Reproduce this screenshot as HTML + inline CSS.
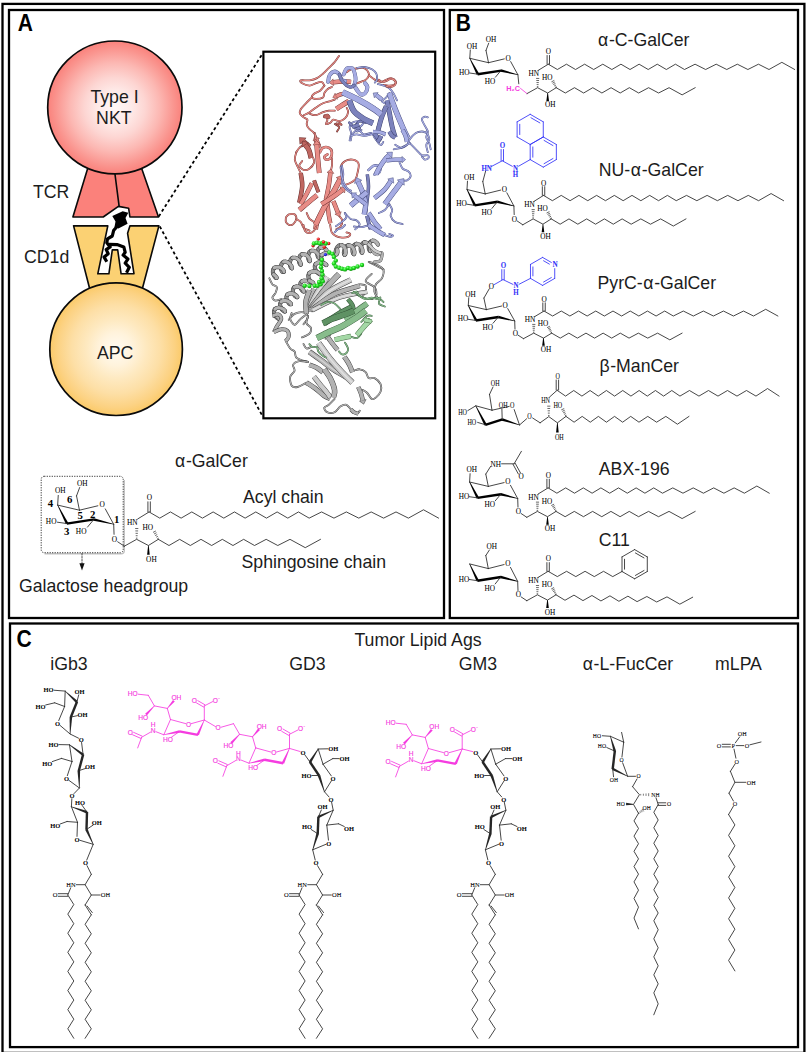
<!DOCTYPE html>
<html lang="en">
<head>
<meta charset="utf-8">
<title>iNKT cell lipid antigens</title>
<style>
html,body{margin:0;padding:0;background:#fff;}
body{width:810px;height:1052px;overflow:hidden;}
svg{display:block;}
.sa{font-family:"Liberation Sans",Arial,Helvetica,sans-serif;}
.se{font-family:"Liberation Serif","Times New Roman",Times,serif;}
</style>
</head>
<body>
<svg width="810" height="1052" viewBox="0 0 810 1052">
<defs>
<radialGradient id="gP" cx="50%" cy="50%" r="50%">
<stop offset="0" stop-color="#fff8f7"/><stop offset="0.25" stop-color="#feeae8"/><stop offset="0.45" stop-color="#fdd6d3"/><stop offset="0.67" stop-color="#fcb8b3"/><stop offset="0.88" stop-color="#fa958f"/><stop offset="1" stop-color="#fa827c"/>
</radialGradient>
<radialGradient id="gO" cx="50%" cy="50%" r="50%">
<stop offset="0" stop-color="#fffbf2"/><stop offset="0.25" stop-color="#fff3dc"/><stop offset="0.45" stop-color="#fee9c0"/><stop offset="0.67" stop-color="#fddfa6"/><stop offset="0.88" stop-color="#fcd283"/><stop offset="1" stop-color="#fbca69"/>
</radialGradient>
</defs>
<rect x="0" y="0" width="810" height="1052" fill="#fff"/>
<rect x="2.5" y="3.9" width="801.9" height="1049.0" fill="none" stroke="#000" stroke-width="2.3"/>
<rect x="9.0" y="10.0" width="435.0" height="608.0" fill="none" stroke="#000" stroke-width="2.3"/>
<rect x="449.8" y="10.0" width="348.2" height="608.0" fill="none" stroke="#000" stroke-width="2.3"/>
<rect x="10.0" y="623.5" width="788.0" height="423.6" fill="none" stroke="#000" stroke-width="2.3"/>
<polygon points="87.80,168.00 141.50,168.00 158.50,217.00 129.90,217.00 128.60,208.20 118.40,206.40 103.20,217.00 72.90,217.00" fill="#fb817b" stroke="#0a0a0a" stroke-width="1.6" stroke-linejoin="round" />
<line x1="114.70" y1="172.00" x2="119.10" y2="206.20" stroke="#0a0a0a" stroke-width="1.6" stroke-linecap="round" />
<polygon points="73.60,225.90 107.80,225.90 97.80,273.80 108.90,273.80 112.30,249.90 117.70,249.90 121.10,273.80 134.00,273.80 127.60,233.30 129.90,225.90 158.90,225.90 142.00,290.00 90.00,290.00" fill="#fbd173" stroke="#0a0a0a" stroke-width="1.6" stroke-linejoin="round" />
<ellipse cx="114.85" cy="107.4" rx="67.15" ry="66.4" fill="url(#gP)" stroke="#0a0a0a" stroke-width="1.7"/>
<circle cx="116.1" cy="349.2" r="66.3" fill="url(#gO)" stroke="#0a0a0a" stroke-width="1.7"/>
<path d="M112.3,216 L122.7,211.3 L128.3,212.7 L125.5,218.1 L127.6,223.8 L118.4,228.6 L114.5,227 L115.5,221.5 Z" fill="#000"/>
<path d="M117,226.5 L113.6,230.6 L112.3,236 L107.5,238.8 L106.8,242.8 L110.2,246.9 L106.2,249.6 L108.2,253.7 L104.1,257.1 L106.8,261.8" fill="none" stroke="#000" stroke-width="3.2" stroke-linejoin="round"/>
<path d="M109,244.3 L117,244.6 L123.8,246.9 L125.2,252.3 L123.1,255.1 L127.9,259.1 L125.2,263.2 L129.3,267.3 L126.5,272.7" fill="none" stroke="#000" stroke-width="3.2" stroke-linejoin="round"/>
<line x1="158.80" y1="216.40" x2="263.00" y2="53.00" stroke="#000" stroke-width="1.8" stroke-dasharray="3 2.7" stroke-linecap="butt"/>
<line x1="159.80" y1="226.50" x2="263.00" y2="417.00" stroke="#000" stroke-width="1.8" stroke-dasharray="3 2.7" stroke-linecap="butt"/>
<text x="114.50" y="102.80" class="sa" font-size="17.7" font-weight="normal" text-anchor="middle" fill="#1c1c1c" >Type I</text>
<text x="113.80" y="124.20" class="sa" font-size="17.7" font-weight="normal" text-anchor="middle" fill="#1c1c1c" >NKT</text>
<text x="33.00" y="198.40" class="sa" font-size="17.7" font-weight="normal" text-anchor="start" fill="#1c1c1c" >TCR</text>
<text x="24.00" y="263.00" class="sa" font-size="17.7" font-weight="normal" text-anchor="start" fill="#1c1c1c" >CD1d</text>
<text x="115.20" y="359.00" class="sa" font-size="17.7" font-weight="normal" text-anchor="middle" fill="#1c1c1c" >APC</text>
<text transform="translate(17.7,31.2) scale(0.89,1)" class="sa" font-size="23.6" font-weight="bold" fill="#000">A</text>
<rect x="263.4" y="51.7" width="171.8" height="366.6" fill="#fff" stroke="#000" stroke-width="2.2"/>
<path d="M44.5,553.7 H121 Q124.3,553.7 124.3,550.4 V480" fill="none" stroke="#9a9a9a" stroke-opacity="0.6" stroke-width="1.4"/>
<rect x="41.2" y="476.3" width="82" height="76.4" rx="3" ry="3" fill="none" stroke="#2a2a2a" stroke-width="0.95" stroke-dasharray="1.2 1.3"/>
<line x1="82.00" y1="553.50" x2="82.00" y2="565.00" stroke="#222" stroke-width="0.8" stroke-linecap="round" stroke-dasharray="1.6 1.4"/>
<polygon points="79.40,563.20 84.60,563.20 82.00,570.60" fill="#111" stroke="none" stroke-width="0" stroke-linejoin="round" />
<text x="19.00" y="591.60" class="sa" font-size="17.7" font-weight="normal" text-anchor="start" fill="#1c1c1c" >Galactose headgroup</text>
<text x="174.50" y="467.40" class="sa" font-size="17.7" font-weight="normal" text-anchor="start" fill="#1c1c1c"  dx="0.6 0.6">α-GalCer</text>
<text x="243.00" y="503.00" class="sa" font-size="17.7" font-weight="normal" text-anchor="start" fill="#1c1c1c" >Acyl chain</text>
<text x="241.50" y="568.10" class="sa" font-size="17.7" font-weight="normal" text-anchor="start" fill="#1c1c1c" >Sphingosine chain</text>
<line x1="57.66" y1="505.08" x2="79.45" y2="510.20" stroke="#262626" stroke-width="0.85" stroke-linecap="round" />
<line x1="79.45" y1="510.20" x2="97.86" y2="505.78" stroke="#262626" stroke-width="0.85" stroke-linecap="round" />
<line x1="105.31" y1="508.92" x2="113.70" y2="524.30" stroke="#262626" stroke-width="0.85" stroke-linecap="round" />
<text transform="translate(102.28,507.44) scale(0.095,0.1)" class="se" font-size="77.7" font-weight="normal" text-anchor="middle" fill="#000" stroke="#000" stroke-width="0.6">O</text>
<polygon points="57.40,505.21 65.94,524.19 68.26,523.01 57.93,504.94" fill="#000" stroke="none" stroke-width="0" stroke-linejoin="round" />
<line x1="66.80" y1="523.60" x2="94.20" y2="519.41" stroke="#000" stroke-width="2.4" stroke-linecap="butt"/>
<polygon points="113.77,524.01 94.21,518.14 93.58,520.67 113.63,524.59" fill="#000" stroke="none" stroke-width="0" stroke-linejoin="round" />
<line x1="67.10" y1="523.60" x2="57.43" y2="522.20" stroke="#262626" stroke-width="0.85" stroke-linecap="round" />
<text transform="translate(51.14,524.22) scale(0.095,0.1)" class="se" font-size="77.7" font-weight="normal" text-anchor="middle" fill="#000" stroke="#000" stroke-width="0.6">HO</text>
<line x1="93.90" y1="519.41" x2="87.49" y2="527.10" stroke="#262626" stroke-width="0.85" stroke-linecap="round" />
<text transform="translate(81.20,534.24) scale(0.095,0.1)" class="se" font-size="77.7" font-weight="normal" text-anchor="middle" fill="#000" stroke="#000" stroke-width="0.6">HO</text>
<line x1="57.66" y1="505.08" x2="58.25" y2="495.41" stroke="#262626" stroke-width="0.85" stroke-linecap="round" />
<text transform="translate(60.23,493.35) scale(0.095,0.1)" class="se" font-size="77.7" font-weight="normal" text-anchor="middle" fill="#000" stroke="#000" stroke-width="0.6">OH</text>
<line x1="79.45" y1="510.20" x2="76.54" y2="495.87" stroke="#262626" stroke-width="0.85" stroke-linecap="round" />
<line x1="76.54" y1="495.87" x2="79.68" y2="487.49" stroke="#262626" stroke-width="0.85" stroke-linecap="round" />
<text transform="translate(82.36,485.54) scale(0.095,0.1)" class="se" font-size="77.7" font-weight="normal" text-anchor="middle" fill="#000" stroke="#000" stroke-width="0.6">OH</text>
<line x1="113.70" y1="524.30" x2="114.05" y2="534.32" stroke="#262626" stroke-width="0.85" stroke-linecap="round" />
<text transform="translate(114.40,542.04) scale(0.095,0.1)" class="se" font-size="77.7" font-weight="normal" text-anchor="middle" fill="#000" stroke="#000" stroke-width="0.6">O</text>
<line x1="117.66" y1="541.77" x2="124.30" y2="546.20" stroke="#262626" stroke-width="0.85" stroke-linecap="round" />
<polyline points="124.30,546.20 136.65,539.33 148.42,545.50 158.32,539.33" fill="none" stroke="#262626" stroke-width="0.85" stroke-linejoin="round" stroke-linecap="round" />
<line x1="137.02" y1="538.13" x2="136.31" y2="538.13" stroke="#000" stroke-width="0.6" stroke-linecap="round" />
<line x1="137.25" y1="535.73" x2="136.12" y2="535.72" stroke="#000" stroke-width="0.6" stroke-linecap="round" />
<line x1="137.48" y1="533.34" x2="135.93" y2="533.32" stroke="#000" stroke-width="0.6" stroke-linecap="round" />
<line x1="137.72" y1="530.94" x2="135.75" y2="530.92" stroke="#000" stroke-width="0.6" stroke-linecap="round" />
<line x1="137.95" y1="528.54" x2="135.56" y2="528.52" stroke="#000" stroke-width="0.6" stroke-linecap="round" />
<text transform="translate(132.22,525.15) scale(0.095,0.1)" class="se" font-size="77.7" font-weight="normal" text-anchor="middle" fill="#000" stroke="#000" stroke-width="0.6">HN</text>
<line x1="137.70" y1="518.94" x2="149.12" y2="511.95" stroke="#262626" stroke-width="0.85" stroke-linecap="round" />
<line x1="150.32" y1="511.95" x2="150.32" y2="501.82" stroke="#262626" stroke-width="0.85" stroke-linecap="round" />
<line x1="147.92" y1="511.95" x2="147.92" y2="501.82" stroke="#262626" stroke-width="0.85" stroke-linecap="round" />
<text transform="translate(149.35,500.10) scale(0.095,0.1)" class="se" font-size="77.7" font-weight="normal" text-anchor="middle" fill="#000" stroke="#000" stroke-width="0.6">O</text>
<polygon points="148.12,545.50 147.12,554.82 149.72,554.82 148.72,545.50" fill="#000" stroke="none" stroke-width="0" stroke-linejoin="round" />
<text transform="translate(151.45,561.96) scale(0.095,0.1)" class="se" font-size="77.7" font-weight="normal" text-anchor="middle" fill="#000" stroke="#000" stroke-width="0.6">OH</text>
<line x1="158.21" y1="538.32" x2="157.57" y2="538.64" stroke="#000" stroke-width="0.6" stroke-linecap="round" />
<line x1="157.53" y1="536.52" x2="156.52" y2="537.03" stroke="#000" stroke-width="0.6" stroke-linecap="round" />
<line x1="156.86" y1="534.73" x2="155.47" y2="535.43" stroke="#000" stroke-width="0.6" stroke-linecap="round" />
<line x1="156.18" y1="532.93" x2="154.42" y2="533.82" stroke="#000" stroke-width="0.6" stroke-linecap="round" />
<line x1="155.51" y1="531.13" x2="153.37" y2="532.21" stroke="#000" stroke-width="0.6" stroke-linecap="round" />
<text transform="translate(147.83,530.28) scale(0.095,0.1)" class="se" font-size="77.7" font-weight="normal" text-anchor="middle" fill="#000" stroke="#000" stroke-width="0.6">HO</text>
<polyline points="158.32,539.33 168.99,545.50 179.65,539.33 190.32,545.50 200.98,539.33 211.65,545.50 222.32,539.33 232.98,545.50 243.65,539.33 254.53,545.50 266.16,539.33 277.78,545.50 289.99,539.33 305.25,547.66 320.50,539.33" fill="none" stroke="#262626" stroke-width="0.85" stroke-linejoin="round" stroke-linecap="round" />
<polyline points="149.12,511.95 159.78,518.13 170.45,511.95 181.12,518.13 191.79,511.95 202.46,518.13 213.13,511.95 223.80,518.13 234.47,511.95 245.13,518.13 255.80,511.95 266.47,518.13 277.14,511.95 287.81,518.13 298.48,511.95 309.15,518.13 321.55,511.95 333.96,518.13 346.37,511.95 358.78,518.13 371.18,511.95 383.59,518.13 396.00,511.95 408.41,518.13 423.50,509.79 438.60,518.13" fill="none" stroke="#262626" stroke-width="0.85" stroke-linejoin="round" stroke-linecap="round" />
<text x="50.4" y="506.9" class="se" font-size="10.8" font-weight="bold" text-anchor="middle" fill="#000">4</text>
<text x="69.7" y="502.8" class="se" font-size="10.8" font-weight="bold" text-anchor="middle" fill="#000">6</text>
<text x="80.3" y="518.6" class="se" font-size="10.8" font-weight="bold" text-anchor="middle" fill="#000">5</text>
<text x="92.8" y="517.8" class="se" font-size="10.8" font-weight="bold" text-anchor="middle" fill="#000">2</text>
<text x="116.6" y="522.7" class="se" font-size="10.8" font-weight="bold" text-anchor="middle" fill="#000">1</text>
<text x="66.7" y="535.4" class="se" font-size="10.8" font-weight="bold" text-anchor="middle" fill="#000">3</text>
<defs>
<radialGradient id="sG" cx="38%" cy="35%" r="70%"><stop offset="0" stop-color="#8dff8d"/><stop offset="0.45" stop-color="#22e022"/><stop offset="1" stop-color="#0a8a0a"/></radialGradient>
<radialGradient id="sR" cx="38%" cy="35%" r="70%"><stop offset="0" stop-color="#ff9a9a"/><stop offset="0.45" stop-color="#ee2222"/><stop offset="1" stop-color="#8a0a0a"/></radialGradient>
<radialGradient id="sB" cx="38%" cy="35%" r="70%"><stop offset="0" stop-color="#8a8aff"/><stop offset="0.45" stop-color="#2222ee"/><stop offset="1" stop-color="#0a0a8a"/></radialGradient>
</defs>
<g id="structure">
<path d="M339.0,55.9 C338.3,56.9 336.5,59.9 334.8,61.9 C333.1,63.8 330.9,65.8 328.9,67.8 C326.9,69.8 324.9,72.0 323.0,73.7 C321.0,75.4 319.3,77.0 317.0,78.1 C314.8,79.3 312.3,80.0 309.6,80.4 C306.9,80.7 302.0,79.9 300.7,80.4 C299.5,80.9 300.7,82.5 302.2,83.3 C303.7,84.2 307.4,85.6 309.6,85.6 C311.9,85.6 313.6,84.0 315.6,83.3 C317.5,82.7 320.0,81.5 321.5,81.9 C323.0,82.2 324.0,84.9 324.4,85.6" fill="none" stroke="#6e3030" stroke-width="1.8" stroke-linecap="round" stroke-linejoin="round"/>
<path d="M339.0,55.9 C338.3,56.9 336.5,59.9 334.8,61.9 C333.1,63.8 330.9,65.8 328.9,67.8 C326.9,69.8 324.9,72.0 323.0,73.7 C321.0,75.4 319.3,77.0 317.0,78.1 C314.8,79.3 312.3,80.0 309.6,80.4 C306.9,80.7 302.0,79.9 300.7,80.4 C299.5,80.9 300.7,82.5 302.2,83.3 C303.7,84.2 307.4,85.6 309.6,85.6 C311.9,85.6 313.6,84.0 315.6,83.3 C317.5,82.7 320.0,81.5 321.5,81.9 C323.0,82.2 324.0,84.9 324.4,85.6" fill="none" stroke="#e88c86" stroke-width="1.1" stroke-linecap="round" stroke-linejoin="round"/>
<path d="M324.4,85.6 C323.7,86.4 321.7,89.4 320.0,90.7 C318.3,92.1 315.4,92.6 314.1,93.7 C312.7,94.8 311.5,96.5 311.9,97.4 C312.2,98.3 314.4,98.9 316.3,98.9 C318.1,98.9 321.6,98.4 323.0,97.4 C324.3,96.4 323.7,94.3 324.4,93.0 C325.2,91.6 326.2,90.2 327.4,89.3 C328.6,88.3 331.1,87.4 331.9,87.0" fill="none" stroke="#6e3030" stroke-width="1.8" stroke-linecap="round" stroke-linejoin="round"/>
<path d="M324.4,85.6 C323.7,86.4 321.7,89.4 320.0,90.7 C318.3,92.1 315.4,92.6 314.1,93.7 C312.7,94.8 311.5,96.5 311.9,97.4 C312.2,98.3 314.4,98.9 316.3,98.9 C318.1,98.9 321.6,98.4 323.0,97.4 C324.3,96.4 323.7,94.3 324.4,93.0 C325.2,91.6 326.2,90.2 327.4,89.3 C328.6,88.3 331.1,87.4 331.9,87.0" fill="none" stroke="#e88c86" stroke-width="1.1" stroke-linecap="round" stroke-linejoin="round"/>
<path d="M311.9,97.4 C310.9,98.4 307.8,101.4 305.9,103.3 C304.1,105.3 301.7,107.5 300.7,109.3 C299.8,111.0 299.5,112.3 300.0,113.7 C300.5,115.1 302.5,116.4 303.7,117.4 C304.9,118.4 306.9,118.5 307.4,119.6 C307.9,120.7 306.4,122.6 306.7,124.1 C306.9,125.6 307.8,127.2 308.9,128.5 C310.0,129.9 312.2,131.0 313.3,132.2 C314.4,133.5 315.3,134.6 315.6,135.9 C315.8,137.3 314.7,138.9 314.8,140.4 C314.9,141.9 316.0,144.1 316.3,144.8" fill="none" stroke="#6e3030" stroke-width="1.8" stroke-linecap="round" stroke-linejoin="round"/>
<path d="M311.9,97.4 C310.9,98.4 307.8,101.4 305.9,103.3 C304.1,105.3 301.7,107.5 300.7,109.3 C299.8,111.0 299.5,112.3 300.0,113.7 C300.5,115.1 302.5,116.4 303.7,117.4 C304.9,118.4 306.9,118.5 307.4,119.6 C307.9,120.7 306.4,122.6 306.7,124.1 C306.9,125.6 307.8,127.2 308.9,128.5 C310.0,129.9 312.2,131.0 313.3,132.2 C314.4,133.5 315.3,134.6 315.6,135.9 C315.8,137.3 314.7,138.9 314.8,140.4 C314.9,141.9 316.0,144.1 316.3,144.8" fill="none" stroke="#e88c86" stroke-width="1.1" stroke-linecap="round" stroke-linejoin="round"/>
<path d="M303.7,115.2 C304.7,114.7 307.7,113.5 309.6,112.2 C311.6,111.0 313.3,109.3 315.6,107.8 C317.8,106.3 320.5,104.4 323.0,103.3 C325.4,102.2 328.4,101.7 330.4,101.1 C332.3,100.5 334.1,99.9 334.8,99.6" fill="none" stroke="#6e3030" stroke-width="1.8" stroke-linecap="round" stroke-linejoin="round"/>
<path d="M303.7,115.2 C304.7,114.7 307.7,113.5 309.6,112.2 C311.6,111.0 313.3,109.3 315.6,107.8 C317.8,106.3 320.5,104.4 323.0,103.3 C325.4,102.2 328.4,101.7 330.4,101.1 C332.3,100.5 334.1,99.9 334.8,99.6" fill="none" stroke="#e88c86" stroke-width="1.1" stroke-linecap="round" stroke-linejoin="round"/>
<path d="M309.6,113.7 C310.6,114.0 313.3,115.4 315.6,115.2 C317.8,114.9 320.7,113.0 323.0,112.2 C325.2,111.5 326.9,111.0 328.9,110.7 C330.9,110.5 333.8,110.7 334.8,110.7" fill="none" stroke="#6e3030" stroke-width="1.8" stroke-linecap="round" stroke-linejoin="round"/>
<path d="M309.6,113.7 C310.6,114.0 313.3,115.4 315.6,115.2 C317.8,114.9 320.7,113.0 323.0,112.2 C325.2,111.5 326.9,111.0 328.9,110.7 C330.9,110.5 333.8,110.7 334.8,110.7" fill="none" stroke="#e88c86" stroke-width="1.1" stroke-linecap="round" stroke-linejoin="round"/>
<path d="M324.4,115.2 C324.9,115.9 327.2,118.1 327.4,119.6 C327.7,121.1 325.4,123.6 325.9,124.1 C326.4,124.6 329.1,123.3 330.4,122.6 C331.6,121.9 331.9,119.9 333.3,119.6 C334.8,119.4 337.3,121.4 339.3,121.1 C341.2,120.9 343.7,119.6 345.2,118.1 C346.7,116.7 347.9,114.0 348.1,112.2 C348.4,110.5 346.9,108.5 346.7,107.8" fill="none" stroke="#6e3030" stroke-width="1.8" stroke-linecap="round" stroke-linejoin="round"/>
<path d="M324.4,115.2 C324.9,115.9 327.2,118.1 327.4,119.6 C327.7,121.1 325.4,123.6 325.9,124.1 C326.4,124.6 329.1,123.3 330.4,122.6 C331.6,121.9 331.9,119.9 333.3,119.6 C334.8,119.4 337.3,121.4 339.3,121.1 C341.2,120.9 343.7,119.6 345.2,118.1 C346.7,116.7 347.9,114.0 348.1,112.2 C348.4,110.5 346.9,108.5 346.7,107.8" fill="none" stroke="#e88c86" stroke-width="1.1" stroke-linecap="round" stroke-linejoin="round"/>
<path d="M334.8,124.1 C335.6,124.6 338.9,125.8 339.3,127.0 C339.6,128.3 337.4,130.7 337.0,131.5" fill="none" stroke="#5a2626" stroke-width="1.8" stroke-linecap="round" stroke-linejoin="round"/>
<path d="M334.8,124.1 C335.6,124.6 338.9,125.8 339.3,127.0 C339.6,128.3 337.4,130.7 337.0,131.5" fill="none" stroke="#bf6660" stroke-width="1.1" stroke-linecap="round" stroke-linejoin="round"/>
<path d="M336.3,123.3 C337.2,123.6 341.0,124.9 341.5,124.8 C342.0,124.7 339.6,123.0 339.3,122.6" fill="none" stroke="#5a2626" stroke-width="1.8" stroke-linecap="round" stroke-linejoin="round"/>
<path d="M336.3,123.3 C337.2,123.6 341.0,124.9 341.5,124.8 C342.0,124.7 339.6,123.0 339.3,122.6" fill="none" stroke="#bf6660" stroke-width="1.1" stroke-linecap="round" stroke-linejoin="round"/>
<path d="M324.4,116.7 C325.2,116.8 328.4,117.7 328.9,117.4 C329.4,117.2 328.1,115.3 327.4,115.2 C326.7,115.1 324.9,116.4 324.4,116.7" fill="none" stroke="#5a2626" stroke-width="2.8" stroke-linecap="round" stroke-linejoin="round"/>
<path d="M324.4,116.7 C325.2,116.8 328.4,117.7 328.9,117.4 C329.4,117.2 328.1,115.3 327.4,115.2 C326.7,115.1 324.9,116.4 324.4,116.7" fill="none" stroke="#bf6660" stroke-width="2.2" stroke-linecap="round" stroke-linejoin="round"/>
<path d="M346.7,72.2 C347.4,71.7 349.4,69.9 351.1,69.3 C352.8,68.6 355.1,68.8 357.0,68.5 C359.0,68.3 361.2,67.4 363.0,67.8 C364.7,68.1 366.4,69.5 367.4,70.7 C368.4,72.0 369.1,73.7 368.9,75.2 C368.6,76.7 367.3,78.5 365.9,79.6 C364.6,80.7 362.2,81.2 360.7,81.9 C359.3,82.5 357.7,83.1 357.0,83.3" fill="none" stroke="#6e3030" stroke-width="1.8" stroke-linecap="round" stroke-linejoin="round"/>
<path d="M346.7,72.2 C347.4,71.7 349.4,69.9 351.1,69.3 C352.8,68.6 355.1,68.8 357.0,68.5 C359.0,68.3 361.2,67.4 363.0,67.8 C364.7,68.1 366.4,69.5 367.4,70.7 C368.4,72.0 369.1,73.7 368.9,75.2 C368.6,76.7 367.3,78.5 365.9,79.6 C364.6,80.7 362.2,81.2 360.7,81.9 C359.3,82.5 357.7,83.1 357.0,83.3" fill="none" stroke="#e88c86" stroke-width="1.1" stroke-linecap="round" stroke-linejoin="round"/>
<path d="M368.9,75.2 C369.9,75.9 372.8,78.5 374.8,79.6 C376.8,80.7 378.8,81.9 380.7,81.9 C382.7,81.9 384.9,80.2 386.7,79.6 C388.4,79.0 389.6,77.9 391.1,78.1 C392.6,78.4 395.1,80.0 395.6,81.1 C396.0,82.2 395.1,84.1 394.1,84.8 C393.1,85.6 391.4,85.6 389.6,85.6 C387.9,85.6 384.7,84.9 383.7,84.8" fill="none" stroke="#6e3030" stroke-width="1.8" stroke-linecap="round" stroke-linejoin="round"/>
<path d="M368.9,75.2 C369.9,75.9 372.8,78.5 374.8,79.6 C376.8,80.7 378.8,81.9 380.7,81.9 C382.7,81.9 384.9,80.2 386.7,79.6 C388.4,79.0 389.6,77.9 391.1,78.1 C392.6,78.4 395.1,80.0 395.6,81.1 C396.0,82.2 395.1,84.1 394.1,84.8 C393.1,85.6 391.4,85.6 389.6,85.6 C387.9,85.6 384.7,84.9 383.7,84.8" fill="none" stroke="#e88c86" stroke-width="1.1" stroke-linecap="round" stroke-linejoin="round"/>
<path d="M351.1,81.9 C349.6,81.8 345.2,81.3 342.2,81.4 C339.3,81.5 334.8,82.1 333.3,82.3" fill="none" stroke="#6e3030" stroke-width="4.5" stroke-linecap="butt" stroke-linejoin="round"/>
<polygon points="333.0,78.9 329.4,82.7 333.7,85.7" fill="#e88c86" stroke="#6e3030" stroke-width="0.5" stroke-linejoin="round"/>
<path d="M351.1,81.9 C349.6,81.8 345.2,81.3 342.2,81.4 C339.3,81.5 334.8,82.1 333.3,82.3" fill="none" stroke="#e88c86" stroke-width="3.6" stroke-linecap="butt" stroke-linejoin="round"/>
<path d="M347.4,93.0 C346.3,93.2 342.6,93.9 340.7,94.4 C338.9,95.0 337.0,95.9 336.3,96.2" fill="none" stroke="#6e3030" stroke-width="4.3" stroke-linecap="butt" stroke-linejoin="round"/>
<polygon points="335.1,93.2 332.8,97.6 337.5,99.2" fill="#e88c86" stroke="#6e3030" stroke-width="0.5" stroke-linejoin="round"/>
<path d="M347.4,93.0 C346.3,93.2 342.6,93.9 340.7,94.4 C338.9,95.0 337.0,95.9 336.3,96.2" fill="none" stroke="#e88c86" stroke-width="3.4" stroke-linecap="butt" stroke-linejoin="round"/>
<path d="M348.9,101.1 C347.8,101.8 344.3,103.8 342.2,105.1 C340.1,106.4 337.3,108.3 336.3,109.0" fill="none" stroke="#6e3030" stroke-width="5.1" stroke-linecap="butt" stroke-linejoin="round"/>
<path d="M348.9,101.1 C347.8,101.8 344.3,103.8 342.2,105.1 C340.1,106.4 337.3,108.3 336.3,109.0" fill="none" stroke="#e88c86" stroke-width="4.2" stroke-linecap="butt" stroke-linejoin="round"/>
<path d="M309.6,147.0 C309.0,146.5 307.0,145.1 305.9,144.1 C304.8,143.1 303.5,141.6 303.0,141.1" fill="none" stroke="#5a2626" stroke-width="5.5" stroke-linecap="butt" stroke-linejoin="round"/>
<polygon points="306.1,138.0 299.4,137.5 299.9,144.2" fill="#bf6660" stroke="#5a2626" stroke-width="0.5" stroke-linejoin="round"/>
<path d="M309.6,147.0 C309.0,146.5 307.0,145.1 305.9,144.1 C304.8,143.1 303.5,141.6 303.0,141.1" fill="none" stroke="#bf6660" stroke-width="4.6" stroke-linecap="butt" stroke-linejoin="round"/>
<path d="M319.3,147.8 C319.0,147.0 318.3,144.7 317.8,143.3 C317.3,142.0 316.5,140.2 316.3,139.6" fill="none" stroke="#6e3030" stroke-width="4.5" stroke-linecap="butt" stroke-linejoin="round"/>
<polygon points="319.5,138.4 314.8,136.0 313.1,140.9" fill="#e88c86" stroke="#6e3030" stroke-width="0.5" stroke-linejoin="round"/>
<path d="M319.3,147.8 C319.0,147.0 318.3,144.7 317.8,143.3 C317.3,142.0 316.5,140.2 316.3,139.6" fill="none" stroke="#e88c86" stroke-width="3.6" stroke-linecap="butt" stroke-linejoin="round"/>
<path d="M357.0,67.8 C358.3,67.7 362.0,66.8 364.4,67.0 C366.9,67.3 369.9,68.1 371.9,69.3 C373.8,70.4 375.4,72.0 376.3,73.7 C377.2,75.4 377.3,78.1 377.0,79.6 C376.8,81.1 375.2,82.1 374.8,82.6" fill="none" stroke="#454a7c" stroke-width="1.8" stroke-linecap="round" stroke-linejoin="round"/>
<path d="M357.0,67.8 C358.3,67.7 362.0,66.8 364.4,67.0 C366.9,67.3 369.9,68.1 371.9,69.3 C373.8,70.4 375.4,72.0 376.3,73.7 C377.2,75.4 377.3,78.1 377.0,79.6 C376.8,81.1 375.2,82.1 374.8,82.6" fill="none" stroke="#a6ace3" stroke-width="1.1" stroke-linecap="round" stroke-linejoin="round"/>
<path d="M377.8,84.1 C378.8,84.3 381.7,84.8 383.7,85.6 C385.7,86.3 387.9,87.0 389.6,88.5 C391.4,90.0 392.8,92.5 394.1,94.4 C395.3,96.4 396.5,99.4 397.0,100.4" fill="none" stroke="#454a7c" stroke-width="1.8" stroke-linecap="round" stroke-linejoin="round"/>
<path d="M377.8,84.1 C378.8,84.3 381.7,84.8 383.7,85.6 C385.7,86.3 387.9,87.0 389.6,88.5 C391.4,90.0 392.8,92.5 394.1,94.4 C395.3,96.4 396.5,99.4 397.0,100.4" fill="none" stroke="#a6ace3" stroke-width="1.1" stroke-linecap="round" stroke-linejoin="round"/>
<path d="M349.6,140.4 C349.9,139.1 351.1,135.2 351.1,133.0 C351.1,130.7 349.4,128.8 349.6,127.0 C349.9,125.3 351.1,123.6 352.6,122.6 C354.1,121.6 356.8,121.1 358.5,121.1 C360.2,121.1 362.7,121.6 363.0,122.6 C363.2,123.6 361.2,126.0 360.0,127.0 C358.8,128.0 356.0,127.8 355.6,128.5 C355.1,129.3 356.0,131.2 357.0,131.5 C358.0,131.7 360.7,130.2 361.5,130.0" fill="none" stroke="#454a7c" stroke-width="1.8" stroke-linecap="round" stroke-linejoin="round"/>
<path d="M349.6,140.4 C349.9,139.1 351.1,135.2 351.1,133.0 C351.1,130.7 349.4,128.8 349.6,127.0 C349.9,125.3 351.1,123.6 352.6,122.6 C354.1,121.6 356.8,121.1 358.5,121.1 C360.2,121.1 362.7,121.6 363.0,122.6 C363.2,123.6 361.2,126.0 360.0,127.0 C358.8,128.0 356.0,127.8 355.6,128.5 C355.1,129.3 356.0,131.2 357.0,131.5 C358.0,131.7 360.7,130.2 361.5,130.0" fill="none" stroke="#a6ace3" stroke-width="1.1" stroke-linecap="round" stroke-linejoin="round"/>
<path d="M349.3,122.6 C350.0,123.3 352.0,126.0 353.7,127.0 C355.4,128.0 359.1,129.0 359.6,128.5 C360.1,128.0 356.4,125.3 356.7,124.1 C356.9,122.8 359.6,121.4 361.1,121.1 C362.6,120.9 364.8,122.3 365.6,122.6" fill="none" stroke="#3a3e68" stroke-width="2.6" stroke-linecap="round" stroke-linejoin="round"/>
<path d="M349.3,122.6 C350.0,123.3 352.0,126.0 353.7,127.0 C355.4,128.0 359.1,129.0 359.6,128.5 C360.1,128.0 356.4,125.3 356.7,124.1 C356.9,122.8 359.6,121.4 361.1,121.1 C362.6,120.9 364.8,122.3 365.6,122.6" fill="none" stroke="#7c82bc" stroke-width="2.0" stroke-linecap="round" stroke-linejoin="round"/>
<path d="M350.7,140.4 C351.0,139.4 351.0,136.2 352.2,134.4 C353.5,132.7 356.2,130.0 358.1,130.0 C360.1,130.0 361.9,134.0 364.1,134.4 C366.3,134.9 369.8,132.5 371.5,133.0 C373.2,133.5 373.0,135.4 374.4,137.4 C375.9,139.4 378.9,144.1 380.4,144.8 C381.9,145.6 382.8,142.3 383.3,141.9" fill="none" stroke="#454a7c" stroke-width="1.8" stroke-linecap="round" stroke-linejoin="round"/>
<path d="M350.7,140.4 C351.0,139.4 351.0,136.2 352.2,134.4 C353.5,132.7 356.2,130.0 358.1,130.0 C360.1,130.0 361.9,134.0 364.1,134.4 C366.3,134.9 369.8,132.5 371.5,133.0 C373.2,133.5 373.0,135.4 374.4,137.4 C375.9,139.4 378.9,144.1 380.4,144.8 C381.9,145.6 382.8,142.3 383.3,141.9" fill="none" stroke="#a6ace3" stroke-width="1.1" stroke-linecap="round" stroke-linejoin="round"/>
<path d="M395.2,144.8 C396.2,145.3 399.1,147.8 401.1,147.8 C403.1,147.8 405.6,146.3 407.0,144.8 C408.5,143.3 408.5,140.9 410.0,138.9 C411.5,136.9 414.0,134.2 415.9,133.0 C417.9,131.7 420.1,131.5 421.9,131.5 C423.6,131.5 425.6,132.7 426.3,133.0" fill="none" stroke="#454a7c" stroke-width="1.8" stroke-linecap="round" stroke-linejoin="round"/>
<path d="M395.2,144.8 C396.2,145.3 399.1,147.8 401.1,147.8 C403.1,147.8 405.6,146.3 407.0,144.8 C408.5,143.3 408.5,140.9 410.0,138.9 C411.5,136.9 414.0,134.2 415.9,133.0 C417.9,131.7 420.1,131.5 421.9,131.5 C423.6,131.5 425.6,132.7 426.3,133.0" fill="none" stroke="#a6ace3" stroke-width="1.1" stroke-linecap="round" stroke-linejoin="round"/>
<path d="M427.8,117.4 C427.3,117.3 425.8,116.3 424.8,116.7 C423.8,117.0 421.9,118.1 421.9,119.6 C421.9,121.1 423.8,123.6 424.8,125.6 C425.8,127.5 427.5,129.5 427.8,131.5 C428.0,133.5 426.0,135.4 426.3,137.4 C426.5,139.4 428.5,141.4 429.3,143.3 C430.0,145.3 430.5,148.3 430.7,149.3" fill="none" stroke="#454a7c" stroke-width="1.8" stroke-linecap="round" stroke-linejoin="round"/>
<path d="M427.8,117.4 C427.3,117.3 425.8,116.3 424.8,116.7 C423.8,117.0 421.9,118.1 421.9,119.6 C421.9,121.1 423.8,123.6 424.8,125.6 C425.8,127.5 427.5,129.5 427.8,131.5 C428.0,133.5 426.0,135.4 426.3,137.4 C426.5,139.4 428.5,141.4 429.3,143.3 C430.0,145.3 430.5,148.3 430.7,149.3" fill="none" stroke="#a6ace3" stroke-width="1.1" stroke-linecap="round" stroke-linejoin="round"/>
<path d="M378.9,79.6 C379.4,80.0 380.6,81.6 381.9,81.9 C383.1,82.1 384.8,81.6 386.3,81.1 C387.8,80.6 389.3,78.9 390.7,78.9 C392.2,78.9 394.4,80.1 395.2,81.1 C395.9,82.1 395.9,83.8 395.2,84.8 C394.4,85.8 392.2,86.8 390.7,87.0 C389.3,87.3 387.0,86.4 386.3,86.3" fill="none" stroke="#6e3030" stroke-width="1.8" stroke-linecap="round" stroke-linejoin="round"/>
<path d="M378.9,79.6 C379.4,80.0 380.6,81.6 381.9,81.9 C383.1,82.1 384.8,81.6 386.3,81.1 C387.8,80.6 389.3,78.9 390.7,78.9 C392.2,78.9 394.4,80.1 395.2,81.1 C395.9,82.1 395.9,83.8 395.2,84.8 C394.4,85.8 392.2,86.8 390.7,87.0 C389.3,87.3 387.0,86.4 386.3,86.3" fill="none" stroke="#e88c86" stroke-width="1.1" stroke-linecap="round" stroke-linejoin="round"/>
<path d="M389.3,93.0 C388.8,93.7 387.5,96.0 386.3,97.4 C385.1,98.8 382.1,100.1 381.9,101.1 C381.6,102.1 384.3,103.0 384.8,103.3" fill="none" stroke="#454a7c" stroke-width="1.8" stroke-linecap="round" stroke-linejoin="round"/>
<path d="M389.3,93.0 C388.8,93.7 387.5,96.0 386.3,97.4 C385.1,98.8 382.1,100.1 381.9,101.1 C381.6,102.1 384.3,103.0 384.8,103.3" fill="none" stroke="#a6ace3" stroke-width="1.1" stroke-linecap="round" stroke-linejoin="round"/>
<path d="M395.2,137.4 C394.7,135.7 393.2,131.2 392.2,127.0 C391.2,122.8 390.1,116.7 389.3,112.2 C388.4,107.8 387.4,102.3 387.0,100.4" fill="none" stroke="#3a3e68" stroke-width="4.9" stroke-linecap="butt" stroke-linejoin="round"/>
<path d="M395.2,137.4 C394.7,135.7 393.2,131.2 392.2,127.0 C391.2,122.8 390.1,116.7 389.3,112.2 C388.4,107.8 387.4,102.3 387.0,100.4" fill="none" stroke="#7c82bc" stroke-width="4.0" stroke-linecap="butt" stroke-linejoin="round"/>
<path d="M377.4,133.0 C377.7,132.0 378.1,129.8 378.9,127.0 C379.6,124.3 380.6,120.1 381.9,116.7 C383.1,113.2 385.6,108.0 386.3,106.3" fill="none" stroke="#3a3e68" stroke-width="4.9" stroke-linecap="butt" stroke-linejoin="round"/>
<path d="M377.4,133.0 C377.7,132.0 378.1,129.8 378.9,127.0 C379.6,124.3 380.6,120.1 381.9,116.7 C383.1,113.2 385.6,108.0 386.3,106.3" fill="none" stroke="#7c82bc" stroke-width="4.0" stroke-linecap="butt" stroke-linejoin="round"/>
<path d="M349.3,100.4 C350.0,102.1 351.5,107.8 353.7,110.7 C355.9,113.7 359.4,116.0 362.6,118.1 C365.8,120.2 371.2,122.5 373.0,123.3" fill="none" stroke="#3a3e68" stroke-width="5.9" stroke-linecap="butt" stroke-linejoin="round"/>
<path d="M349.3,100.4 C350.0,102.1 351.5,107.8 353.7,110.7 C355.9,113.7 359.4,116.0 362.6,118.1 C365.8,120.2 371.2,122.5 373.0,123.3" fill="none" stroke="#7c82bc" stroke-width="5.0" stroke-linecap="butt" stroke-linejoin="round"/>
<path d="M342.6,92.2 C345.4,93.6 354.3,97.5 359.6,100.4 C364.9,103.2 370.9,106.9 374.4,109.3 C378.0,111.6 380.0,113.6 381.1,114.4" fill="none" stroke="#454a7c" stroke-width="6.3" stroke-linecap="butt" stroke-linejoin="round"/>
<path d="M342.6,92.2 C345.4,93.6 354.3,97.5 359.6,100.4 C364.9,103.2 370.9,106.9 374.4,109.3 C378.0,111.6 380.0,113.6 381.1,114.4" fill="none" stroke="#a6ace3" stroke-width="5.4" stroke-linecap="butt" stroke-linejoin="round"/>
<path d="M389.3,93.0 C390.2,95.7 393.0,103.6 395.2,109.3 C397.4,114.9 400.5,122.2 402.6,127.0 C404.7,131.9 406.9,136.3 407.8,138.1" fill="none" stroke="#454a7c" stroke-width="5.5" stroke-linecap="butt" stroke-linejoin="round"/>
<path d="M389.3,93.0 C390.2,95.7 393.0,103.6 395.2,109.3 C397.4,114.9 400.5,122.2 402.6,127.0 C404.7,131.9 406.9,136.3 407.8,138.1" fill="none" stroke="#a6ace3" stroke-width="4.6" stroke-linecap="butt" stroke-linejoin="round"/>
<path d="M381.9,99.6 C381.4,99.2 379.8,97.9 378.9,97.1 C378.0,96.4 376.7,95.5 376.2,95.2" fill="none" stroke="#454a7c" stroke-width="4.3" stroke-linecap="butt" stroke-linejoin="round"/>
<polygon points="378.1,92.6 373.2,93.0 374.3,97.8" fill="#a6ace3" stroke="#454a7c" stroke-width="0.5" stroke-linejoin="round"/>
<path d="M381.9,99.6 C381.4,99.2 379.8,97.9 378.9,97.1 C378.0,96.4 376.7,95.5 376.2,95.2" fill="none" stroke="#a6ace3" stroke-width="3.4" stroke-linecap="butt" stroke-linejoin="round"/>
<path d="M374.4,133.7 C374.9,134.3 376.5,136.2 377.4,137.4 C378.3,138.6 379.6,140.5 380.1,141.1" fill="none" stroke="#3a3e68" stroke-width="4.5" stroke-linecap="butt" stroke-linejoin="round"/>
<path d="M374.4,133.7 C374.9,134.3 376.5,136.2 377.4,137.4 C378.3,138.6 379.6,140.5 380.1,141.1" fill="none" stroke="#7c82bc" stroke-width="3.6" stroke-linecap="butt" stroke-linejoin="round"/>
<path d="M373.0,131.8 C374.2,131.9 378.3,131.9 380.4,132.4 C382.5,132.8 384.7,134.1 385.6,134.4" fill="none" stroke="#454a7c" stroke-width="3.9" stroke-linecap="butt" stroke-linejoin="round"/>
<path d="M373.0,131.8 C374.2,131.9 378.3,131.9 380.4,132.4 C382.5,132.8 384.7,134.1 385.6,134.4" fill="none" stroke="#a6ace3" stroke-width="3.0" stroke-linecap="butt" stroke-linejoin="round"/>
<path d="M352.2,127.0 C352.8,126.8 354.8,126.3 355.9,125.9 C357.0,125.4 358.4,124.4 358.9,124.1" fill="none" stroke="#3a3e68" stroke-width="3.9" stroke-linecap="butt" stroke-linejoin="round"/>
<path d="M352.2,127.0 C352.8,126.8 354.8,126.3 355.9,125.9 C357.0,125.4 358.4,124.4 358.9,124.1" fill="none" stroke="#7c82bc" stroke-width="3.0" stroke-linecap="butt" stroke-linejoin="round"/>
<path d="M328.1,81.9 C328.4,80.7 328.5,76.9 329.6,75.2 C330.7,73.5 333.2,71.6 334.8,71.5 C336.4,71.4 338.1,73.1 339.3,74.4 C340.4,75.8 340.5,78.5 341.5,79.6 C342.5,80.7 344.6,80.9 345.2,81.1" fill="none" stroke="#454a7c" stroke-width="3.8" stroke-linecap="round" stroke-linejoin="round"/>
<path d="M328.1,81.9 C328.4,80.7 328.5,76.9 329.6,75.2 C330.7,73.5 333.2,71.6 334.8,71.5 C336.4,71.4 338.1,73.1 339.3,74.4 C340.4,75.8 340.5,78.5 341.5,79.6 C342.5,80.7 344.6,80.9 345.2,81.1" fill="none" stroke="#a6ace3" stroke-width="3.2" stroke-linecap="round" stroke-linejoin="round"/>
<path d="M343.7,74.4 C344.2,73.5 345.2,69.5 346.7,68.5 C348.1,67.5 351.2,67.7 352.6,68.5 C354.0,69.4 354.3,71.9 354.8,73.7 C355.3,75.6 355.7,77.7 355.6,79.6 C355.4,81.6 354.3,84.6 354.1,85.6" fill="none" stroke="#454a7c" stroke-width="3.8" stroke-linecap="round" stroke-linejoin="round"/>
<path d="M343.7,74.4 C344.2,73.5 345.2,69.5 346.7,68.5 C348.1,67.5 351.2,67.7 352.6,68.5 C354.0,69.4 354.3,71.9 354.8,73.7 C355.3,75.6 355.7,77.7 355.6,79.6 C355.4,81.6 354.3,84.6 354.1,85.6" fill="none" stroke="#a6ace3" stroke-width="3.2" stroke-linecap="round" stroke-linejoin="round"/>
<path d="M354.1,85.6 C354.6,86.3 355.9,88.5 357.0,90.0 C358.1,91.5 359.4,94.0 360.7,94.4 C362.1,94.9 364.1,94.2 365.2,93.0 C366.3,91.7 367.4,88.6 367.4,87.0 C367.4,85.4 365.6,84.0 365.2,83.3" fill="none" stroke="#454a7c" stroke-width="4.0" stroke-linecap="round" stroke-linejoin="round"/>
<path d="M354.1,85.6 C354.6,86.3 355.9,88.5 357.0,90.0 C358.1,91.5 359.4,94.0 360.7,94.4 C362.1,94.9 364.1,94.2 365.2,93.0 C366.3,91.7 367.4,88.6 367.4,87.0 C367.4,85.4 365.6,84.0 365.2,83.3" fill="none" stroke="#a6ace3" stroke-width="3.4" stroke-linecap="round" stroke-linejoin="round"/>
<path d="M339.3,74.4 C339.9,75.7 341.2,79.8 343.0,81.9 C344.7,84.0 347.8,86.4 349.6,87.0 C351.5,87.7 353.3,85.8 354.1,85.6" fill="none" stroke="#3a3e68" stroke-width="3.2" stroke-linecap="round" stroke-linejoin="round"/>
<path d="M339.3,74.4 C339.9,75.7 341.2,79.8 343.0,81.9 C344.7,84.0 347.8,86.4 349.6,87.0 C351.5,87.7 353.3,85.8 354.1,85.6" fill="none" stroke="#7c82bc" stroke-width="2.6" stroke-linecap="round" stroke-linejoin="round"/>
<path d="M296.3,152.2 C296.0,153.5 294.6,157.2 294.8,159.6 C295.1,162.1 296.8,164.8 297.8,167.0 C298.8,169.3 300.2,172.0 300.7,173.0" fill="none" stroke="#6e3030" stroke-width="1.8" stroke-linecap="round" stroke-linejoin="round"/>
<path d="M296.3,152.2 C296.0,153.5 294.6,157.2 294.8,159.6 C295.1,162.1 296.8,164.8 297.8,167.0 C298.8,169.3 300.2,172.0 300.7,173.0" fill="none" stroke="#e88c86" stroke-width="1.1" stroke-linecap="round" stroke-linejoin="round"/>
<path d="M302.2,161.1 C301.7,161.9 299.0,164.1 299.3,165.6 C299.5,167.0 302.0,169.5 303.7,170.0 C305.4,170.5 307.9,169.8 309.6,168.5 C311.4,167.3 313.5,164.3 314.1,162.6 C314.7,160.9 313.5,158.9 313.3,158.1" fill="none" stroke="#6e3030" stroke-width="1.8" stroke-linecap="round" stroke-linejoin="round"/>
<path d="M302.2,161.1 C301.7,161.9 299.0,164.1 299.3,165.6 C299.5,167.0 302.0,169.5 303.7,170.0 C305.4,170.5 307.9,169.8 309.6,168.5 C311.4,167.3 313.5,164.3 314.1,162.6 C314.7,160.9 313.5,158.9 313.3,158.1" fill="none" stroke="#e88c86" stroke-width="1.1" stroke-linecap="round" stroke-linejoin="round"/>
<path d="M320.0,152.2 C320.5,151.5 321.5,148.5 323.0,147.8 C324.4,147.0 327.4,147.0 328.9,147.8 C330.4,148.5 331.6,150.5 331.9,152.2 C332.1,154.0 331.4,156.9 330.4,158.1 C329.4,159.4 326.9,159.9 325.9,159.6 C324.9,159.4 324.2,157.5 324.4,156.7 C324.7,155.8 326.9,154.8 327.4,154.4" fill="none" stroke="#6e3030" stroke-width="2.6" stroke-linecap="round" stroke-linejoin="round"/>
<path d="M320.0,152.2 C320.5,151.5 321.5,148.5 323.0,147.8 C324.4,147.0 327.4,147.0 328.9,147.8 C330.4,148.5 331.6,150.5 331.9,152.2 C332.1,154.0 331.4,156.9 330.4,158.1 C329.4,159.4 326.9,159.9 325.9,159.6 C324.9,159.4 324.2,157.5 324.4,156.7 C324.7,155.8 326.9,154.8 327.4,154.4" fill="none" stroke="#e88c86" stroke-width="2.0" stroke-linecap="round" stroke-linejoin="round"/>
<path d="M331.9,158.1 C331.9,159.1 332.3,162.1 332.1,164.1 C332.0,166.0 331.3,169.0 331.1,170.0" fill="none" stroke="#6e3030" stroke-width="1.8" stroke-linecap="round" stroke-linejoin="round"/>
<path d="M331.9,158.1 C331.9,159.1 332.3,162.1 332.1,164.1 C332.0,166.0 331.3,169.0 331.1,170.0" fill="none" stroke="#e88c86" stroke-width="1.1" stroke-linecap="round" stroke-linejoin="round"/>
<path d="M342.2,174.4 C342.0,173.2 340.2,169.3 340.7,167.0 C341.2,164.8 343.2,162.3 345.2,161.1 C347.2,159.9 350.4,159.3 352.6,159.6 C354.8,160.0 357.7,161.4 358.5,163.3 C359.4,165.3 358.3,168.9 357.8,171.5 C357.3,174.1 356.9,176.9 355.6,178.9 C354.2,180.9 351.4,182.3 349.6,183.3 C347.9,184.3 345.9,184.6 345.2,184.8" fill="none" stroke="#6e3030" stroke-width="1.8" stroke-linecap="round" stroke-linejoin="round"/>
<path d="M342.2,174.4 C342.0,173.2 340.2,169.3 340.7,167.0 C341.2,164.8 343.2,162.3 345.2,161.1 C347.2,159.9 350.4,159.3 352.6,159.6 C354.8,160.0 357.7,161.4 358.5,163.3 C359.4,165.3 358.3,168.9 357.8,171.5 C357.3,174.1 356.9,176.9 355.6,178.9 C354.2,180.9 351.4,182.3 349.6,183.3 C347.9,184.3 345.9,184.6 345.2,184.8" fill="none" stroke="#e88c86" stroke-width="1.1" stroke-linecap="round" stroke-linejoin="round"/>
<path d="M285.9,217.4 C286.4,216.9 287.4,214.9 288.9,214.4 C290.4,214.0 293.6,213.7 294.8,214.4 C296.0,215.2 296.5,217.3 296.3,218.9 C296.0,220.5 294.6,223.1 293.3,224.1 C292.1,225.1 290.1,225.2 288.9,224.8 C287.7,224.4 286.4,223.1 285.9,221.9 C285.4,220.6 285.9,218.1 285.9,217.4" fill="none" stroke="#6e3030" stroke-width="1.8" stroke-linecap="round" stroke-linejoin="round"/>
<path d="M285.9,217.4 C286.4,216.9 287.4,214.9 288.9,214.4 C290.4,214.0 293.6,213.7 294.8,214.4 C296.0,215.2 296.5,217.3 296.3,218.9 C296.0,220.5 294.6,223.1 293.3,224.1 C292.1,225.1 290.1,225.2 288.9,224.8 C287.7,224.4 286.4,223.1 285.9,221.9 C285.4,220.6 285.9,218.1 285.9,217.4" fill="none" stroke="#e88c86" stroke-width="1.1" stroke-linecap="round" stroke-linejoin="round"/>
<path d="M296.3,218.9 C297.0,219.4 299.5,220.4 300.7,221.9 C302.0,223.3 302.2,226.3 303.7,227.8 C305.2,229.3 308.6,230.2 309.6,230.7" fill="none" stroke="#6e3030" stroke-width="1.8" stroke-linecap="round" stroke-linejoin="round"/>
<path d="M296.3,218.9 C297.0,219.4 299.5,220.4 300.7,221.9 C302.0,223.3 302.2,226.3 303.7,227.8 C305.2,229.3 308.6,230.2 309.6,230.7" fill="none" stroke="#e88c86" stroke-width="1.1" stroke-linecap="round" stroke-linejoin="round"/>
<path d="M339.3,215.9 C339.8,216.7 342.0,218.6 342.2,220.4 C342.5,222.1 341.7,224.8 340.7,226.3 C339.8,227.8 337.0,228.8 336.3,229.3" fill="none" stroke="#6e3030" stroke-width="1.8" stroke-linecap="round" stroke-linejoin="round"/>
<path d="M339.3,215.9 C339.8,216.7 342.0,218.6 342.2,220.4 C342.5,222.1 341.7,224.8 340.7,226.3 C339.8,227.8 337.0,228.8 336.3,229.3" fill="none" stroke="#e88c86" stroke-width="1.1" stroke-linecap="round" stroke-linejoin="round"/>
<path d="M306.7,213.0 C307.2,214.0 308.4,217.4 309.6,218.9 C310.9,220.4 313.3,221.4 314.1,221.9" fill="none" stroke="#6e3030" stroke-width="1.8" stroke-linecap="round" stroke-linejoin="round"/>
<path d="M306.7,213.0 C307.2,214.0 308.4,217.4 309.6,218.9 C310.9,220.4 313.3,221.4 314.1,221.9" fill="none" stroke="#e88c86" stroke-width="1.1" stroke-linecap="round" stroke-linejoin="round"/>
<path d="M314.8,133.0 C314.9,133.6 315.5,135.7 315.6,136.7 C315.6,137.7 315.3,138.5 315.3,138.9" fill="none" stroke="#6e3030" stroke-width="1.8" stroke-linecap="round" stroke-linejoin="round"/>
<path d="M314.8,133.0 C314.9,133.6 315.5,135.7 315.6,136.7 C315.6,137.7 315.3,138.5 315.3,138.9" fill="none" stroke="#e88c86" stroke-width="1.1" stroke-linecap="round" stroke-linejoin="round"/>
<path d="M296.3,152.2 C296.8,151.5 298.0,149.0 299.3,147.8 C300.5,146.5 303.0,145.3 303.7,144.8" fill="none" stroke="#6e3030" stroke-width="1.8" stroke-linecap="round" stroke-linejoin="round"/>
<path d="M296.3,152.2 C296.8,151.5 298.0,149.0 299.3,147.8 C300.5,146.5 303.0,145.3 303.7,144.8" fill="none" stroke="#e88c86" stroke-width="1.1" stroke-linecap="round" stroke-linejoin="round"/>
<path d="M299.3,202.6 C299.8,199.9 302.0,191.2 302.2,186.3 C302.5,181.4 301.0,175.2 300.7,173.0" fill="none" stroke="#5a2626" stroke-width="4.5" stroke-linecap="butt" stroke-linejoin="round"/>
<path d="M299.3,202.6 C299.8,199.9 302.0,191.2 302.2,186.3 C302.5,181.4 301.0,175.2 300.7,173.0" fill="none" stroke="#bf6660" stroke-width="3.6" stroke-linecap="butt" stroke-linejoin="round"/>
<path d="M300.7,204.1 C301.7,202.3 304.8,197.2 306.7,193.7 C308.5,190.2 311.0,185.1 311.9,183.3" fill="none" stroke="#6e3030" stroke-width="4.5" stroke-linecap="butt" stroke-linejoin="round"/>
<path d="M300.7,204.1 C301.7,202.3 304.8,197.2 306.7,193.7 C308.5,190.2 311.0,185.1 311.9,183.3" fill="none" stroke="#e88c86" stroke-width="3.6" stroke-linecap="butt" stroke-linejoin="round"/>
<path d="M318.5,192.2 C318.1,191.2 317.0,188.3 316.3,186.3 C315.6,184.3 314.4,181.4 314.1,180.4" fill="none" stroke="#5a2626" stroke-width="3.9" stroke-linecap="butt" stroke-linejoin="round"/>
<path d="M318.5,192.2 C318.1,191.2 317.0,188.3 316.3,186.3 C315.6,184.3 314.4,181.4 314.1,180.4" fill="none" stroke="#bf6660" stroke-width="3.0" stroke-linecap="butt" stroke-linejoin="round"/>
<path d="M299.3,210.0 C300.7,208.8 305.2,205.1 308.1,202.6 C311.1,200.1 315.6,196.4 317.0,195.2" fill="none" stroke="#6e3030" stroke-width="5.1" stroke-linecap="butt" stroke-linejoin="round"/>
<path d="M299.3,210.0 C300.7,208.8 305.2,205.1 308.1,202.6 C311.1,200.1 315.6,196.4 317.0,195.2" fill="none" stroke="#e88c86" stroke-width="4.2" stroke-linecap="butt" stroke-linejoin="round"/>
<path d="M311.1,158.1 C310.7,156.8 309.9,152.2 308.9,150.0 C307.9,147.8 305.8,145.7 305.2,144.8" fill="none" stroke="#5a2626" stroke-width="5.1" stroke-linecap="butt" stroke-linejoin="round"/>
<polygon points="308.4,142.5 302.5,141.1 301.9,147.1" fill="#bf6660" stroke="#5a2626" stroke-width="0.5" stroke-linejoin="round"/>
<path d="M311.1,158.1 C310.7,156.8 309.9,152.2 308.9,150.0 C307.9,147.8 305.8,145.7 305.2,144.8" fill="none" stroke="#bf6660" stroke-width="4.2" stroke-linecap="butt" stroke-linejoin="round"/>
<path d="M319.3,173.0 C319.0,170.5 318.2,162.8 317.8,158.1 C317.4,153.5 316.9,147.0 316.7,144.8" fill="none" stroke="#6e3030" stroke-width="4.9" stroke-linecap="butt" stroke-linejoin="round"/>
<polygon points="320.5,144.5 316.4,140.4 313.0,145.1" fill="#e88c86" stroke="#6e3030" stroke-width="0.5" stroke-linejoin="round"/>
<path d="M319.3,173.0 C319.0,170.5 318.2,162.8 317.8,158.1 C317.4,153.5 316.9,147.0 316.7,144.8" fill="none" stroke="#e88c86" stroke-width="4.0" stroke-linecap="butt" stroke-linejoin="round"/>
<path d="M325.9,199.6 C326.4,197.2 328.1,189.3 328.9,184.8 C329.6,180.4 330.1,174.9 330.4,173.0" fill="none" stroke="#6e3030" stroke-width="4.5" stroke-linecap="butt" stroke-linejoin="round"/>
<polygon points="333.8,173.4 330.9,169.0 327.0,172.5" fill="#e88c86" stroke="#6e3030" stroke-width="0.5" stroke-linejoin="round"/>
<path d="M325.9,199.6 C326.4,197.2 328.1,189.3 328.9,184.8 C329.6,180.4 330.1,174.9 330.4,173.0" fill="none" stroke="#e88c86" stroke-width="3.6" stroke-linecap="butt" stroke-linejoin="round"/>
<path d="M327.4,204.1 C327.7,206.0 328.4,212.7 328.9,215.9 C329.4,219.1 330.1,222.1 330.4,223.3" fill="none" stroke="#6e3030" stroke-width="4.3" stroke-linecap="butt" stroke-linejoin="round"/>
<path d="M327.4,204.1 C327.7,206.0 328.4,212.7 328.9,215.9 C329.4,219.1 330.1,222.1 330.4,223.3" fill="none" stroke="#e88c86" stroke-width="3.4" stroke-linecap="butt" stroke-linejoin="round"/>
<path d="M321.5,213.0 C320.7,214.4 318.0,219.1 317.0,221.9 C316.0,224.6 315.8,228.0 315.6,229.3" fill="none" stroke="#6e3030" stroke-width="4.9" stroke-linecap="butt" stroke-linejoin="round"/>
<path d="M321.5,213.0 C320.7,214.4 318.0,219.1 317.0,221.9 C316.0,224.6 315.8,228.0 315.6,229.3" fill="none" stroke="#e88c86" stroke-width="4.0" stroke-linecap="butt" stroke-linejoin="round"/>
<path d="M315.6,224.8 C317.0,221.9 321.2,213.0 324.4,207.0 C327.7,201.1 332.2,193.8 334.8,189.3 C337.4,184.7 339.1,181.2 340.0,179.6" fill="none" stroke="#6e3030" stroke-width="5.5" stroke-linecap="butt" stroke-linejoin="round"/>
<polygon points="343.8,181.7 342.4,175.2 336.2,177.6" fill="#e88c86" stroke="#6e3030" stroke-width="0.5" stroke-linejoin="round"/>
<path d="M315.6,224.8 C317.0,221.9 321.2,213.0 324.4,207.0 C327.7,201.1 332.2,193.8 334.8,189.3 C337.4,184.7 339.1,181.2 340.0,179.6" fill="none" stroke="#e88c86" stroke-width="4.6" stroke-linecap="butt" stroke-linejoin="round"/>
<path d="M321.5,204.1 C323.5,202.8 329.9,199.0 333.3,196.7 C336.8,194.3 340.7,191.1 342.2,190.0" fill="none" stroke="#6e3030" stroke-width="4.9" stroke-linecap="butt" stroke-linejoin="round"/>
<polygon points="344.5,193.0 345.7,187.4 339.9,187.0" fill="#e88c86" stroke="#6e3030" stroke-width="0.5" stroke-linejoin="round"/>
<path d="M321.5,204.1 C323.5,202.8 329.9,199.0 333.3,196.7 C336.8,194.3 340.7,191.1 342.2,190.0" fill="none" stroke="#e88c86" stroke-width="4.0" stroke-linecap="butt" stroke-linejoin="round"/>
<path d="M333.3,201.1 C333.8,202.3 335.5,206.5 336.3,208.5 C337.1,210.5 337.8,212.2 338.1,213.0" fill="none" stroke="#6e3030" stroke-width="4.5" stroke-linecap="butt" stroke-linejoin="round"/>
<polygon points="334.9,214.2 339.5,216.6 341.2,211.7" fill="#e88c86" stroke="#6e3030" stroke-width="0.5" stroke-linejoin="round"/>
<path d="M333.3,201.1 C333.8,202.3 335.5,206.5 336.3,208.5 C337.1,210.5 337.8,212.2 338.1,213.0" fill="none" stroke="#e88c86" stroke-width="3.6" stroke-linecap="butt" stroke-linejoin="round"/>
<path d="M340.7,167.0 C341.0,169.0 341.2,175.4 342.2,178.9 C343.2,182.3 345.2,185.8 346.7,187.8 C348.1,189.8 350.4,190.2 351.1,190.7" fill="none" stroke="#454a7c" stroke-width="1.8" stroke-linecap="round" stroke-linejoin="round"/>
<path d="M340.7,167.0 C341.0,169.0 341.2,175.4 342.2,178.9 C343.2,182.3 345.2,185.8 346.7,187.8 C348.1,189.8 350.4,190.2 351.1,190.7" fill="none" stroke="#a6ace3" stroke-width="1.1" stroke-linecap="round" stroke-linejoin="round"/>
<path d="M410.0,143.3 C411.0,144.3 414.0,147.3 415.9,149.3 C417.9,151.2 419.9,154.2 421.9,155.2 C423.8,156.2 426.7,154.7 427.8,155.2 C428.9,155.7 429.0,157.4 428.5,158.1 C428.0,158.9 425.9,159.9 424.8,159.6 C423.7,159.4 422.3,157.2 421.9,156.7" fill="none" stroke="#454a7c" stroke-width="1.8" stroke-linecap="round" stroke-linejoin="round"/>
<path d="M410.0,143.3 C411.0,144.3 414.0,147.3 415.9,149.3 C417.9,151.2 419.9,154.2 421.9,155.2 C423.8,156.2 426.7,154.7 427.8,155.2 C428.9,155.7 429.0,157.4 428.5,158.1 C428.0,158.9 425.9,159.9 424.8,159.6 C423.7,159.4 422.3,157.2 421.9,156.7" fill="none" stroke="#a6ace3" stroke-width="1.1" stroke-linecap="round" stroke-linejoin="round"/>
<path d="M426.3,131.5 C426.8,132.7 429.3,136.7 429.3,138.9 C429.3,141.1 426.5,142.6 426.3,144.8 C426.0,147.0 427.5,151.0 427.8,152.2" fill="none" stroke="#454a7c" stroke-width="1.8" stroke-linecap="round" stroke-linejoin="round"/>
<path d="M426.3,131.5 C426.8,132.7 429.3,136.7 429.3,138.9 C429.3,141.1 426.5,142.6 426.3,144.8 C426.0,147.0 427.5,151.0 427.8,152.2" fill="none" stroke="#a6ace3" stroke-width="1.1" stroke-linecap="round" stroke-linejoin="round"/>
<path d="M399.6,162.6 C400.1,163.6 401.1,167.0 402.6,168.5 C404.1,170.0 407.2,170.2 408.5,171.5 C409.9,172.7 411.0,174.4 410.7,175.9 C410.5,177.4 408.4,179.6 407.0,180.4 C405.7,181.1 403.3,180.4 402.6,180.4" fill="none" stroke="#454a7c" stroke-width="1.8" stroke-linecap="round" stroke-linejoin="round"/>
<path d="M399.6,162.6 C400.1,163.6 401.1,167.0 402.6,168.5 C404.1,170.0 407.2,170.2 408.5,171.5 C409.9,172.7 411.0,174.4 410.7,175.9 C410.5,177.4 408.4,179.6 407.0,180.4 C405.7,181.1 403.3,180.4 402.6,180.4" fill="none" stroke="#a6ace3" stroke-width="1.1" stroke-linecap="round" stroke-linejoin="round"/>
<path d="M368.5,170.0 C369.5,169.3 372.5,166.0 374.4,165.6 C376.4,165.1 379.6,165.8 380.4,167.0 C381.1,168.3 379.9,171.7 378.9,173.0 C377.9,174.2 375.2,174.2 374.4,174.4" fill="none" stroke="#454a7c" stroke-width="2.6" stroke-linecap="round" stroke-linejoin="round"/>
<path d="M368.5,170.0 C369.5,169.3 372.5,166.0 374.4,165.6 C376.4,165.1 379.6,165.8 380.4,167.0 C381.1,168.3 379.9,171.7 378.9,173.0 C377.9,174.2 375.2,174.2 374.4,174.4" fill="none" stroke="#a6ace3" stroke-width="2.0" stroke-linecap="round" stroke-linejoin="round"/>
<path d="M341.9,165.6 C342.1,167.0 343.3,171.5 343.3,174.4 C343.3,177.4 341.4,180.9 341.9,183.3 C342.3,185.8 344.6,187.5 346.3,189.3 C348.0,191.0 351.2,193.0 352.2,193.7" fill="none" stroke="#454a7c" stroke-width="1.8" stroke-linecap="round" stroke-linejoin="round"/>
<path d="M341.9,165.6 C342.1,167.0 343.3,171.5 343.3,174.4 C343.3,177.4 341.4,180.9 341.9,183.3 C342.3,185.8 344.6,187.5 346.3,189.3 C348.0,191.0 351.2,193.0 352.2,193.7" fill="none" stroke="#a6ace3" stroke-width="1.1" stroke-linecap="round" stroke-linejoin="round"/>
<path d="M344.8,213.0 C345.8,214.0 348.8,217.7 350.7,218.9 C352.7,220.1 355.2,219.4 356.7,220.4 C358.1,221.4 359.9,223.3 359.6,224.8 C359.4,226.3 355.9,228.5 355.2,229.3" fill="none" stroke="#454a7c" stroke-width="1.8" stroke-linecap="round" stroke-linejoin="round"/>
<path d="M344.8,213.0 C345.8,214.0 348.8,217.7 350.7,218.9 C352.7,220.1 355.2,219.4 356.7,220.4 C358.1,221.4 359.9,223.3 359.6,224.8 C359.4,226.3 355.9,228.5 355.2,229.3" fill="none" stroke="#a6ace3" stroke-width="1.1" stroke-linecap="round" stroke-linejoin="round"/>
<path d="M389.3,204.1 C389.8,205.1 392.0,208.0 392.2,210.0 C392.5,212.0 390.2,214.0 390.7,215.9 C391.2,217.9 393.2,220.5 395.2,221.9 C397.2,223.2 401.4,223.7 402.6,224.1" fill="none" stroke="#454a7c" stroke-width="1.8" stroke-linecap="round" stroke-linejoin="round"/>
<path d="M389.3,204.1 C389.8,205.1 392.0,208.0 392.2,210.0 C392.5,212.0 390.2,214.0 390.7,215.9 C391.2,217.9 393.2,220.5 395.2,221.9 C397.2,223.2 401.4,223.7 402.6,224.1" fill="none" stroke="#a6ace3" stroke-width="1.1" stroke-linecap="round" stroke-linejoin="round"/>
<path d="M393.7,149.3 C394.9,149.0 398.9,148.5 401.1,147.8 C403.3,147.0 405.6,145.6 407.0,144.8 C408.5,144.1 409.5,143.6 410.0,143.3" fill="none" stroke="#454a7c" stroke-width="1.8" stroke-linecap="round" stroke-linejoin="round"/>
<path d="M393.7,149.3 C394.9,149.0 398.9,148.5 401.1,147.8 C403.3,147.0 405.6,145.6 407.0,144.8 C408.5,144.1 409.5,143.6 410.0,143.3" fill="none" stroke="#a6ace3" stroke-width="1.1" stroke-linecap="round" stroke-linejoin="round"/>
<path d="M350.7,135.9 C351.7,135.7 354.4,134.4 356.7,134.4 C358.9,134.4 361.6,135.9 364.1,135.9 C366.5,135.9 370.2,134.7 371.5,134.4" fill="none" stroke="#454a7c" stroke-width="1.8" stroke-linecap="round" stroke-linejoin="round"/>
<path d="M350.7,135.9 C351.7,135.7 354.4,134.4 356.7,134.4 C358.9,134.4 361.6,135.9 364.1,135.9 C366.5,135.9 370.2,134.7 371.5,134.4" fill="none" stroke="#a6ace3" stroke-width="1.1" stroke-linecap="round" stroke-linejoin="round"/>
<path d="M378.9,213.0 C379.9,212.5 383.1,211.5 384.8,210.0 C386.5,208.5 388.5,205.1 389.3,204.1" fill="none" stroke="#454a7c" stroke-width="1.8" stroke-linecap="round" stroke-linejoin="round"/>
<path d="M378.9,213.0 C379.9,212.5 383.1,211.5 384.8,210.0 C386.5,208.5 388.5,205.1 389.3,204.1" fill="none" stroke="#a6ace3" stroke-width="1.1" stroke-linecap="round" stroke-linejoin="round"/>
<path d="M335.9,226.3 C336.9,225.6 340.1,223.3 341.9,221.9 C343.6,220.4 345.8,218.9 346.3,217.4 C346.8,215.9 345.1,213.7 344.8,213.0" fill="none" stroke="#454a7c" stroke-width="1.8" stroke-linecap="round" stroke-linejoin="round"/>
<path d="M335.9,226.3 C336.9,225.6 340.1,223.3 341.9,221.9 C343.6,220.4 345.8,218.9 346.3,217.4 C346.8,215.9 345.1,213.7 344.8,213.0" fill="none" stroke="#a6ace3" stroke-width="1.1" stroke-linecap="round" stroke-linejoin="round"/>
<path d="M365.6,213.0 C365.8,211.0 366.5,205.6 367.0,201.1 C367.5,196.7 368.5,190.7 368.5,186.3 C368.6,181.9 367.5,176.4 367.3,174.4" fill="none" stroke="#3a3e68" stroke-width="3.5" stroke-linecap="butt" stroke-linejoin="round"/>
<path d="M365.6,213.0 C365.8,211.0 366.5,205.6 367.0,201.1 C367.5,196.7 368.5,190.7 368.5,186.3 C368.6,181.9 367.5,176.4 367.3,174.4" fill="none" stroke="#7c82bc" stroke-width="2.6" stroke-linecap="butt" stroke-linejoin="round"/>
<path d="M364.1,214.4 C364.3,212.7 365.8,207.8 365.6,204.1 C365.3,200.4 363.8,195.9 362.6,192.2 C361.4,188.5 358.9,183.6 358.1,181.9" fill="none" stroke="#454a7c" stroke-width="5.1" stroke-linecap="butt" stroke-linejoin="round"/>
<polygon points="361.8,180.3 356.3,177.6 354.5,183.4" fill="#a6ace3" stroke="#454a7c" stroke-width="0.5" stroke-linejoin="round"/>
<path d="M364.1,214.4 C364.3,212.7 365.8,207.8 365.6,204.1 C365.3,200.4 363.8,195.9 362.6,192.2 C361.4,188.5 358.9,183.6 358.1,181.9" fill="none" stroke="#a6ace3" stroke-width="4.2" stroke-linecap="butt" stroke-linejoin="round"/>
<path d="M367.0,192.2 C365.8,193.2 362.3,195.9 359.6,198.1 C356.9,200.4 352.2,204.3 350.7,205.6" fill="none" stroke="#454a7c" stroke-width="5.5" stroke-linecap="butt" stroke-linejoin="round"/>
<path d="M367.0,192.2 C365.8,193.2 362.3,195.9 359.6,198.1 C356.9,200.4 352.2,204.3 350.7,205.6" fill="none" stroke="#a6ace3" stroke-width="4.6" stroke-linecap="butt" stroke-linejoin="round"/>
<path d="M365.6,204.1 C364.6,203.3 361.5,201.1 359.6,199.6 C357.8,198.2 355.3,196.2 354.4,195.5" fill="none" stroke="#454a7c" stroke-width="4.5" stroke-linecap="butt" stroke-linejoin="round"/>
<polygon points="356.6,192.8 351.4,193.0 352.3,198.2" fill="#a6ace3" stroke="#454a7c" stroke-width="0.5" stroke-linejoin="round"/>
<path d="M365.6,204.1 C364.6,203.3 361.5,201.1 359.6,199.6 C357.8,198.2 355.3,196.2 354.4,195.5" fill="none" stroke="#a6ace3" stroke-width="3.6" stroke-linecap="butt" stroke-linejoin="round"/>
<path d="M374.4,198.1 C376.2,196.7 382.1,192.1 384.8,189.3 C387.5,186.4 389.8,182.5 390.7,181.1" fill="none" stroke="#454a7c" stroke-width="4.7" stroke-linecap="butt" stroke-linejoin="round"/>
<polygon points="393.7,183.2 393.2,177.7 387.8,179.0" fill="#a6ace3" stroke="#454a7c" stroke-width="0.5" stroke-linejoin="round"/>
<path d="M374.4,198.1 C376.2,196.7 382.1,192.1 384.8,189.3 C387.5,186.4 389.8,182.5 390.7,181.1" fill="none" stroke="#a6ace3" stroke-width="3.8" stroke-linecap="butt" stroke-linejoin="round"/>
<path d="M384.8,204.1 C386.3,202.1 391.0,195.8 393.7,192.2 C396.4,188.6 399.6,184.2 400.8,182.6" fill="none" stroke="#454a7c" stroke-width="5.5" stroke-linecap="butt" stroke-linejoin="round"/>
<polygon points="404.3,185.2 403.8,178.5 397.3,180.0" fill="#a6ace3" stroke="#454a7c" stroke-width="0.5" stroke-linejoin="round"/>
<path d="M384.8,204.1 C386.3,202.1 391.0,195.8 393.7,192.2 C396.4,188.6 399.6,184.2 400.8,182.6" fill="none" stroke="#a6ace3" stroke-width="4.6" stroke-linecap="butt" stroke-linejoin="round"/>
<path d="M375.9,174.4 C376.4,173.5 377.4,171.0 378.9,168.5 C380.4,166.0 383.1,161.9 384.8,159.6 C386.5,157.4 388.5,155.9 389.3,155.2" fill="none" stroke="#454a7c" stroke-width="4.9" stroke-linecap="butt" stroke-linejoin="round"/>
<polygon points="391.9,157.9 392.4,152.1 386.6,152.5" fill="#a6ace3" stroke="#454a7c" stroke-width="0.5" stroke-linejoin="round"/>
<path d="M375.9,174.4 C376.4,173.5 377.4,171.0 378.9,168.5 C380.4,166.0 383.1,161.9 384.8,159.6 C386.5,157.4 388.5,155.9 389.3,155.2" fill="none" stroke="#a6ace3" stroke-width="4.0" stroke-linecap="butt" stroke-linejoin="round"/>
<path d="M386.3,160.4 C387.8,160.2 392.6,159.8 395.2,159.6 C397.8,159.5 400.7,159.6 401.9,159.6" fill="none" stroke="#454a7c" stroke-width="4.3" stroke-linecap="butt" stroke-linejoin="round"/>
<polygon points="401.9,162.9 405.6,159.6 401.9,156.4" fill="#a6ace3" stroke="#454a7c" stroke-width="0.5" stroke-linejoin="round"/>
<path d="M386.3,160.4 C387.8,160.2 392.6,159.8 395.2,159.6 C397.8,159.5 400.7,159.6 401.9,159.6" fill="none" stroke="#a6ace3" stroke-width="3.4" stroke-linecap="butt" stroke-linejoin="round"/>
<path d="M368.5,213.0 C369.5,214.4 372.5,219.1 374.4,221.9 C376.4,224.6 379.4,228.0 380.4,229.3" fill="none" stroke="#454a7c" stroke-width="4.9" stroke-linecap="butt" stroke-linejoin="round"/>
<path d="M368.5,213.0 C369.5,214.4 372.5,219.1 374.4,221.9 C376.4,224.6 379.4,228.0 380.4,229.3" fill="none" stroke="#a6ace3" stroke-width="4.0" stroke-linecap="butt" stroke-linejoin="round"/>
<path d="M367.0,215.9 C367.3,217.2 368.2,221.1 368.8,223.3 C369.4,225.6 370.4,228.3 370.7,229.3" fill="none" stroke="#3a3e68" stroke-width="3.9" stroke-linecap="butt" stroke-linejoin="round"/>
<path d="M367.0,215.9 C367.3,217.2 368.2,221.1 368.8,223.3 C369.4,225.6 370.4,228.3 370.7,229.3" fill="none" stroke="#7c82bc" stroke-width="3.0" stroke-linecap="butt" stroke-linejoin="round"/>
<path d="M377.4,141.9 C377.8,141.4 379.0,139.9 379.6,138.9 C380.2,137.9 380.9,136.4 381.1,135.9" fill="none" stroke="#3a3e68" stroke-width="4.5" stroke-linecap="butt" stroke-linejoin="round"/>
<path d="M377.4,141.9 C377.8,141.4 379.0,139.9 379.6,138.9 C380.2,137.9 380.9,136.4 381.1,135.9" fill="none" stroke="#7c82bc" stroke-width="3.6" stroke-linecap="butt" stroke-linejoin="round"/>
<path d="M389.3,131.5 C389.8,132.2 391.2,134.9 392.2,135.9 C393.2,136.9 394.7,137.2 395.2,137.4" fill="none" stroke="#3a3e68" stroke-width="4.5" stroke-linecap="butt" stroke-linejoin="round"/>
<path d="M389.3,131.5 C389.8,132.2 391.2,134.9 392.2,135.9 C393.2,136.9 394.7,137.2 395.2,137.4" fill="none" stroke="#7c82bc" stroke-width="3.6" stroke-linecap="butt" stroke-linejoin="round"/>
<path d="M402.6,130.0 C403.1,131.0 404.8,134.0 405.6,135.9 C406.3,137.9 406.8,140.9 407.0,141.9" fill="none" stroke="#454a7c" stroke-width="4.5" stroke-linecap="butt" stroke-linejoin="round"/>
<path d="M402.6,130.0 C403.1,131.0 404.8,134.0 405.6,135.9 C406.3,137.9 406.8,140.9 407.0,141.9" fill="none" stroke="#a6ace3" stroke-width="3.6" stroke-linecap="butt" stroke-linejoin="round"/>
<path d="M303.5,225.0 C303.8,226.0 304.0,229.6 305.0,230.9 C306.0,232.3 308.0,233.1 309.4,233.1 C310.9,233.1 312.8,232.0 313.9,230.9 C315.0,229.8 315.7,227.2 316.1,226.5" fill="none" stroke="#6e3030" stroke-width="1.8" stroke-linecap="round" stroke-linejoin="round"/>
<path d="M303.5,225.0 C303.8,226.0 304.0,229.6 305.0,230.9 C306.0,232.3 308.0,233.1 309.4,233.1 C310.9,233.1 312.8,232.0 313.9,230.9 C315.0,229.8 315.7,227.2 316.1,226.5" fill="none" stroke="#e88c86" stroke-width="1.1" stroke-linecap="round" stroke-linejoin="round"/>
<path d="M330.2,225.0 C330.4,226.2 330.7,230.6 331.7,232.4 C332.7,234.3 334.4,235.2 336.1,236.1 C337.8,237.0 340.1,237.5 342.0,237.6 C344.0,237.7 346.6,237.5 348.0,236.9 C349.3,236.2 350.4,234.6 350.2,233.9 C349.9,233.1 347.1,232.7 346.5,232.4" fill="none" stroke="#6e3030" stroke-width="1.8" stroke-linecap="round" stroke-linejoin="round"/>
<path d="M330.2,225.0 C330.4,226.2 330.7,230.6 331.7,232.4 C332.7,234.3 334.4,235.2 336.1,236.1 C337.8,237.0 340.1,237.5 342.0,237.6 C344.0,237.7 346.6,237.5 348.0,236.9 C349.3,236.2 350.4,234.6 350.2,233.9 C349.9,233.1 347.1,232.7 346.5,232.4" fill="none" stroke="#e88c86" stroke-width="1.1" stroke-linecap="round" stroke-linejoin="round"/>
<path d="M334.6,232.4 C335.1,231.9 336.4,230.2 337.6,229.4 C338.8,228.7 340.8,228.7 342.0,228.0 C343.3,227.2 344.5,225.5 345.0,225.0" fill="none" stroke="#454a7c" stroke-width="1.8" stroke-linecap="round" stroke-linejoin="round"/>
<path d="M334.6,232.4 C335.1,231.9 336.4,230.2 337.6,229.4 C338.8,228.7 340.8,228.7 342.0,228.0 C343.3,227.2 344.5,225.5 345.0,225.0" fill="none" stroke="#a6ace3" stroke-width="1.1" stroke-linecap="round" stroke-linejoin="round"/>
<path d="M353.9,226.5 C355.1,226.6 359.1,227.3 361.3,227.2 C363.5,227.1 366.2,226.0 367.2,225.7" fill="none" stroke="#454a7c" stroke-width="1.8" stroke-linecap="round" stroke-linejoin="round"/>
<path d="M353.9,226.5 C355.1,226.6 359.1,227.3 361.3,227.2 C363.5,227.1 366.2,226.0 367.2,225.7" fill="none" stroke="#a6ace3" stroke-width="1.1" stroke-linecap="round" stroke-linejoin="round"/>
<path d="M368.5,225.0 C370.0,226.0 374.7,229.2 377.4,230.9 C380.1,232.6 383.6,234.4 384.8,235.1" fill="none" stroke="#454a7c" stroke-width="4.5" stroke-linecap="butt" stroke-linejoin="round"/>
<path d="M368.5,225.0 C370.0,226.0 374.7,229.2 377.4,230.9 C380.1,232.6 383.6,234.4 384.8,235.1" fill="none" stroke="#a6ace3" stroke-width="3.6" stroke-linecap="butt" stroke-linejoin="round"/>
<path d="M384.8,235.1 C385.8,235.4 389.4,236.8 390.7,236.9 C392.1,236.9 393.2,235.9 393.0,235.4 C392.7,234.9 389.9,234.1 389.3,233.9" fill="none" stroke="#454a7c" stroke-width="1.8" stroke-linecap="round" stroke-linejoin="round"/>
<path d="M384.8,235.1 C385.8,235.4 389.4,236.8 390.7,236.9 C392.1,236.9 393.2,235.9 393.0,235.4 C392.7,234.9 389.9,234.1 389.3,233.9" fill="none" stroke="#a6ace3" stroke-width="1.1" stroke-linecap="round" stroke-linejoin="round"/>
<path d="M269.4,278.3 C269.9,279.3 271.2,282.8 272.4,284.3 C273.6,285.7 276.4,285.7 276.9,287.2 C277.3,288.7 276.1,291.4 275.4,293.1 C274.6,294.9 272.4,296.4 272.4,297.6 C272.4,298.8 273.9,300.3 275.4,300.6 C276.9,300.8 280.3,299.3 281.3,299.1" fill="none" stroke="#383838" stroke-width="1.8" stroke-linecap="round" stroke-linejoin="round"/>
<path d="M269.4,278.3 C269.9,279.3 271.2,282.8 272.4,284.3 C273.6,285.7 276.4,285.7 276.9,287.2 C277.3,288.7 276.1,291.4 275.4,293.1 C274.6,294.9 272.4,296.4 272.4,297.6 C272.4,298.8 273.9,300.3 275.4,300.6 C276.9,300.8 280.3,299.3 281.3,299.1" fill="none" stroke="#b2b2b2" stroke-width="1.1" stroke-linecap="round" stroke-linejoin="round"/>
<path d="M288.7,319.8 C289.7,318.8 292.2,315.1 294.6,313.9 C297.1,312.7 301.3,311.9 303.5,312.4 C305.7,312.9 308.0,314.9 308.0,316.9 C308.0,318.8 304.3,323.0 303.5,324.3" fill="none" stroke="#383838" stroke-width="1.8" stroke-linecap="round" stroke-linejoin="round"/>
<path d="M288.7,319.8 C289.7,318.8 292.2,315.1 294.6,313.9 C297.1,312.7 301.3,311.9 303.5,312.4 C305.7,312.9 308.0,314.9 308.0,316.9 C308.0,318.8 304.3,323.0 303.5,324.3" fill="none" stroke="#b2b2b2" stroke-width="1.1" stroke-linecap="round" stroke-linejoin="round"/>
<path d="M368.7,262.0 C370.2,262.8 375.1,265.2 377.6,266.5 C380.1,267.7 382.5,269.0 383.5,269.4" fill="none" stroke="#383838" stroke-width="1.8" stroke-linecap="round" stroke-linejoin="round"/>
<path d="M368.7,262.0 C370.2,262.8 375.1,265.2 377.6,266.5 C380.1,267.7 382.5,269.0 383.5,269.4" fill="none" stroke="#b2b2b2" stroke-width="1.1" stroke-linecap="round" stroke-linejoin="round"/>
<path d="M371.7,273.9 C370.7,275.1 365.2,279.1 365.7,281.3 C366.2,283.5 372.9,284.8 374.6,287.2 C376.4,289.7 376.6,294.1 376.1,296.1 C375.6,298.1 372.4,298.6 371.7,299.1" fill="none" stroke="#383838" stroke-width="1.8" stroke-linecap="round" stroke-linejoin="round"/>
<path d="M371.7,273.9 C370.7,275.1 365.2,279.1 365.7,281.3 C366.2,283.5 372.9,284.8 374.6,287.2 C376.4,289.7 376.6,294.1 376.1,296.1 C375.6,298.1 372.4,298.6 371.7,299.1" fill="none" stroke="#b2b2b2" stroke-width="1.1" stroke-linecap="round" stroke-linejoin="round"/>
<path d="M370.0,262.0 C371.2,262.5 375.2,263.8 377.4,265.0 C379.6,266.2 382.6,267.2 383.3,269.4 C384.1,271.7 383.1,275.9 381.9,278.3 C380.6,280.8 377.2,282.0 375.9,284.3 C374.7,286.5 374.2,289.4 374.4,291.7 C374.7,293.9 376.9,296.6 377.4,297.6" fill="none" stroke="#383838" stroke-width="1.8" stroke-linecap="round" stroke-linejoin="round"/>
<path d="M370.0,262.0 C371.2,262.5 375.2,263.8 377.4,265.0 C379.6,266.2 382.6,267.2 383.3,269.4 C384.1,271.7 383.1,275.9 381.9,278.3 C380.6,280.8 377.2,282.0 375.9,284.3 C374.7,286.5 374.2,289.4 374.4,291.7 C374.7,293.9 376.9,296.6 377.4,297.6" fill="none" stroke="#b2b2b2" stroke-width="1.1" stroke-linecap="round" stroke-linejoin="round"/>
<path d="M359.6,284.3 C360.6,284.5 364.6,284.5 365.6,285.7 C366.5,287.0 366.0,289.9 365.6,291.7 C365.1,293.4 363.1,295.4 362.6,296.1" fill="none" stroke="#383838" stroke-width="1.8" stroke-linecap="round" stroke-linejoin="round"/>
<path d="M359.6,284.3 C360.6,284.5 364.6,284.5 365.6,285.7 C366.5,287.0 366.0,289.9 365.6,291.7 C365.1,293.4 363.1,295.4 362.6,296.1" fill="none" stroke="#b2b2b2" stroke-width="1.1" stroke-linecap="round" stroke-linejoin="round"/>
<path d="M308.0,311.7 C308.2,309.6 308.5,302.9 309.4,299.1 C310.4,295.2 313.1,290.4 313.9,288.7" fill="none" stroke="#383838" stroke-width="4.9" stroke-linecap="butt" stroke-linejoin="round"/>
<path d="M308.0,311.7 C308.2,309.6 308.5,302.9 309.4,299.1 C310.4,295.2 313.1,290.4 313.9,288.7" fill="none" stroke="#b2b2b2" stroke-width="4.0" stroke-linecap="butt" stroke-linejoin="round"/>
<path d="M308.7,310.9 C309.8,308.5 312.3,301.8 315.4,296.1 C318.5,290.4 325.2,280.1 327.2,276.9" fill="none" stroke="#404040" stroke-width="5.9" stroke-linecap="butt" stroke-linejoin="round"/>
<path d="M308.7,310.9 C309.8,308.5 312.3,301.8 315.4,296.1 C318.5,290.4 325.2,280.1 327.2,276.9" fill="none" stroke="#cccccc" stroke-width="5.0" stroke-linecap="butt" stroke-linejoin="round"/>
<path d="M308.7,310.9 C309.8,308.5 312.3,301.8 315.4,296.1 C318.5,290.4 325.2,280.1 327.2,276.9" fill="none" stroke="#ffffff" stroke-opacity="0.4" stroke-width="1.5" stroke-linecap="butt" stroke-linejoin="round"/>
<path d="M309.4,310.2 C311.9,306.9 319.3,296.2 324.3,290.2 C329.2,284.1 336.6,276.6 339.1,273.9" fill="none" stroke="#383838" stroke-width="5.9" stroke-linecap="butt" stroke-linejoin="round"/>
<path d="M309.4,310.2 C311.9,306.9 319.3,296.2 324.3,290.2 C329.2,284.1 336.6,276.6 339.1,273.9" fill="none" stroke="#b2b2b2" stroke-width="5.0" stroke-linecap="butt" stroke-linejoin="round"/>
<path d="M310.2,310.2 C313.3,307.1 321.9,296.7 328.7,291.7 C335.5,286.6 347.2,281.8 350.9,279.8" fill="none" stroke="#404040" stroke-width="5.5" stroke-linecap="butt" stroke-linejoin="round"/>
<path d="M310.2,310.2 C313.3,307.1 321.9,296.7 328.7,291.7 C335.5,286.6 347.2,281.8 350.9,279.8" fill="none" stroke="#cccccc" stroke-width="4.6" stroke-linecap="butt" stroke-linejoin="round"/>
<path d="M310.2,310.2 C313.3,307.1 321.9,296.7 328.7,291.7 C335.5,286.6 347.2,281.8 350.9,279.8" fill="none" stroke="#ffffff" stroke-opacity="0.4" stroke-width="1.4" stroke-linecap="butt" stroke-linejoin="round"/>
<path d="M310.9,310.2 C314.6,307.6 325.0,298.7 333.1,294.6 C341.3,290.6 355.4,287.2 359.8,285.7" fill="none" stroke="#383838" stroke-width="4.9" stroke-linecap="butt" stroke-linejoin="round"/>
<path d="M310.9,310.2 C314.6,307.6 325.0,298.7 333.1,294.6 C341.3,290.6 355.4,287.2 359.8,285.7" fill="none" stroke="#b2b2b2" stroke-width="4.0" stroke-linecap="butt" stroke-linejoin="round"/>
<path d="M312.4,310.2 C316.9,308.1 329.9,300.7 339.1,297.6 C348.2,294.5 362.5,292.7 367.2,291.7" fill="none" stroke="#404040" stroke-width="4.5" stroke-linecap="butt" stroke-linejoin="round"/>
<path d="M312.4,310.2 C316.9,308.1 329.9,300.7 339.1,297.6 C348.2,294.5 362.5,292.7 367.2,291.7" fill="none" stroke="#cccccc" stroke-width="3.6" stroke-linecap="butt" stroke-linejoin="round"/>
<path d="M312.4,310.2 C316.9,308.1 329.9,300.7 339.1,297.6 C348.2,294.5 362.5,292.7 367.2,291.7" fill="none" stroke="#ffffff" stroke-opacity="0.4" stroke-width="1.1" stroke-linecap="butt" stroke-linejoin="round"/>
<path d="M306.5,313.9 C306.4,311.9 305.2,306.0 305.7,302.0 C306.2,298.1 308.8,292.2 309.4,290.2" fill="none" stroke="#383838" stroke-width="5.1" stroke-linecap="butt" stroke-linejoin="round"/>
<path d="M306.5,313.9 C306.4,311.9 305.2,306.0 305.7,302.0 C306.2,298.1 308.8,292.2 309.4,290.2" fill="none" stroke="#b2b2b2" stroke-width="4.2" stroke-linecap="butt" stroke-linejoin="round"/>
<path d="M276.5,278.0 L275.8,277.9 L274.6,276.6 L273.5,274.6 L272.9,272.1 L273.1,269.7 L274.3,267.8" fill="none" stroke="#383838" stroke-width="4.1" stroke-linecap="round" stroke-linejoin="round"/>
<path d="M276.5,278.0 L275.8,277.9 L274.6,276.6 L273.5,274.6 L272.9,272.1 L273.1,269.7 L274.3,267.8" fill="none" stroke="#8e8e8e" stroke-width="3.2" stroke-linecap="round" stroke-linejoin="round"/>
<path d="M284.0,271.7 L282.2,271.9 L281.4,270.4 L280.9,268.1 L281.0,265.6 L281.9,263.3 L283.6,261.9" fill="none" stroke="#383838" stroke-width="4.1" stroke-linecap="round" stroke-linejoin="round"/>
<path d="M284.0,271.7 L282.2,271.9 L281.4,270.4 L280.9,268.1 L281.0,265.6 L281.9,263.3 L283.6,261.9" fill="none" stroke="#8e8e8e" stroke-width="3.2" stroke-linecap="round" stroke-linejoin="round"/>
<path d="M291.8,268.3 L291.1,267.9 L290.4,266.5 L289.9,264.2 L290.0,261.6 L290.9,259.3 L292.5,257.9" fill="none" stroke="#383838" stroke-width="4.1" stroke-linecap="round" stroke-linejoin="round"/>
<path d="M291.8,268.3 L291.1,267.9 L290.4,266.5 L289.9,264.2 L290.0,261.6 L290.9,259.3 L292.5,257.9" fill="none" stroke="#8e8e8e" stroke-width="3.2" stroke-linecap="round" stroke-linejoin="round"/>
<path d="M300.7,264.6 L300.0,264.2 L299.3,262.7 L298.9,260.4 L299.2,257.8 L300.2,255.6 L301.9,254.3" fill="none" stroke="#383838" stroke-width="4.1" stroke-linecap="round" stroke-linejoin="round"/>
<path d="M300.7,264.6 L300.0,264.2 L299.3,262.7 L298.9,260.4 L299.2,257.8 L300.2,255.6 L301.9,254.3" fill="none" stroke="#8e8e8e" stroke-width="3.2" stroke-linecap="round" stroke-linejoin="round"/>
<path d="M309.7,261.1 L309.1,260.7 L308.4,259.1 L308.1,256.8 L308.4,254.3 L309.4,252.1 L311.2,250.8" fill="none" stroke="#383838" stroke-width="4.1" stroke-linecap="round" stroke-linejoin="round"/>
<path d="M309.7,261.1 L309.1,260.7 L308.4,259.1 L308.1,256.8 L308.4,254.3 L309.4,252.1 L311.2,250.8" fill="none" stroke="#8e8e8e" stroke-width="3.2" stroke-linecap="round" stroke-linejoin="round"/>
<path d="M318.9,257.8 L318.3,257.3 L317.6,255.8 L317.3,253.5 L317.6,250.9 L318.6,248.7 L320.4,247.4" fill="none" stroke="#383838" stroke-width="4.1" stroke-linecap="round" stroke-linejoin="round"/>
<path d="M318.9,257.8 L318.3,257.3 L317.6,255.8 L317.3,253.5 L317.6,250.9 L318.6,248.7 L320.4,247.4" fill="none" stroke="#8e8e8e" stroke-width="3.2" stroke-linecap="round" stroke-linejoin="round"/>
<path d="M273.6,274.5 L275.4,275.9 L276.5,277.3 L276.5,278.0" fill="none" stroke="#383838" stroke-width="4.1" stroke-linecap="round" stroke-linejoin="round"/>
<path d="M273.6,274.5 L275.4,275.9 L276.5,277.3 L276.5,278.0" fill="none" stroke="#b2b2b2" stroke-width="3.2" stroke-linecap="round" stroke-linejoin="round"/>
<path d="M274.3,267.8 L276.3,267.0 L278.7,267.1 L281.1,268.1 L282.9,269.6 L283.9,270.9 L284.0,271.7" fill="none" stroke="#383838" stroke-width="4.1" stroke-linecap="round" stroke-linejoin="round"/>
<path d="M274.3,267.8 L276.3,267.0 L278.7,267.1 L281.1,268.1 L282.9,269.6 L283.9,270.9 L284.0,271.7" fill="none" stroke="#b2b2b2" stroke-width="3.2" stroke-linecap="round" stroke-linejoin="round"/>
<path d="M283.6,261.9 L285.7,261.6 L288.0,262.5 L290.0,264.1 L291.4,266.0 L292.0,267.6 L291.8,268.3" fill="none" stroke="#383838" stroke-width="4.1" stroke-linecap="round" stroke-linejoin="round"/>
<path d="M283.6,261.9 L285.7,261.6 L288.0,262.5 L290.0,264.1 L291.4,266.0 L292.0,267.6 L291.8,268.3" fill="none" stroke="#b2b2b2" stroke-width="3.2" stroke-linecap="round" stroke-linejoin="round"/>
<path d="M292.5,257.9 L294.9,257.7 L297.1,258.6 L299.1,260.3 L300.3,262.3 L300.8,263.9 L300.7,264.6" fill="none" stroke="#383838" stroke-width="4.1" stroke-linecap="round" stroke-linejoin="round"/>
<path d="M292.5,257.9 L294.9,257.7 L297.1,258.6 L299.1,260.3 L300.3,262.3 L300.8,263.9 L300.7,264.6" fill="none" stroke="#b2b2b2" stroke-width="3.2" stroke-linecap="round" stroke-linejoin="round"/>
<path d="M301.9,254.3 L304.1,254.1 L306.3,255.0 L308.2,256.8 L309.5,258.7 L310.0,260.3 L309.7,261.1" fill="none" stroke="#383838" stroke-width="4.1" stroke-linecap="round" stroke-linejoin="round"/>
<path d="M301.9,254.3 L304.1,254.1 L306.3,255.0 L308.2,256.8 L309.5,258.7 L310.0,260.3 L309.7,261.1" fill="none" stroke="#b2b2b2" stroke-width="3.2" stroke-linecap="round" stroke-linejoin="round"/>
<path d="M311.2,250.8 L313.3,250.7 L315.5,251.6 L317.4,253.4 L318.7,255.4 L319.1,257.0 L318.9,257.8" fill="none" stroke="#383838" stroke-width="4.1" stroke-linecap="round" stroke-linejoin="round"/>
<path d="M311.2,250.8 L313.3,250.7 L315.5,251.6 L317.4,253.4 L318.7,255.4 L319.1,257.0 L318.9,257.8" fill="none" stroke="#b2b2b2" stroke-width="3.2" stroke-linecap="round" stroke-linejoin="round"/>
<path d="M320.4,247.4 L322.6,247.3 L324.8,248.3 L326.6,250.1" fill="none" stroke="#383838" stroke-width="4.1" stroke-linecap="round" stroke-linejoin="round"/>
<path d="M320.4,247.4 L322.6,247.3 L324.8,248.3 L326.6,250.1" fill="none" stroke="#b2b2b2" stroke-width="3.2" stroke-linecap="round" stroke-linejoin="round"/>
<path d="M336.4,254.4 L335.8,253.7 L335.6,251.9 L336.1,249.5 L337.3,247.2 L339.0,245.5 L341.1,245.0" fill="none" stroke="#383838" stroke-width="4.1" stroke-linecap="round" stroke-linejoin="round"/>
<path d="M336.4,254.4 L335.8,253.7 L335.6,251.9 L336.1,249.5 L337.3,247.2 L339.0,245.5 L341.1,245.0" fill="none" stroke="#8e8e8e" stroke-width="3.2" stroke-linecap="round" stroke-linejoin="round"/>
<path d="M344.7,254.8 L344.1,254.1 L343.9,252.4 L344.4,250.0 L345.5,247.6 L346.4,246.2 L348.2,245.3" fill="none" stroke="#383838" stroke-width="4.1" stroke-linecap="round" stroke-linejoin="round"/>
<path d="M344.7,254.8 L344.1,254.1 L343.9,252.4 L344.4,250.0 L345.5,247.6 L346.4,246.2 L348.2,245.3" fill="none" stroke="#8e8e8e" stroke-width="3.2" stroke-linecap="round" stroke-linejoin="round"/>
<path d="M353.9,254.1 L353.2,253.5 L352.6,251.8 L352.5,249.4 L353.2,246.9 L354.5,244.9 L356.4,243.9" fill="none" stroke="#383838" stroke-width="4.1" stroke-linecap="round" stroke-linejoin="round"/>
<path d="M353.9,254.1 L353.2,253.5 L352.6,251.8 L352.5,249.4 L353.2,246.9 L354.5,244.9 L356.4,243.9" fill="none" stroke="#8e8e8e" stroke-width="3.2" stroke-linecap="round" stroke-linejoin="round"/>
<path d="M362.0,252.7 L361.5,252.2 L360.8,250.5 L360.7,248.1 L361.2,245.5 L362.5,243.5 L364.3,242.4" fill="none" stroke="#383838" stroke-width="4.1" stroke-linecap="round" stroke-linejoin="round"/>
<path d="M362.0,252.7 L361.5,252.2 L360.8,250.5 L360.7,248.1 L361.2,245.5 L362.5,243.5 L364.3,242.4" fill="none" stroke="#8e8e8e" stroke-width="3.2" stroke-linecap="round" stroke-linejoin="round"/>
<path d="M370.3,251.0 L369.6,250.5 L368.9,248.8 L368.8,246.4 L369.3,243.8 L370.5,241.8 L372.4,240.7" fill="none" stroke="#383838" stroke-width="4.1" stroke-linecap="round" stroke-linejoin="round"/>
<path d="M370.3,251.0 L369.6,250.5 L368.9,248.8 L368.8,246.4 L369.3,243.8 L370.5,241.8 L372.4,240.7" fill="none" stroke="#8e8e8e" stroke-width="3.2" stroke-linecap="round" stroke-linejoin="round"/>
<path d="M337.3,249.6 L337.5,252.0 L337.1,253.7 L336.4,254.4" fill="none" stroke="#383838" stroke-width="4.1" stroke-linecap="round" stroke-linejoin="round"/>
<path d="M337.3,249.6 L337.5,252.0 L337.1,253.7 L336.4,254.4" fill="none" stroke="#b2b2b2" stroke-width="3.2" stroke-linecap="round" stroke-linejoin="round"/>
<path d="M341.1,245.0 L343.0,245.7 L344.6,247.6 L345.5,250.0 L345.7,252.5 L345.3,254.2 L344.7,254.8" fill="none" stroke="#383838" stroke-width="4.1" stroke-linecap="round" stroke-linejoin="round"/>
<path d="M341.1,245.0 L343.0,245.7 L344.6,247.6 L345.5,250.0 L345.7,252.5 L345.3,254.2 L344.7,254.8" fill="none" stroke="#b2b2b2" stroke-width="3.2" stroke-linecap="round" stroke-linejoin="round"/>
<path d="M348.2,245.3 L350.3,245.6 L352.3,247.0 L353.7,249.2 L354.4,251.5 L354.4,253.3 L353.9,254.1" fill="none" stroke="#383838" stroke-width="4.1" stroke-linecap="round" stroke-linejoin="round"/>
<path d="M348.2,245.3 L350.3,245.6 L352.3,247.0 L353.7,249.2 L354.4,251.5 L354.4,253.3 L353.9,254.1" fill="none" stroke="#b2b2b2" stroke-width="3.2" stroke-linecap="round" stroke-linejoin="round"/>
<path d="M356.4,243.9 L358.5,244.2 L360.4,245.7 L361.8,247.9 L362.5,250.2 L362.5,252.0 L362.0,252.7" fill="none" stroke="#383838" stroke-width="4.1" stroke-linecap="round" stroke-linejoin="round"/>
<path d="M356.4,243.9 L358.5,244.2 L360.4,245.7 L361.8,247.9 L362.5,250.2 L362.5,252.0 L362.0,252.7" fill="none" stroke="#b2b2b2" stroke-width="3.2" stroke-linecap="round" stroke-linejoin="round"/>
<path d="M364.3,242.4 L366.4,242.6 L368.4,244.0 L369.9,246.2 L370.7,248.4 L370.8,250.2 L370.3,251.0" fill="none" stroke="#383838" stroke-width="4.1" stroke-linecap="round" stroke-linejoin="round"/>
<path d="M364.3,242.4 L366.4,242.6 L368.4,244.0 L369.9,246.2 L370.7,248.4 L370.8,250.2 L370.3,251.0" fill="none" stroke="#b2b2b2" stroke-width="3.2" stroke-linecap="round" stroke-linejoin="round"/>
<path d="M372.4,240.7 L374.5,240.9 L376.4,242.3 L378.0,244.5" fill="none" stroke="#383838" stroke-width="4.1" stroke-linecap="round" stroke-linejoin="round"/>
<path d="M372.4,240.7 L374.5,240.9 L376.4,242.3 L378.0,244.5" fill="none" stroke="#b2b2b2" stroke-width="3.2" stroke-linecap="round" stroke-linejoin="round"/>
<path d="M278.9,318.7 L278.2,318.7 L276.8,317.7 L275.3,315.9 L274.2,313.6 L274.0,311.2 L274.9,309.2" fill="none" stroke="#383838" stroke-width="4.1" stroke-linecap="round" stroke-linejoin="round"/>
<path d="M278.9,318.7 L278.2,318.7 L276.8,317.7 L275.3,315.9 L274.2,313.6 L274.0,311.2 L274.9,309.2" fill="none" stroke="#8e8e8e" stroke-width="3.2" stroke-linecap="round" stroke-linejoin="round"/>
<path d="M285.0,311.4 L284.2,311.4 L282.8,310.4 L281.3,308.6 L280.3,306.2 L280.0,303.9 L281.0,301.8" fill="none" stroke="#383838" stroke-width="4.1" stroke-linecap="round" stroke-linejoin="round"/>
<path d="M285.0,311.4 L284.2,311.4 L282.8,310.4 L281.3,308.6 L280.3,306.2 L280.0,303.9 L281.0,301.8" fill="none" stroke="#8e8e8e" stroke-width="3.2" stroke-linecap="round" stroke-linejoin="round"/>
<path d="M291.0,304.3 L290.2,304.3 L288.9,303.3 L287.5,301.4 L286.5,299.0 L286.4,296.6 L287.3,294.7" fill="none" stroke="#383838" stroke-width="4.1" stroke-linecap="round" stroke-linejoin="round"/>
<path d="M291.0,304.3 L290.2,304.3 L288.9,303.3 L287.5,301.4 L286.5,299.0 L286.4,296.6 L287.3,294.7" fill="none" stroke="#8e8e8e" stroke-width="3.2" stroke-linecap="round" stroke-linejoin="round"/>
<path d="M297.3,297.2 L296.5,297.2 L295.2,296.2 L293.8,294.3 L292.8,291.9 L293.1,289.0 L294.3,287.2" fill="none" stroke="#383838" stroke-width="4.1" stroke-linecap="round" stroke-linejoin="round"/>
<path d="M297.3,297.2 L296.5,297.2 L295.2,296.2 L293.8,294.3 L292.8,291.9 L293.1,289.0 L294.3,287.2" fill="none" stroke="#8e8e8e" stroke-width="3.2" stroke-linecap="round" stroke-linejoin="round"/>
<path d="M303.7,291.5 L303.0,291.3 L301.8,290.1 L300.8,288.0 L300.2,285.5 L300.5,283.1 L301.8,281.4" fill="none" stroke="#383838" stroke-width="4.1" stroke-linecap="round" stroke-linejoin="round"/>
<path d="M303.7,291.5 L303.0,291.3 L301.8,290.1 L300.8,288.0 L300.2,285.5 L300.5,283.1 L301.8,281.4" fill="none" stroke="#8e8e8e" stroke-width="3.2" stroke-linecap="round" stroke-linejoin="round"/>
<path d="M275.5,315.6 L277.6,316.8 L278.8,317.9 L278.9,318.7" fill="none" stroke="#383838" stroke-width="4.1" stroke-linecap="round" stroke-linejoin="round"/>
<path d="M275.5,315.6 L277.6,316.8 L278.8,317.9 L278.9,318.7" fill="none" stroke="#b2b2b2" stroke-width="3.2" stroke-linecap="round" stroke-linejoin="round"/>
<path d="M274.9,309.2 L276.6,308.0 L279.0,307.7 L281.5,308.3 L283.6,309.4 L284.8,310.6 L285.0,311.4" fill="none" stroke="#383838" stroke-width="4.1" stroke-linecap="round" stroke-linejoin="round"/>
<path d="M274.9,309.2 L276.6,308.0 L279.0,307.7 L281.5,308.3 L283.6,309.4 L284.8,310.6 L285.0,311.4" fill="none" stroke="#b2b2b2" stroke-width="3.2" stroke-linecap="round" stroke-linejoin="round"/>
<path d="M281.0,301.8 L282.8,300.6 L285.2,300.5 L287.7,301.1 L289.7,302.3 L290.9,303.6 L291.0,304.3" fill="none" stroke="#383838" stroke-width="4.1" stroke-linecap="round" stroke-linejoin="round"/>
<path d="M281.0,301.8 L282.8,300.6 L285.2,300.5 L287.7,301.1 L289.7,302.3 L290.9,303.6 L291.0,304.3" fill="none" stroke="#b2b2b2" stroke-width="3.2" stroke-linecap="round" stroke-linejoin="round"/>
<path d="M287.3,294.7 L289.1,293.6 L291.5,293.4 L294.0,294.1 L296.0,295.3 L297.2,296.5 L297.3,297.2" fill="none" stroke="#383838" stroke-width="4.1" stroke-linecap="round" stroke-linejoin="round"/>
<path d="M287.3,294.7 L289.1,293.6 L291.5,293.4 L294.0,294.1 L296.0,295.3 L297.2,296.5 L297.3,297.2" fill="none" stroke="#b2b2b2" stroke-width="3.2" stroke-linecap="round" stroke-linejoin="round"/>
<path d="M294.3,287.2 L296.3,286.4 L298.7,286.7 L301.0,287.8 L302.8,289.3 L303.7,290.7 L303.7,291.5" fill="none" stroke="#383838" stroke-width="4.1" stroke-linecap="round" stroke-linejoin="round"/>
<path d="M294.3,287.2 L296.3,286.4 L298.7,286.7 L301.0,287.8 L302.8,289.3 L303.7,290.7 L303.7,291.5" fill="none" stroke="#b2b2b2" stroke-width="3.2" stroke-linecap="round" stroke-linejoin="round"/>
<path d="M301.8,281.4 L303.8,280.6 L306.2,280.8 L308.5,282.0" fill="none" stroke="#383838" stroke-width="4.1" stroke-linecap="round" stroke-linejoin="round"/>
<path d="M301.8,281.4 L303.8,280.6 L306.2,280.8 L308.5,282.0" fill="none" stroke="#b2b2b2" stroke-width="3.2" stroke-linecap="round" stroke-linejoin="round"/>
<path d="M313.3,283.2 L312.6,283.1 L311.3,282.1 L309.7,280.3 L308.6,277.9 L308.3,275.4 L309.1,273.3" fill="none" stroke="#383838" stroke-width="4.1" stroke-linecap="round" stroke-linejoin="round"/>
<path d="M313.3,283.2 L312.6,283.1 L311.3,282.1 L309.7,280.3 L308.6,277.9 L308.3,275.4 L309.1,273.3" fill="none" stroke="#8e8e8e" stroke-width="3.2" stroke-linecap="round" stroke-linejoin="round"/>
<path d="M319.8,274.1 L319.1,274.0 L317.8,273.0 L316.2,271.2 L315.1,268.8 L314.8,266.3 L315.6,264.2" fill="none" stroke="#383838" stroke-width="4.1" stroke-linecap="round" stroke-linejoin="round"/>
<path d="M319.8,274.1 L319.1,274.0 L317.8,273.0 L316.2,271.2 L315.1,268.8 L314.8,266.3 L315.6,264.2" fill="none" stroke="#8e8e8e" stroke-width="3.2" stroke-linecap="round" stroke-linejoin="round"/>
<path d="M326.3,265.0 L325.7,264.8 L324.3,263.9 L322.7,262.1 L321.5,259.8 L321.1,257.3 L321.8,255.1" fill="none" stroke="#383838" stroke-width="4.1" stroke-linecap="round" stroke-linejoin="round"/>
<path d="M326.3,265.0 L325.7,264.8 L324.3,263.9 L322.7,262.1 L321.5,259.8 L321.1,257.3 L321.8,255.1" fill="none" stroke="#8e8e8e" stroke-width="3.2" stroke-linecap="round" stroke-linejoin="round"/>
<path d="M309.4,280.7 L311.6,281.6 L313.0,282.5 L313.3,283.2" fill="none" stroke="#383838" stroke-width="4.1" stroke-linecap="round" stroke-linejoin="round"/>
<path d="M309.4,280.7 L311.6,281.6 L313.0,282.5 L313.3,283.2" fill="none" stroke="#b2b2b2" stroke-width="3.2" stroke-linecap="round" stroke-linejoin="round"/>
<path d="M309.1,273.3 L310.9,271.9 L313.3,271.3 L315.9,271.6 L318.1,272.5 L319.5,273.5 L319.8,274.1" fill="none" stroke="#383838" stroke-width="4.1" stroke-linecap="round" stroke-linejoin="round"/>
<path d="M309.1,273.3 L310.9,271.9 L313.3,271.3 L315.9,271.6 L318.1,272.5 L319.5,273.5 L319.8,274.1" fill="none" stroke="#b2b2b2" stroke-width="3.2" stroke-linecap="round" stroke-linejoin="round"/>
<path d="M315.6,264.2 L317.4,262.8 L319.8,262.2 L322.4,262.5 L324.6,263.4 L326.0,264.4 L326.3,265.0" fill="none" stroke="#383838" stroke-width="4.1" stroke-linecap="round" stroke-linejoin="round"/>
<path d="M315.6,264.2 L317.4,262.8 L319.8,262.2 L322.4,262.5 L324.6,263.4 L326.0,264.4 L326.3,265.0" fill="none" stroke="#b2b2b2" stroke-width="3.2" stroke-linecap="round" stroke-linejoin="round"/>
<path d="M321.8,255.1 L323.6,253.7 L326.0,253.0 L328.6,253.3" fill="none" stroke="#383838" stroke-width="4.1" stroke-linecap="round" stroke-linejoin="round"/>
<path d="M321.8,255.1 L323.6,253.7 L326.0,253.0 L328.6,253.3" fill="none" stroke="#b2b2b2" stroke-width="3.2" stroke-linecap="round" stroke-linejoin="round"/>
<path d="M370.0,242.8 C370.5,244.3 371.7,249.7 373.0,251.7 C374.2,253.6 375.9,254.4 377.4,254.6 C378.9,254.9 381.4,252.2 381.9,253.1 C382.3,254.1 381.6,259.1 380.4,260.6 C379.1,262.0 375.4,261.8 374.4,262.0" fill="none" stroke="#383838" stroke-width="3.2" stroke-linecap="round" stroke-linejoin="round"/>
<path d="M370.0,242.8 C370.5,244.3 371.7,249.7 373.0,251.7 C374.2,253.6 375.9,254.4 377.4,254.6 C378.9,254.9 381.4,252.2 381.9,253.1 C382.3,254.1 381.6,259.1 380.4,260.6 C379.1,262.0 375.4,261.8 374.4,262.0" fill="none" stroke="#b2b2b2" stroke-width="2.6" stroke-linecap="round" stroke-linejoin="round"/>
<path d="M368.5,244.3 C369.5,245.2 372.5,248.7 374.4,250.2 C376.4,251.7 379.4,252.7 380.4,253.1" fill="none" stroke="#404040" stroke-width="3.2" stroke-linecap="round" stroke-linejoin="round"/>
<path d="M368.5,244.3 C369.5,245.2 372.5,248.7 374.4,250.2 C376.4,251.7 379.4,252.7 380.4,253.1" fill="none" stroke="#cccccc" stroke-width="2.6" stroke-linecap="round" stroke-linejoin="round"/>
<path d="M285.7,341.1 C286.5,342.3 288.7,346.8 290.2,348.5 C291.7,350.2 293.6,350.0 294.6,351.5 C295.6,353.0 294.9,355.9 296.1,357.4 C297.3,358.9 300.1,359.6 302.0,360.4 C304.0,361.1 307.0,361.6 308.0,361.9" fill="none" stroke="#383838" stroke-width="1.8" stroke-linecap="round" stroke-linejoin="round"/>
<path d="M285.7,341.1 C286.5,342.3 288.7,346.8 290.2,348.5 C291.7,350.2 293.6,350.0 294.6,351.5 C295.6,353.0 294.9,355.9 296.1,357.4 C297.3,358.9 300.1,359.6 302.0,360.4 C304.0,361.1 307.0,361.6 308.0,361.9" fill="none" stroke="#b2b2b2" stroke-width="1.1" stroke-linecap="round" stroke-linejoin="round"/>
<path d="M291.7,313.0 C291.4,314.0 289.7,316.9 290.2,318.9 C290.7,320.9 292.9,324.8 294.6,324.8 C296.4,324.8 298.6,320.6 300.6,318.9 C302.5,317.2 305.5,315.2 306.5,314.4" fill="none" stroke="#383838" stroke-width="1.8" stroke-linecap="round" stroke-linejoin="round"/>
<path d="M291.7,313.0 C291.4,314.0 289.7,316.9 290.2,318.9 C290.7,320.9 292.9,324.8 294.6,324.8 C296.4,324.8 298.6,320.6 300.6,318.9 C302.5,317.2 305.5,315.2 306.5,314.4" fill="none" stroke="#b2b2b2" stroke-width="1.1" stroke-linecap="round" stroke-linejoin="round"/>
<path d="M308.0,315.9 C307.7,317.2 306.0,321.4 306.5,323.3 C307.0,325.3 310.4,326.0 310.9,327.8 C311.4,329.5 310.9,332.1 309.4,333.7 C308.0,335.3 303.3,336.8 302.0,337.4" fill="none" stroke="#383838" stroke-width="1.8" stroke-linecap="round" stroke-linejoin="round"/>
<path d="M308.0,315.9 C307.7,317.2 306.0,321.4 306.5,323.3 C307.0,325.3 310.4,326.0 310.9,327.8 C311.4,329.5 310.9,332.1 309.4,333.7 C308.0,335.3 303.3,336.8 302.0,337.4" fill="none" stroke="#b2b2b2" stroke-width="1.1" stroke-linecap="round" stroke-linejoin="round"/>
<path d="M303.5,344.1 C304.0,344.8 305.2,348.0 306.5,348.5 C307.7,349.0 310.2,347.3 310.9,347.0" fill="none" stroke="#383838" stroke-width="1.8" stroke-linecap="round" stroke-linejoin="round"/>
<path d="M303.5,344.1 C304.0,344.8 305.2,348.0 306.5,348.5 C307.7,349.0 310.2,347.3 310.9,347.0" fill="none" stroke="#b2b2b2" stroke-width="1.1" stroke-linecap="round" stroke-linejoin="round"/>
<path d="M308.0,361.9 C306.5,361.7 301.5,360.6 299.1,361.1 C296.6,361.6 293.9,363.2 293.1,364.8 C292.4,366.4 295.1,368.8 294.6,370.7 C294.1,372.7 290.7,374.2 290.2,376.7 C289.7,379.1 290.4,383.8 291.7,385.6 C292.9,387.3 295.1,387.5 297.6,387.0 C300.1,386.5 305.0,383.3 306.5,382.6" fill="none" stroke="#383838" stroke-width="1.8" stroke-linecap="round" stroke-linejoin="round"/>
<path d="M308.0,361.9 C306.5,361.7 301.5,360.6 299.1,361.1 C296.6,361.6 293.9,363.2 293.1,364.8 C292.4,366.4 295.1,368.8 294.6,370.7 C294.1,372.7 290.7,374.2 290.2,376.7 C289.7,379.1 290.4,383.8 291.7,385.6 C292.9,387.3 295.1,387.5 297.6,387.0 C300.1,386.5 305.0,383.3 306.5,382.6" fill="none" stroke="#b2b2b2" stroke-width="1.1" stroke-linecap="round" stroke-linejoin="round"/>
<path d="M334.6,398.9 C333.6,399.9 330.4,403.3 328.7,404.8 C327.0,406.3 324.5,406.5 324.3,407.8 C324.0,409.0 325.5,411.5 327.2,412.2 C329.0,413.0 332.4,413.2 334.6,412.2 C336.9,411.2 338.6,407.5 340.6,406.3 C342.5,405.1 344.8,404.3 346.5,404.8 C348.2,405.3 349.2,407.8 350.9,409.3 C352.7,410.7 355.4,413.5 356.9,413.7 C358.3,414.0 359.3,411.2 359.8,410.7" fill="none" stroke="#383838" stroke-width="1.8" stroke-linecap="round" stroke-linejoin="round"/>
<path d="M334.6,398.9 C333.6,399.9 330.4,403.3 328.7,404.8 C327.0,406.3 324.5,406.5 324.3,407.8 C324.0,409.0 325.5,411.5 327.2,412.2 C329.0,413.0 332.4,413.2 334.6,412.2 C336.9,411.2 338.6,407.5 340.6,406.3 C342.5,405.1 344.8,404.3 346.5,404.8 C348.2,405.3 349.2,407.8 350.9,409.3 C352.7,410.7 355.4,413.5 356.9,413.7 C358.3,414.0 359.3,411.2 359.8,410.7" fill="none" stroke="#b2b2b2" stroke-width="1.1" stroke-linecap="round" stroke-linejoin="round"/>
<path d="M353.9,370.7 C354.9,370.5 357.8,369.0 359.8,369.3 C361.8,369.5 364.3,370.7 365.7,372.2 C367.2,373.7 367.2,377.2 368.7,378.1 C370.2,379.1 372.7,377.2 374.6,378.1 C376.6,379.1 379.6,381.9 380.6,384.1 C381.5,386.3 381.3,389.3 380.6,391.5 C379.8,393.7 377.6,396.2 376.1,397.4 C374.6,398.6 373.1,399.6 371.7,398.9 C370.2,398.1 368.7,394.4 367.2,393.0 C365.7,391.5 363.5,390.5 362.8,390.0" fill="none" stroke="#383838" stroke-width="1.8" stroke-linecap="round" stroke-linejoin="round"/>
<path d="M353.9,370.7 C354.9,370.5 357.8,369.0 359.8,369.3 C361.8,369.5 364.3,370.7 365.7,372.2 C367.2,373.7 367.2,377.2 368.7,378.1 C370.2,379.1 372.7,377.2 374.6,378.1 C376.6,379.1 379.6,381.9 380.6,384.1 C381.5,386.3 381.3,389.3 380.6,391.5 C379.8,393.7 377.6,396.2 376.1,397.4 C374.6,398.6 373.1,399.6 371.7,398.9 C370.2,398.1 368.7,394.4 367.2,393.0 C365.7,391.5 363.5,390.5 362.8,390.0" fill="none" stroke="#b2b2b2" stroke-width="1.1" stroke-linecap="round" stroke-linejoin="round"/>
<path d="M272.4,315.9 C273.4,315.7 276.9,314.0 278.3,314.4 C279.8,314.9 281.5,316.9 281.3,318.9 C281.0,320.9 278.1,324.1 276.9,326.3 C275.6,328.5 274.4,331.2 273.9,332.2" fill="none" stroke="#383838" stroke-width="3.9" stroke-linecap="butt" stroke-linejoin="round"/>
<path d="M272.4,315.9 C273.4,315.7 276.9,314.0 278.3,314.4 C279.8,314.9 281.5,316.9 281.3,318.9 C281.0,320.9 278.1,324.1 276.9,326.3 C275.6,328.5 274.4,331.2 273.9,332.2" fill="none" stroke="#b2b2b2" stroke-width="3.0" stroke-linecap="butt" stroke-linejoin="round"/>
<path d="M273.9,332.2 C275.1,331.7 279.1,329.5 281.3,329.3 C283.5,329.0 286.0,329.5 287.2,330.7 C288.5,332.0 289.0,334.9 288.7,336.7 C288.5,338.4 286.2,340.4 285.7,341.1" fill="none" stroke="#383838" stroke-width="3.9" stroke-linecap="butt" stroke-linejoin="round"/>
<path d="M273.9,332.2 C275.1,331.7 279.1,329.5 281.3,329.3 C283.5,329.0 286.0,329.5 287.2,330.7 C288.5,332.0 289.0,334.9 288.7,336.7 C288.5,338.4 286.2,340.4 285.7,341.1" fill="none" stroke="#b2b2b2" stroke-width="3.0" stroke-linecap="butt" stroke-linejoin="round"/>
<path d="M350.9,409.3 C351.4,409.8 352.7,411.5 353.9,412.2 C355.1,413.0 357.6,413.5 358.3,413.7" fill="none" stroke="#383838" stroke-width="3.9" stroke-linecap="butt" stroke-linejoin="round"/>
<path d="M350.9,409.3 C351.4,409.8 352.7,411.5 353.9,412.2 C355.1,413.0 357.6,413.5 358.3,413.7" fill="none" stroke="#b2b2b2" stroke-width="3.0" stroke-linecap="butt" stroke-linejoin="round"/>
<path d="M309.4,364.8 C310.7,365.3 314.6,366.5 316.9,367.8 C319.1,369.0 321.8,371.5 322.8,372.2" fill="none" stroke="#383838" stroke-width="4.9" stroke-linecap="butt" stroke-linejoin="round"/>
<path d="M309.4,364.8 C310.7,365.3 314.6,366.5 316.9,367.8 C319.1,369.0 321.8,371.5 322.8,372.2" fill="none" stroke="#b2b2b2" stroke-width="4.0" stroke-linecap="butt" stroke-linejoin="round"/>
<path d="M306.5,382.6 C308.0,383.6 312.4,386.3 315.4,388.5 C318.3,390.7 321.8,394.2 324.3,395.9 C326.7,397.6 329.2,398.1 330.2,398.6" fill="none" stroke="#383838" stroke-width="4.9" stroke-linecap="butt" stroke-linejoin="round"/>
<path d="M306.5,382.6 C308.0,383.6 312.4,386.3 315.4,388.5 C318.3,390.7 321.8,394.2 324.3,395.9 C326.7,397.6 329.2,398.1 330.2,398.6" fill="none" stroke="#b2b2b2" stroke-width="4.0" stroke-linecap="butt" stroke-linejoin="round"/>
<path d="M313.9,376.7 C314.9,377.9 317.6,381.4 319.8,384.1 C322.0,386.8 325.5,390.7 327.2,393.0 C329.0,395.2 329.7,396.7 330.2,397.4" fill="none" stroke="#404040" stroke-width="5.1" stroke-linecap="butt" stroke-linejoin="round"/>
<path d="M313.9,376.7 C314.9,377.9 317.6,381.4 319.8,384.1 C322.0,386.8 325.5,390.7 327.2,393.0 C329.0,395.2 329.7,396.7 330.2,397.4" fill="none" stroke="#cccccc" stroke-width="4.2" stroke-linecap="butt" stroke-linejoin="round"/>
<path d="M324.3,369.3 C325.2,370.7 328.5,374.7 330.2,378.1 C331.9,381.6 334.1,386.8 334.6,390.0 C335.2,393.2 333.6,396.2 333.4,397.4" fill="none" stroke="#383838" stroke-width="5.5" stroke-linecap="butt" stroke-linejoin="round"/>
<path d="M324.3,369.3 C325.2,370.7 328.5,374.7 330.2,378.1 C331.9,381.6 334.1,386.8 334.6,390.0 C335.2,393.2 333.6,396.2 333.4,397.4" fill="none" stroke="#b2b2b2" stroke-width="4.6" stroke-linecap="butt" stroke-linejoin="round"/>
<path d="M352.4,372.2 C351.9,371.0 350.8,367.4 349.4,364.8 C348.1,362.2 345.1,358.0 344.3,356.7" fill="none" stroke="#383838" stroke-width="4.9" stroke-linecap="butt" stroke-linejoin="round"/>
<path d="M352.4,372.2 C351.9,371.0 350.8,367.4 349.4,364.8 C348.1,362.2 345.1,358.0 344.3,356.7" fill="none" stroke="#b2b2b2" stroke-width="4.0" stroke-linecap="butt" stroke-linejoin="round"/>
<path d="M348.0,378.1 C345.5,376.7 337.6,372.2 333.1,369.3 C328.7,366.3 325.2,363.3 321.3,360.4 C317.3,357.5 311.4,353.2 309.4,351.8" fill="none" stroke="#383838" stroke-width="5.5" stroke-linecap="butt" stroke-linejoin="round"/>
<path d="M348.0,378.1 C345.5,376.7 337.6,372.2 333.1,369.3 C328.7,366.3 325.2,363.3 321.3,360.4 C317.3,357.5 311.4,353.2 309.4,351.8" fill="none" stroke="#b2b2b2" stroke-width="4.6" stroke-linecap="butt" stroke-linejoin="round"/>
<path d="M348.0,378.1 C345.5,376.7 337.6,372.2 333.1,369.3 C328.7,366.3 325.2,363.3 321.3,360.4 C317.3,357.5 311.4,353.2 309.4,351.8" fill="none" stroke="#ffffff" stroke-opacity="0.4" stroke-width="1.4" stroke-linecap="butt" stroke-linejoin="round"/>
<path d="M352.4,382.6 C350.7,380.9 345.7,376.2 342.0,372.2 C338.3,368.3 334.1,363.8 330.2,358.9 C326.3,354.0 320.6,345.6 318.6,342.9" fill="none" stroke="#404040" stroke-width="5.9" stroke-linecap="butt" stroke-linejoin="round"/>
<path d="M352.4,382.6 C350.7,380.9 345.7,376.2 342.0,372.2 C338.3,368.3 334.1,363.8 330.2,358.9 C326.3,354.0 320.6,345.6 318.6,342.9" fill="none" stroke="#cccccc" stroke-width="5.0" stroke-linecap="butt" stroke-linejoin="round"/>
<path d="M352.4,382.6 C350.7,380.9 345.7,376.2 342.0,372.2 C338.3,368.3 334.1,363.8 330.2,358.9 C326.3,354.0 320.6,345.6 318.6,342.9" fill="none" stroke="#ffffff" stroke-opacity="0.4" stroke-width="1.5" stroke-linecap="butt" stroke-linejoin="round"/>
<path d="M337.6,350.0 C336.6,348.8 333.3,344.7 331.7,342.6 C330.1,340.5 328.6,338.3 328.0,337.4" fill="none" stroke="#383838" stroke-width="4.7" stroke-linecap="butt" stroke-linejoin="round"/>
<polygon points="330.9,335.3 325.5,334.0 325.0,339.5" fill="#b2b2b2" stroke="#383838" stroke-width="0.5" stroke-linejoin="round"/>
<path d="M337.6,350.0 C336.6,348.8 333.3,344.7 331.7,342.6 C330.1,340.5 328.6,338.3 328.0,337.4" fill="none" stroke="#b2b2b2" stroke-width="3.8" stroke-linecap="butt" stroke-linejoin="round"/>
<path d="M358.3,387.0 C358.8,388.3 360.6,392.2 361.3,394.4 C362.0,396.7 362.5,399.4 362.8,400.4" fill="none" stroke="#383838" stroke-width="4.5" stroke-linecap="butt" stroke-linejoin="round"/>
<polygon points="359.5,401.2 363.7,404.2 366.1,399.5" fill="#b2b2b2" stroke="#383838" stroke-width="0.5" stroke-linejoin="round"/>
<path d="M358.3,387.0 C358.8,388.3 360.6,392.2 361.3,394.4 C362.0,396.7 362.5,399.4 362.8,400.4" fill="none" stroke="#b2b2b2" stroke-width="3.6" stroke-linecap="butt" stroke-linejoin="round"/>
<path d="M321.3,305.0 C322.3,304.5 325.0,302.3 327.2,302.0 C329.4,301.8 332.4,302.3 334.6,303.5 C336.9,304.8 339.6,308.5 340.6,309.4" fill="none" stroke="#36583a" stroke-width="1.8" stroke-linecap="round" stroke-linejoin="round"/>
<path d="M321.3,305.0 C322.3,304.5 325.0,302.3 327.2,302.0 C329.4,301.8 332.4,302.3 334.6,303.5 C336.9,304.8 339.6,308.5 340.6,309.4" fill="none" stroke="#88bc8c" stroke-width="1.1" stroke-linecap="round" stroke-linejoin="round"/>
<path d="M353.9,291.7 C354.9,292.4 357.3,294.9 359.8,296.1 C362.3,297.3 365.7,298.8 368.7,299.1 C371.7,299.3 375.1,297.1 377.6,297.6 C380.1,298.1 382.5,301.3 383.5,302.0" fill="none" stroke="#36583a" stroke-width="1.8" stroke-linecap="round" stroke-linejoin="round"/>
<path d="M353.9,291.7 C354.9,292.4 357.3,294.9 359.8,296.1 C362.3,297.3 365.7,298.8 368.7,299.1 C371.7,299.3 375.1,297.1 377.6,297.6 C380.1,298.1 382.5,301.3 383.5,302.0" fill="none" stroke="#88bc8c" stroke-width="1.1" stroke-linecap="round" stroke-linejoin="round"/>
<path d="M352.2,293.1 C353.0,292.9 355.4,291.2 356.7,291.7 C357.9,292.2 358.1,294.9 359.6,296.1 C361.1,297.3 363.6,298.8 365.6,299.1 C367.5,299.3 369.5,297.6 371.5,297.6 C373.5,297.6 375.9,299.1 377.4,299.1 C378.9,299.1 380.1,296.9 380.4,297.6 C380.6,298.3 378.1,302.0 378.9,303.5 C379.6,305.0 383.8,306.0 384.8,306.5" fill="none" stroke="#36583a" stroke-width="1.8" stroke-linecap="round" stroke-linejoin="round"/>
<path d="M352.2,293.1 C353.0,292.9 355.4,291.2 356.7,291.7 C357.9,292.2 358.1,294.9 359.6,296.1 C361.1,297.3 363.6,298.8 365.6,299.1 C367.5,299.3 369.5,297.6 371.5,297.6 C373.5,297.6 375.9,299.1 377.4,299.1 C378.9,299.1 380.1,296.9 380.4,297.6 C380.6,298.3 378.1,302.0 378.9,303.5 C379.6,305.0 383.8,306.0 384.8,306.5" fill="none" stroke="#88bc8c" stroke-width="1.1" stroke-linecap="round" stroke-linejoin="round"/>
<path d="M309.4,344.1 C309.9,344.6 311.2,346.5 312.4,347.0 C313.6,347.5 315.9,346.3 316.9,347.0 C317.8,347.8 317.3,350.0 318.3,351.5 C319.3,353.0 321.5,354.9 322.8,355.9 C324.0,356.9 325.2,357.2 325.7,357.4" fill="none" stroke="#36583a" stroke-width="1.8" stroke-linecap="round" stroke-linejoin="round"/>
<path d="M309.4,344.1 C309.9,344.6 311.2,346.5 312.4,347.0 C313.6,347.5 315.9,346.3 316.9,347.0 C317.8,347.8 317.3,350.0 318.3,351.5 C319.3,353.0 321.5,354.9 322.8,355.9 C324.0,356.9 325.2,357.2 325.7,357.4" fill="none" stroke="#88bc8c" stroke-width="1.1" stroke-linecap="round" stroke-linejoin="round"/>
<path d="M345.0,342.6 C345.5,343.6 347.7,346.8 348.0,348.5 C348.2,350.2 347.5,352.0 346.5,353.0 C345.5,354.0 343.3,354.7 342.0,354.4 C340.8,354.2 339.6,352.0 339.1,351.5" fill="none" stroke="#36583a" stroke-width="1.8" stroke-linecap="round" stroke-linejoin="round"/>
<path d="M345.0,342.6 C345.5,343.6 347.7,346.8 348.0,348.5 C348.2,350.2 347.5,352.0 346.5,353.0 C345.5,354.0 343.3,354.7 342.0,354.4 C340.8,354.2 339.6,352.0 339.1,351.5" fill="none" stroke="#88bc8c" stroke-width="1.1" stroke-linecap="round" stroke-linejoin="round"/>
<path d="M350.9,336.7 C351.9,336.9 355.1,338.6 356.9,338.1 C358.6,337.7 360.6,334.4 361.3,333.7" fill="none" stroke="#36583a" stroke-width="1.8" stroke-linecap="round" stroke-linejoin="round"/>
<path d="M350.9,336.7 C351.9,336.9 355.1,338.6 356.9,338.1 C358.6,337.7 360.6,334.4 361.3,333.7" fill="none" stroke="#88bc8c" stroke-width="1.1" stroke-linecap="round" stroke-linejoin="round"/>
<path d="M361.3,321.9 C362.3,320.9 365.5,316.9 367.2,315.9 C369.0,314.9 370.9,315.9 371.7,315.9" fill="none" stroke="#36583a" stroke-width="1.8" stroke-linecap="round" stroke-linejoin="round"/>
<path d="M361.3,321.9 C362.3,320.9 365.5,316.9 367.2,315.9 C369.0,314.9 370.9,315.9 371.7,315.9" fill="none" stroke="#88bc8c" stroke-width="1.1" stroke-linecap="round" stroke-linejoin="round"/>
<path d="M348.0,299.1 C348.7,300.1 351.4,303.0 352.4,305.0 C353.4,307.0 353.6,309.9 353.9,310.9" fill="none" stroke="#2c4a30" stroke-width="4.5" stroke-linecap="butt" stroke-linejoin="round"/>
<path d="M348.0,299.1 C348.7,300.1 351.4,303.0 352.4,305.0 C353.4,307.0 353.6,309.9 353.9,310.9" fill="none" stroke="#5f9264" stroke-width="3.6" stroke-linecap="butt" stroke-linejoin="round"/>
<path d="M324.3,323.5 C326.7,321.9 334.5,316.6 339.1,313.9 C343.6,311.2 349.6,308.3 351.7,307.2" fill="none" stroke="#2c4a30" stroke-width="5.9" stroke-linecap="butt" stroke-linejoin="round"/>
<path d="M324.3,323.5 C326.7,321.9 334.5,316.6 339.1,313.9 C343.6,311.2 349.6,308.3 351.7,307.2" fill="none" stroke="#5f9264" stroke-width="5.0" stroke-linecap="butt" stroke-linejoin="round"/>
<path d="M345.0,319.8 C347.5,318.0 356.1,311.4 359.8,308.7 C363.5,306.0 366.0,304.4 367.2,303.5" fill="none" stroke="#36583a" stroke-width="5.9" stroke-linecap="butt" stroke-linejoin="round"/>
<path d="M345.0,319.8 C347.5,318.0 356.1,311.4 359.8,308.7 C363.5,306.0 366.0,304.4 367.2,303.5" fill="none" stroke="#88bc8c" stroke-width="5.0" stroke-linecap="butt" stroke-linejoin="round"/>
<path d="M322.8,323.3 C324.3,322.6 328.0,320.4 331.7,318.9 C335.4,317.4 341.3,315.8 345.0,314.4 C348.7,313.1 352.4,311.4 353.9,310.7" fill="none" stroke="#2c4a30" stroke-width="6.3" stroke-linecap="butt" stroke-linejoin="round"/>
<path d="M322.8,323.3 C324.3,322.6 328.0,320.4 331.7,318.9 C335.4,317.4 341.3,315.8 345.0,314.4 C348.7,313.1 352.4,311.4 353.9,310.7" fill="none" stroke="#5f9264" stroke-width="5.4" stroke-linecap="butt" stroke-linejoin="round"/>
<path d="M316.9,338.1 C318.8,337.2 324.5,334.2 328.7,332.2 C332.9,330.2 337.3,328.8 342.0,326.3 C346.7,323.8 352.9,320.0 356.9,317.4 C360.8,314.8 364.3,311.9 365.7,310.7" fill="none" stroke="#36583a" stroke-width="6.5" stroke-linecap="butt" stroke-linejoin="round"/>
<path d="M316.9,338.1 C318.8,337.2 324.5,334.2 328.7,332.2 C332.9,330.2 337.3,328.8 342.0,326.3 C346.7,323.8 352.9,320.0 356.9,317.4 C360.8,314.8 364.3,311.9 365.7,310.7" fill="none" stroke="#88bc8c" stroke-width="5.6" stroke-linecap="butt" stroke-linejoin="round"/>
<path d="M334.6,339.6 C336.4,339.3 342.3,338.0 345.0,337.4 C347.7,336.9 349.9,336.5 350.9,336.4" fill="none" stroke="#40683f" stroke-width="5.1" stroke-linecap="butt" stroke-linejoin="round"/>
<path d="M334.6,339.6 C336.4,339.3 342.3,338.0 345.0,337.4 C347.7,336.9 349.9,336.5 350.9,336.4" fill="none" stroke="#a4d8a6" stroke-width="4.2" stroke-linecap="butt" stroke-linejoin="round"/>
<path d="M356.9,335.2 C358.3,333.5 363.4,327.4 365.7,324.8 C368.1,322.2 370.1,320.5 370.9,319.6" fill="none" stroke="#40683f" stroke-width="5.3" stroke-linecap="butt" stroke-linejoin="round"/>
<path d="M356.9,335.2 C358.3,333.5 363.4,327.4 365.7,324.8 C368.1,322.2 370.1,320.5 370.9,319.6" fill="none" stroke="#a4d8a6" stroke-width="4.4" stroke-linecap="butt" stroke-linejoin="round"/>
<path d="M364.1,319.8 C364.7,319.9 366.5,320.3 367.8,320.6 C369.0,320.8 370.9,321.2 371.5,321.3" fill="none" stroke="#40683f" stroke-width="4.3" stroke-linecap="butt" stroke-linejoin="round"/>
<path d="M364.1,319.8 C364.7,319.9 366.5,320.3 367.8,320.6 C369.0,320.8 370.9,321.2 371.5,321.3" fill="none" stroke="#a4d8a6" stroke-width="3.4" stroke-linecap="butt" stroke-linejoin="round"/>
<circle cx="304.7" cy="285.7" r="2.2" fill="url(#sG)"/>
<circle cx="309.4" cy="286.0" r="2.2" fill="url(#sG)"/>
<circle cx="314.6" cy="285.7" r="2.2" fill="url(#sG)"/>
<circle cx="317.6" cy="285.7" r="2.2" fill="url(#sG)"/>
<circle cx="320.6" cy="284.3" r="2.2" fill="url(#sG)"/>
<circle cx="319.1" cy="282.0" r="2.2" fill="url(#sG)"/>
<circle cx="322.8" cy="281.3" r="2.2" fill="url(#sG)"/>
<circle cx="321.6" cy="278.3" r="2.2" fill="url(#sG)"/>
<circle cx="322.5" cy="274.6" r="2.2" fill="url(#sG)"/>
<circle cx="322.0" cy="270.9" r="2.2" fill="url(#sG)"/>
<circle cx="321.0" cy="267.2" r="2.2" fill="url(#sG)"/>
<circle cx="321.3" cy="263.5" r="2.2" fill="url(#sG)"/>
<circle cx="322.0" cy="259.8" r="2.2" fill="url(#sG)"/>
<circle cx="329.4" cy="252.4" r="2.2" fill="url(#sG)"/>
<circle cx="332.4" cy="253.9" r="2.2" fill="url(#sG)"/>
<circle cx="333.9" cy="256.9" r="2.2" fill="url(#sG)"/>
<circle cx="335.8" cy="260.6" r="2.2" fill="url(#sG)"/>
<circle cx="333.9" cy="263.5" r="2.2" fill="url(#sG)"/>
<circle cx="335.8" cy="266.5" r="2.2" fill="url(#sG)"/>
<circle cx="339.1" cy="267.7" r="2.2" fill="url(#sG)"/>
<circle cx="342.0" cy="268.7" r="2.2" fill="url(#sG)"/>
<circle cx="345.0" cy="269.4" r="2.2" fill="url(#sG)"/>
<circle cx="348.0" cy="268.0" r="2.2" fill="url(#sG)"/>
<circle cx="350.9" cy="268.7" r="2.2" fill="url(#sG)"/>
<circle cx="353.9" cy="268.0" r="2.2" fill="url(#sG)"/>
<circle cx="357.6" cy="266.5" r="2.2" fill="url(#sG)"/>
<circle cx="362.0" cy="265.0" r="2.2" fill="url(#sG)"/>
<circle cx="325.4" cy="254.6" r="1.6" fill="url(#sB)"/>
<circle cx="318.3" cy="239.1" r="1.7" fill="url(#sR)"/>
<circle cx="313.1" cy="245.7" r="1.7" fill="url(#sR)"/>
<circle cx="328.7" cy="243.5" r="1.7" fill="url(#sR)"/>
<circle cx="324.3" cy="247.2" r="1.7" fill="url(#sR)"/>
<circle cx="313.9" cy="243.5" r="2.2" fill="url(#sG)"/>
<circle cx="316.9" cy="242.8" r="2.2" fill="url(#sG)"/>
<circle cx="319.8" cy="243.5" r="2.2" fill="url(#sG)"/>
<circle cx="322.8" cy="242.8" r="2.2" fill="url(#sG)"/>
<circle cx="325.7" cy="243.5" r="2.2" fill="url(#sG)"/>
<circle cx="323.5" cy="242.0" r="1.7" fill="url(#sR)"/>
</g>
<text transform="translate(455.8,31.3) scale(0.89,1)" class="sa" font-size="23.6" font-weight="bold" fill="#000">B</text>
<line x1="469.80" y1="58.30" x2="488.50" y2="62.70" stroke="#262626" stroke-width="0.85" stroke-linecap="round" />
<line x1="488.50" y1="62.70" x2="504.30" y2="58.90" stroke="#262626" stroke-width="0.85" stroke-linecap="round" />
<line x1="510.70" y1="61.60" x2="517.90" y2="74.80" stroke="#262626" stroke-width="0.85" stroke-linecap="round" />
<text transform="translate(508.10,60.68) scale(0.095,0.1)" class="se" font-size="76.6" font-weight="normal" text-anchor="middle" fill="#000" stroke="#000" stroke-width="0.6">O</text>
<polygon points="469.53,58.44 476.74,74.79 479.06,73.61 470.07,58.16" fill="#000" stroke="none" stroke-width="0" stroke-linejoin="round" />
<line x1="477.60" y1="74.20" x2="501.20" y2="70.60" stroke="#000" stroke-width="2.4" stroke-linecap="butt"/>
<polygon points="517.97,74.51 501.21,69.34 500.59,71.86 517.83,75.09" fill="#000" stroke="none" stroke-width="0" stroke-linejoin="round" />
<line x1="477.90" y1="74.20" x2="469.60" y2="73.00" stroke="#262626" stroke-width="0.85" stroke-linecap="round" />
<text transform="translate(464.20,75.08) scale(0.095,0.1)" class="se" font-size="76.6" font-weight="normal" text-anchor="middle" fill="#000" stroke="#000" stroke-width="0.6">HO</text>
<line x1="500.90" y1="70.60" x2="495.40" y2="77.20" stroke="#262626" stroke-width="0.85" stroke-linecap="round" />
<text transform="translate(490.00,83.68) scale(0.095,0.1)" class="se" font-size="76.6" font-weight="normal" text-anchor="middle" fill="#000" stroke="#000" stroke-width="0.6">HO</text>
<line x1="469.80" y1="58.30" x2="470.30" y2="50.00" stroke="#262626" stroke-width="0.85" stroke-linecap="round" />
<text transform="translate(472.00,48.58) scale(0.095,0.1)" class="se" font-size="76.6" font-weight="normal" text-anchor="middle" fill="#000" stroke="#000" stroke-width="0.6">OH</text>
<line x1="488.50" y1="62.70" x2="486.00" y2="50.40" stroke="#262626" stroke-width="0.85" stroke-linecap="round" />
<line x1="486.00" y1="50.40" x2="488.70" y2="43.20" stroke="#262626" stroke-width="0.85" stroke-linecap="round" />
<text transform="translate(491.00,41.88) scale(0.095,0.1)" class="se" font-size="76.6" font-weight="normal" text-anchor="middle" fill="#000" stroke="#000" stroke-width="0.6">OH</text>
<line x1="517.90" y1="74.80" x2="518.80" y2="83.80" stroke="#262626" stroke-width="0.85" stroke-linecap="round" />
<text x="513.20" y="90.60" class="sa" font-size="7.3" font-weight="bold" fill="#f53ce0" text-anchor="middle">H₂C</text>
<line x1="520.50" y1="88.40" x2="527.00" y2="93.60" stroke="#f53ce0" stroke-width="0.85" stroke-linecap="round" />
<polyline points="527.00,93.60 537.60,87.70 547.70,93.00 556.20,87.70" fill="none" stroke="#262626" stroke-width="0.85" stroke-linejoin="round" stroke-linecap="round" />
<line x1="537.96" y1="86.67" x2="537.26" y2="86.67" stroke="#000" stroke-width="0.6" stroke-linecap="round" />
<line x1="538.19" y1="84.62" x2="537.07" y2="84.60" stroke="#000" stroke-width="0.6" stroke-linecap="round" />
<line x1="538.42" y1="82.56" x2="536.88" y2="82.54" stroke="#000" stroke-width="0.6" stroke-linecap="round" />
<line x1="538.65" y1="80.50" x2="536.69" y2="80.48" stroke="#000" stroke-width="0.6" stroke-linecap="round" />
<line x1="538.88" y1="78.44" x2="536.50" y2="78.42" stroke="#000" stroke-width="0.6" stroke-linecap="round" />
<text transform="translate(533.80,75.88) scale(0.095,0.1)" class="se" font-size="76.6" font-weight="normal" text-anchor="middle" fill="#000" stroke="#000" stroke-width="0.6">HN</text>
<line x1="538.50" y1="70.20" x2="548.30" y2="64.20" stroke="#262626" stroke-width="0.85" stroke-linecap="round" />
<line x1="549.50" y1="64.20" x2="549.50" y2="55.50" stroke="#262626" stroke-width="0.85" stroke-linecap="round" />
<line x1="547.10" y1="64.20" x2="547.10" y2="55.50" stroke="#262626" stroke-width="0.85" stroke-linecap="round" />
<text transform="translate(548.50,54.38) scale(0.095,0.1)" class="se" font-size="76.6" font-weight="normal" text-anchor="middle" fill="#000" stroke="#000" stroke-width="0.6">O</text>
<polygon points="547.40,93.00 546.40,101.00 549.00,101.00 548.00,93.00" fill="#000" stroke="none" stroke-width="0" stroke-linejoin="round" />
<text transform="translate(550.30,107.48) scale(0.095,0.1)" class="se" font-size="76.6" font-weight="normal" text-anchor="middle" fill="#000" stroke="#000" stroke-width="0.6">OH</text>
<line x1="556.15" y1="86.81" x2="555.51" y2="87.13" stroke="#000" stroke-width="0.6" stroke-linecap="round" />
<line x1="555.59" y1="85.25" x2="554.59" y2="85.77" stroke="#000" stroke-width="0.6" stroke-linecap="round" />
<line x1="555.04" y1="83.70" x2="553.66" y2="84.40" stroke="#000" stroke-width="0.6" stroke-linecap="round" />
<line x1="554.49" y1="82.14" x2="552.73" y2="83.04" stroke="#000" stroke-width="0.6" stroke-linecap="round" />
<line x1="553.94" y1="80.59" x2="551.80" y2="81.67" stroke="#000" stroke-width="0.6" stroke-linecap="round" />
<text transform="translate(547.20,80.28) scale(0.095,0.1)" class="se" font-size="76.6" font-weight="normal" text-anchor="middle" fill="#000" stroke="#000" stroke-width="0.6">HO</text>
<polyline points="556.20,87.70 565.34,93.00 574.48,87.70 583.63,93.00 592.77,87.70 601.91,93.00 611.05,87.70 620.19,93.00 629.33,87.70 638.66,93.00 648.62,87.70 658.59,93.00 669.05,87.70 682.13,94.86 695.20,87.70" fill="none" stroke="#262626" stroke-width="0.85" stroke-linejoin="round" stroke-linecap="round" />
<polyline points="548.30,64.20 557.38,69.50 566.46,64.20 575.54,69.50 584.62,64.20 593.70,69.50 602.79,64.20 611.87,69.50 620.95,64.20 630.03,69.50 639.11,64.20 648.19,69.50 657.27,64.20 666.35,69.50 675.43,64.20 684.51,69.50 695.07,64.20 705.63,69.50 716.20,64.20 726.76,69.50 737.32,64.20 747.88,69.50 758.44,64.20 769.00,69.50 781.85,62.34 794.70,69.50" fill="none" stroke="#262626" stroke-width="0.85" stroke-linejoin="round" stroke-linecap="round" />
<text x="597.50" y="46.20" class="sa" font-size="17.7" font-weight="normal" text-anchor="start" fill="#1c1c1c"  dx="0.6 0.6">α-C-GalCer</text>
<line x1="467.00" y1="189.50" x2="485.23" y2="193.90" stroke="#262626" stroke-width="0.85" stroke-linecap="round" />
<line x1="485.23" y1="193.90" x2="500.64" y2="190.10" stroke="#262626" stroke-width="0.85" stroke-linecap="round" />
<line x1="506.88" y1="192.80" x2="513.90" y2="206.00" stroke="#262626" stroke-width="0.85" stroke-linecap="round" />
<text transform="translate(504.34,191.88) scale(0.095,0.1)" class="se" font-size="76.6" font-weight="normal" text-anchor="middle" fill="#000" stroke="#000" stroke-width="0.6">O</text>
<polygon points="466.73,189.63 473.74,205.98 476.06,204.82 467.27,189.37" fill="#000" stroke="none" stroke-width="0" stroke-linejoin="round" />
<line x1="474.60" y1="205.40" x2="497.62" y2="201.80" stroke="#000" stroke-width="2.4" stroke-linecap="butt"/>
<polygon points="513.97,205.71 497.64,200.54 497.01,203.06 513.83,206.29" fill="#000" stroke="none" stroke-width="0" stroke-linejoin="round" />
<line x1="474.90" y1="205.40" x2="466.81" y2="204.20" stroke="#262626" stroke-width="0.85" stroke-linecap="round" />
<text transform="translate(461.54,206.28) scale(0.095,0.1)" class="se" font-size="76.6" font-weight="normal" text-anchor="middle" fill="#000" stroke="#000" stroke-width="0.6">HO</text>
<line x1="497.32" y1="201.80" x2="491.96" y2="208.40" stroke="#262626" stroke-width="0.85" stroke-linecap="round" />
<text transform="translate(486.70,214.88) scale(0.095,0.1)" class="se" font-size="76.6" font-weight="normal" text-anchor="middle" fill="#000" stroke="#000" stroke-width="0.6">HO</text>
<line x1="467.00" y1="189.50" x2="467.49" y2="181.20" stroke="#262626" stroke-width="0.85" stroke-linecap="round" />
<text transform="translate(469.15,179.78) scale(0.095,0.1)" class="se" font-size="76.6" font-weight="normal" text-anchor="middle" fill="#000" stroke="#000" stroke-width="0.6">OH</text>
<line x1="485.23" y1="193.90" x2="482.80" y2="181.60" stroke="#262626" stroke-width="0.85" stroke-linecap="round" />
<line x1="482.80" y1="181.60" x2="485.60" y2="171.20" stroke="#262626" stroke-width="0.85" stroke-linecap="round" />
<text transform="translate(486.60,171.18) scale(0.095,0.1)" class="se" font-size="73.5" font-weight="bold" text-anchor="middle" fill="#3232f8" stroke="#3232f8" stroke-width="0.6">HN</text>
<line x1="490.80" y1="166.80" x2="502.30" y2="160.80" stroke="#3232f8" stroke-width="0.85" stroke-linecap="round" />
<line x1="503.50" y1="160.80" x2="503.50" y2="149.50" stroke="#3232f8" stroke-width="0.85" stroke-linecap="round" />
<line x1="501.10" y1="160.80" x2="501.10" y2="149.50" stroke="#3232f8" stroke-width="0.85" stroke-linecap="round" />
<text transform="translate(502.50,147.78) scale(0.095,0.1)" class="se" font-size="73.5" font-weight="bold" text-anchor="middle" fill="#3232f8" stroke="#3232f8" stroke-width="0.6">O</text>
<line x1="502.30" y1="160.80" x2="512.30" y2="166.30" stroke="#3232f8" stroke-width="0.85" stroke-linecap="round" />
<text transform="translate(515.40,170.78) scale(0.095,0.1)" class="se" font-size="73.5" font-weight="bold" text-anchor="middle" fill="#3232f8" stroke="#3232f8" stroke-width="0.6">N</text>
<text transform="translate(515.40,177.38) scale(0.095,0.1)" class="se" font-size="73.5" font-weight="bold" text-anchor="middle" fill="#3232f8" stroke="#3232f8" stroke-width="0.6">H</text>
<line x1="518.60" y1="166.20" x2="530.20" y2="159.60" stroke="#3232f8" stroke-width="0.85" stroke-linecap="round" />
<line x1="543.28" y1="136.95" x2="556.35" y2="144.50" stroke="#3232f8" stroke-width="0.85" stroke-linecap="round" />
<line x1="544.06" y1="140.42" x2="552.95" y2="145.56" stroke="#3232f8" stroke-width="0.85" stroke-linecap="round" />
<line x1="556.35" y1="144.50" x2="556.35" y2="159.60" stroke="#3232f8" stroke-width="0.85" stroke-linecap="round" />
<line x1="556.35" y1="159.60" x2="543.28" y2="167.15" stroke="#3232f8" stroke-width="0.85" stroke-linecap="round" />
<line x1="552.95" y1="158.54" x2="544.06" y2="163.68" stroke="#3232f8" stroke-width="0.85" stroke-linecap="round" />
<line x1="543.28" y1="167.15" x2="530.20" y2="159.60" stroke="#3232f8" stroke-width="0.85" stroke-linecap="round" />
<line x1="530.20" y1="159.60" x2="530.20" y2="144.50" stroke="#3232f8" stroke-width="0.85" stroke-linecap="round" />
<line x1="532.82" y1="157.18" x2="532.82" y2="146.92" stroke="#3232f8" stroke-width="0.85" stroke-linecap="round" />
<line x1="530.20" y1="144.50" x2="543.28" y2="136.95" stroke="#3232f8" stroke-width="0.85" stroke-linecap="round" />
<line x1="530.20" y1="114.30" x2="543.28" y2="121.85" stroke="#3232f8" stroke-width="0.85" stroke-linecap="round" />
<line x1="530.98" y1="117.77" x2="539.88" y2="122.91" stroke="#3232f8" stroke-width="0.85" stroke-linecap="round" />
<line x1="543.28" y1="121.85" x2="543.28" y2="136.95" stroke="#3232f8" stroke-width="0.85" stroke-linecap="round" />
<line x1="543.28" y1="136.95" x2="530.20" y2="144.50" stroke="#3232f8" stroke-width="0.85" stroke-linecap="round" />
<line x1="530.20" y1="144.50" x2="517.12" y2="136.95" stroke="#3232f8" stroke-width="0.85" stroke-linecap="round" />
<line x1="517.12" y1="136.95" x2="517.12" y2="121.85" stroke="#3232f8" stroke-width="0.85" stroke-linecap="round" />
<line x1="519.74" y1="134.53" x2="519.74" y2="124.27" stroke="#3232f8" stroke-width="0.85" stroke-linecap="round" />
<line x1="517.12" y1="121.85" x2="530.20" y2="114.30" stroke="#3232f8" stroke-width="0.85" stroke-linecap="round" />
<line x1="513.90" y1="206.00" x2="514.19" y2="214.60" stroke="#262626" stroke-width="0.85" stroke-linecap="round" />
<text transform="translate(514.49,221.58) scale(0.095,0.1)" class="se" font-size="76.6" font-weight="normal" text-anchor="middle" fill="#000" stroke="#000" stroke-width="0.6">O</text>
<line x1="517.22" y1="221.00" x2="522.77" y2="224.80" stroke="#262626" stroke-width="0.85" stroke-linecap="round" />
<polyline points="522.77,224.80 533.11,218.90 542.95,224.20 551.24,218.90" fill="none" stroke="#262626" stroke-width="0.85" stroke-linejoin="round" stroke-linecap="round" />
<line x1="533.47" y1="217.87" x2="532.76" y2="217.87" stroke="#000" stroke-width="0.6" stroke-linecap="round" />
<line x1="533.70" y1="215.82" x2="532.57" y2="215.80" stroke="#000" stroke-width="0.6" stroke-linecap="round" />
<line x1="533.93" y1="213.76" x2="532.38" y2="213.74" stroke="#000" stroke-width="0.6" stroke-linecap="round" />
<line x1="534.16" y1="211.70" x2="532.19" y2="211.68" stroke="#000" stroke-width="0.6" stroke-linecap="round" />
<line x1="534.39" y1="209.64" x2="532.00" y2="209.62" stroke="#000" stroke-width="0.6" stroke-linecap="round" />
<text transform="translate(529.40,207.08) scale(0.095,0.1)" class="se" font-size="76.6" font-weight="normal" text-anchor="middle" fill="#000" stroke="#000" stroke-width="0.6">HN</text>
<line x1="533.99" y1="201.40" x2="543.54" y2="195.40" stroke="#262626" stroke-width="0.85" stroke-linecap="round" />
<line x1="544.74" y1="195.40" x2="544.74" y2="186.70" stroke="#262626" stroke-width="0.85" stroke-linecap="round" />
<line x1="542.34" y1="195.40" x2="542.34" y2="186.70" stroke="#262626" stroke-width="0.85" stroke-linecap="round" />
<text transform="translate(543.74,185.58) scale(0.095,0.1)" class="se" font-size="76.6" font-weight="normal" text-anchor="middle" fill="#000" stroke="#000" stroke-width="0.6">O</text>
<polygon points="542.65,224.20 541.65,232.20 544.25,232.20 543.25,224.20" fill="#000" stroke="none" stroke-width="0" stroke-linejoin="round" />
<text transform="translate(545.49,238.68) scale(0.095,0.1)" class="se" font-size="76.6" font-weight="normal" text-anchor="middle" fill="#000" stroke="#000" stroke-width="0.6">OH</text>
<line x1="551.20" y1="218.01" x2="550.56" y2="218.33" stroke="#000" stroke-width="0.6" stroke-linecap="round" />
<line x1="550.67" y1="216.46" x2="549.65" y2="216.96" stroke="#000" stroke-width="0.6" stroke-linecap="round" />
<line x1="550.13" y1="214.91" x2="548.74" y2="215.59" stroke="#000" stroke-width="0.6" stroke-linecap="round" />
<line x1="549.60" y1="213.35" x2="547.83" y2="214.23" stroke="#000" stroke-width="0.6" stroke-linecap="round" />
<line x1="549.07" y1="211.80" x2="546.92" y2="212.86" stroke="#000" stroke-width="0.6" stroke-linecap="round" />
<text transform="translate(542.47,211.48) scale(0.095,0.1)" class="se" font-size="76.6" font-weight="normal" text-anchor="middle" fill="#000" stroke="#000" stroke-width="0.6">HO</text>
<polyline points="551.24,218.90 560.11,224.20 568.97,218.90 577.83,224.20 586.69,218.90 595.56,224.20 604.42,218.90 613.28,224.20 622.14,218.90 631.18,224.20 640.84,218.90 650.50,224.20 660.65,218.90 673.33,226.06 686.00,218.90" fill="none" stroke="#262626" stroke-width="0.85" stroke-linejoin="round" stroke-linecap="round" />
<polyline points="543.54,195.40 552.39,200.70 561.23,195.40 570.08,200.70 578.93,195.40 587.78,200.70 596.62,195.40 605.47,200.70 614.32,195.40 623.16,200.70 632.01,195.40 640.86,200.70 649.71,195.40 658.55,200.70 667.40,195.40 676.25,200.70 686.54,195.40 696.83,200.70 707.12,195.40 717.41,200.70 727.69,195.40 737.98,200.70 748.27,195.40 758.56,200.70 771.08,193.55 783.60,200.70" fill="none" stroke="#262626" stroke-width="0.85" stroke-linejoin="round" stroke-linecap="round" />
<text x="598.80" y="176.40" class="sa" font-size="17.7" font-weight="normal" text-anchor="start" fill="#1c1c1c"  dx="0 0 0 0.6 0.6">NU-α-GalCer</text>
<line x1="468.28" y1="305.49" x2="486.33" y2="309.63" stroke="#262626" stroke-width="0.85" stroke-linecap="round" />
<line x1="486.33" y1="309.63" x2="501.58" y2="306.05" stroke="#262626" stroke-width="0.85" stroke-linecap="round" />
<line x1="507.75" y1="308.59" x2="514.70" y2="321.00" stroke="#262626" stroke-width="0.85" stroke-linecap="round" />
<text transform="translate(505.24,307.88) scale(0.095,0.1)" class="se" font-size="76.6" font-weight="normal" text-anchor="middle" fill="#000" stroke="#000" stroke-width="0.6">O</text>
<polygon points="468.02,305.63 474.95,321.04 477.25,319.83 468.55,305.35" fill="#000" stroke="none" stroke-width="0" stroke-linejoin="round" />
<line x1="475.80" y1="320.44" x2="498.60" y2="317.05" stroke="#000" stroke-width="2.4" stroke-linecap="butt"/>
<polygon points="514.77,320.71 498.60,315.79 497.99,318.32 514.63,321.29" fill="#000" stroke="none" stroke-width="0" stroke-linejoin="round" />
<line x1="476.10" y1="320.44" x2="468.09" y2="319.31" stroke="#262626" stroke-width="0.85" stroke-linecap="round" />
<text transform="translate(462.88,321.42) scale(0.095,0.1)" class="se" font-size="76.6" font-weight="normal" text-anchor="middle" fill="#000" stroke="#000" stroke-width="0.6">HO</text>
<line x1="498.30" y1="317.05" x2="492.99" y2="323.26" stroke="#262626" stroke-width="0.85" stroke-linecap="round" />
<text transform="translate(487.78,329.50) scale(0.095,0.1)" class="se" font-size="76.6" font-weight="normal" text-anchor="middle" fill="#000" stroke="#000" stroke-width="0.6">HO</text>
<line x1="468.28" y1="305.49" x2="468.77" y2="297.69" stroke="#262626" stroke-width="0.85" stroke-linecap="round" />
<text transform="translate(470.41,296.51) scale(0.095,0.1)" class="se" font-size="76.6" font-weight="normal" text-anchor="middle" fill="#000" stroke="#000" stroke-width="0.6">OH</text>
<line x1="486.33" y1="309.63" x2="483.92" y2="298.06" stroke="#262626" stroke-width="0.85" stroke-linecap="round" />
<line x1="483.92" y1="298.06" x2="489.30" y2="288.70" stroke="#262626" stroke-width="0.85" stroke-linecap="round" />
<text transform="translate(491.50,289.08) scale(0.095,0.1)" class="se" font-size="76.6" font-weight="normal" text-anchor="middle" fill="#000" stroke="#000" stroke-width="0.6">O</text>
<line x1="494.20" y1="284.60" x2="503.00" y2="279.60" stroke="#3232f8" stroke-width="0.85" stroke-linecap="round" />
<line x1="504.20" y1="279.60" x2="504.20" y2="269.60" stroke="#3232f8" stroke-width="0.85" stroke-linecap="round" />
<line x1="501.80" y1="279.60" x2="501.80" y2="269.60" stroke="#3232f8" stroke-width="0.85" stroke-linecap="round" />
<text transform="translate(503.40,267.98) scale(0.095,0.1)" class="se" font-size="73.5" font-weight="bold" text-anchor="middle" fill="#3232f8" stroke="#3232f8" stroke-width="0.6">O</text>
<line x1="503.00" y1="279.60" x2="513.00" y2="284.40" stroke="#3232f8" stroke-width="0.85" stroke-linecap="round" />
<text transform="translate(516.00,288.38) scale(0.095,0.1)" class="se" font-size="73.5" font-weight="bold" text-anchor="middle" fill="#3232f8" stroke="#3232f8" stroke-width="0.6">N</text>
<text transform="translate(516.00,294.88) scale(0.095,0.1)" class="se" font-size="73.5" font-weight="bold" text-anchor="middle" fill="#3232f8" stroke="#3232f8" stroke-width="0.6">H</text>
<line x1="519.20" y1="284.20" x2="530.40" y2="278.40" stroke="#3232f8" stroke-width="0.85" stroke-linecap="round" />
<line x1="542.60" y1="257.40" x2="551.33" y2="262.44" stroke="#3232f8" stroke-width="0.85" stroke-linecap="round" />
<line x1="554.72" y1="268.60" x2="554.72" y2="278.40" stroke="#3232f8" stroke-width="0.85" stroke-linecap="round" />
<line x1="554.72" y1="278.40" x2="542.60" y2="285.40" stroke="#3232f8" stroke-width="0.85" stroke-linecap="round" />
<line x1="542.60" y1="285.40" x2="530.48" y2="278.40" stroke="#3232f8" stroke-width="0.85" stroke-linecap="round" />
<line x1="530.48" y1="278.40" x2="530.48" y2="264.40" stroke="#3232f8" stroke-width="0.85" stroke-linecap="round" />
<line x1="530.48" y1="264.40" x2="542.60" y2="257.40" stroke="#3232f8" stroke-width="0.85" stroke-linecap="round" />
<line x1="543.57" y1="260.76" x2="549.39" y2="264.12" stroke="#3232f8" stroke-width="0.85" stroke-linecap="round" />
<line x1="551.33" y1="277.56" x2="543.57" y2="282.04" stroke="#3232f8" stroke-width="0.85" stroke-linecap="round" />
<line x1="532.90" y1="275.88" x2="532.90" y2="266.92" stroke="#3232f8" stroke-width="0.85" stroke-linecap="round" />
<text transform="translate(555.02,266.85) scale(0.095,0.1)" class="se" font-size="75.7" font-weight="bold" text-anchor="middle" fill="#3232f8" stroke="#3232f8" stroke-width="0.6">N</text>
<line x1="514.70" y1="321.00" x2="514.99" y2="329.08" stroke="#262626" stroke-width="0.85" stroke-linecap="round" />
<text transform="translate(515.28,335.80) scale(0.095,0.1)" class="se" font-size="76.6" font-weight="normal" text-anchor="middle" fill="#000" stroke="#000" stroke-width="0.6">O</text>
<line x1="517.98" y1="335.10" x2="523.48" y2="338.67" stroke="#262626" stroke-width="0.85" stroke-linecap="round" />
<polyline points="523.48,338.67 533.71,333.13 543.46,338.11 551.66,333.13" fill="none" stroke="#262626" stroke-width="0.85" stroke-linejoin="round" stroke-linecap="round" />
<line x1="534.08" y1="332.16" x2="533.37" y2="332.15" stroke="#000" stroke-width="0.6" stroke-linecap="round" />
<line x1="534.30" y1="330.23" x2="533.17" y2="330.22" stroke="#000" stroke-width="0.6" stroke-linecap="round" />
<line x1="534.53" y1="328.29" x2="532.98" y2="328.28" stroke="#000" stroke-width="0.6" stroke-linecap="round" />
<line x1="534.76" y1="326.36" x2="532.79" y2="326.34" stroke="#000" stroke-width="0.6" stroke-linecap="round" />
<line x1="534.99" y1="324.42" x2="532.60" y2="324.40" stroke="#000" stroke-width="0.6" stroke-linecap="round" />
<text transform="translate(530.04,322.17) scale(0.095,0.1)" class="se" font-size="76.6" font-weight="normal" text-anchor="middle" fill="#000" stroke="#000" stroke-width="0.6">HN</text>
<line x1="534.58" y1="316.68" x2="544.04" y2="311.04" stroke="#262626" stroke-width="0.85" stroke-linecap="round" />
<line x1="545.24" y1="311.04" x2="545.24" y2="302.86" stroke="#262626" stroke-width="0.85" stroke-linecap="round" />
<line x1="542.84" y1="311.04" x2="542.84" y2="302.86" stroke="#262626" stroke-width="0.85" stroke-linecap="round" />
<text transform="translate(544.23,301.96) scale(0.095,0.1)" class="se" font-size="76.6" font-weight="normal" text-anchor="middle" fill="#000" stroke="#000" stroke-width="0.6">O</text>
<polygon points="543.16,338.11 542.16,345.63 544.76,345.63 543.76,338.11" fill="#000" stroke="none" stroke-width="0" stroke-linejoin="round" />
<text transform="translate(545.97,351.88) scale(0.095,0.1)" class="se" font-size="76.6" font-weight="normal" text-anchor="middle" fill="#000" stroke="#000" stroke-width="0.6">OH</text>
<line x1="551.62" y1="332.28" x2="550.99" y2="332.60" stroke="#000" stroke-width="0.6" stroke-linecap="round" />
<line x1="551.09" y1="330.81" x2="550.09" y2="331.33" stroke="#000" stroke-width="0.6" stroke-linecap="round" />
<line x1="550.56" y1="329.34" x2="549.19" y2="330.05" stroke="#000" stroke-width="0.6" stroke-linecap="round" />
<line x1="550.03" y1="327.87" x2="548.29" y2="328.78" stroke="#000" stroke-width="0.6" stroke-linecap="round" />
<line x1="549.51" y1="326.40" x2="547.39" y2="327.50" stroke="#000" stroke-width="0.6" stroke-linecap="round" />
<text transform="translate(542.97,326.31) scale(0.095,0.1)" class="se" font-size="76.6" font-weight="normal" text-anchor="middle" fill="#000" stroke="#000" stroke-width="0.6">HO</text>
<polyline points="551.66,333.13 560.24,338.11 568.82,333.13 577.40,338.11 585.97,333.13 594.55,338.11 603.13,333.13 611.71,338.11 620.29,333.13 629.04,338.11 638.39,333.13 647.74,338.11 657.56,333.13 669.83,339.85 682.10,333.13" fill="none" stroke="#262626" stroke-width="0.85" stroke-linejoin="round" stroke-linecap="round" />
<polyline points="544.04,311.04 552.65,316.02 561.27,311.04 569.89,316.02 578.51,311.04 587.13,316.02 595.75,311.04 604.37,316.02 612.99,311.04 621.61,316.02 630.22,311.04 638.84,316.02 647.46,311.04 656.08,316.02 664.70,311.04 673.32,316.02 683.34,311.04 693.37,316.02 703.39,311.04 713.41,316.02 723.44,311.04 733.46,316.02 743.48,311.04 753.51,316.02 765.70,309.29 777.90,316.02" fill="none" stroke="#262626" stroke-width="0.85" stroke-linejoin="round" stroke-linecap="round" />
<text x="597.50" y="289.00" class="sa" font-size="17.7" font-weight="normal" text-anchor="start" fill="#1c1c1c"  dx="0 0 0 0 0 0.6 0.6">PyrC-α-GalCer</text>
<line x1="475.80" y1="405.80" x2="492.00" y2="410.20" stroke="#262626" stroke-width="0.85" stroke-linecap="round" />
<line x1="492.00" y1="410.20" x2="509.20" y2="406.40" stroke="#262626" stroke-width="0.85" stroke-linecap="round" />
<line x1="514.20" y1="409.60" x2="519.50" y2="425.00" stroke="#262626" stroke-width="0.85" stroke-linecap="round" />
<text transform="translate(512.30,408.28) scale(0.080,0.1)" class="se" font-size="76.6" font-weight="normal" text-anchor="middle" fill="#000" stroke="#000" stroke-width="0.6">O</text>
<polygon points="475.53,405.94 484.44,425.40 486.76,424.20 476.07,405.66" fill="#000" stroke="none" stroke-width="0" stroke-linejoin="round" />
<line x1="485.30" y1="424.80" x2="502.50" y2="419.40" stroke="#000" stroke-width="2.4" stroke-linecap="butt"/>
<polygon points="519.59,424.71 502.60,418.16 501.80,420.64 519.41,425.29" fill="#000" stroke="none" stroke-width="0" stroke-linejoin="round" />
<line x1="475.80" y1="405.80" x2="467.80" y2="410.60" stroke="#262626" stroke-width="0.85" stroke-linecap="round" />
<text transform="translate(462.60,415.28) scale(0.080,0.1)" class="se" font-size="76.6" font-weight="normal" text-anchor="middle" fill="#000" stroke="#000" stroke-width="0.6">HO</text>
<line x1="485.60" y1="424.80" x2="477.60" y2="422.40" stroke="#262626" stroke-width="0.85" stroke-linecap="round" />
<text transform="translate(471.80,425.08) scale(0.080,0.1)" class="se" font-size="76.6" font-weight="normal" text-anchor="middle" fill="#000" stroke="#000" stroke-width="0.6">HO</text>
<line x1="492.00" y1="410.20" x2="489.50" y2="394.40" stroke="#262626" stroke-width="0.85" stroke-linecap="round" />
<line x1="489.50" y1="394.40" x2="493.00" y2="387.00" stroke="#262626" stroke-width="0.85" stroke-linecap="round" />
<text transform="translate(495.20,386.08) scale(0.080,0.1)" class="se" font-size="76.6" font-weight="normal" text-anchor="middle" fill="#000" stroke="#000" stroke-width="0.6">OH</text>
<line x1="502.20" y1="419.40" x2="501.90" y2="409.00" stroke="#262626" stroke-width="0.85" stroke-linecap="round" />
<text transform="translate(503.20,407.58) scale(0.080,0.1)" class="se" font-size="76.6" font-weight="normal" text-anchor="middle" fill="#000" stroke="#000" stroke-width="0.6">OH</text>
<line x1="519.50" y1="425.00" x2="526.60" y2="418.80" stroke="#262626" stroke-width="0.85" stroke-linecap="round" />
<text transform="translate(529.40,418.98) scale(0.080,0.1)" class="se" font-size="76.6" font-weight="normal" text-anchor="middle" fill="#000" stroke="#000" stroke-width="0.6">O</text>
<line x1="532.60" y1="418.00" x2="540.10" y2="422.80" stroke="#262626" stroke-width="0.85" stroke-linecap="round" />
<polyline points="540.10,422.80 548.80,416.60 557.40,422.80 566.00,416.40" fill="none" stroke="#262626" stroke-width="0.85" stroke-linejoin="round" stroke-linecap="round" />
<line x1="549.15" y1="415.44" x2="548.44" y2="415.44" stroke="#000" stroke-width="0.6" stroke-linecap="round" />
<line x1="549.37" y1="413.12" x2="548.23" y2="413.12" stroke="#000" stroke-width="0.6" stroke-linecap="round" />
<line x1="549.57" y1="410.80" x2="548.02" y2="410.80" stroke="#000" stroke-width="0.6" stroke-linecap="round" />
<line x1="549.78" y1="408.48" x2="547.81" y2="408.48" stroke="#000" stroke-width="0.6" stroke-linecap="round" />
<line x1="550.00" y1="406.16" x2="547.60" y2="406.16" stroke="#000" stroke-width="0.6" stroke-linecap="round" />
<text transform="translate(545.60,403.48) scale(0.080,0.1)" class="se" font-size="76.6" font-weight="normal" text-anchor="middle" fill="#000" stroke="#000" stroke-width="0.6">HN</text>
<line x1="549.60" y1="397.00" x2="557.40" y2="390.00" stroke="#262626" stroke-width="0.85" stroke-linecap="round" />
<line x1="558.60" y1="390.00" x2="558.60" y2="380.00" stroke="#262626" stroke-width="0.85" stroke-linecap="round" />
<line x1="556.20" y1="390.00" x2="556.20" y2="380.00" stroke="#262626" stroke-width="0.85" stroke-linecap="round" />
<text transform="translate(557.60,378.58) scale(0.080,0.1)" class="se" font-size="76.6" font-weight="normal" text-anchor="middle" fill="#000" stroke="#000" stroke-width="0.6">O</text>
<polygon points="557.10,422.80 556.10,432.60 558.70,432.60 557.70,422.80" fill="#000" stroke="none" stroke-width="0" stroke-linejoin="round" />
<text transform="translate(559.30,440.28) scale(0.080,0.1)" class="se" font-size="76.6" font-weight="normal" text-anchor="middle" fill="#000" stroke="#000" stroke-width="0.6">OH</text>
<line x1="565.96" y1="415.45" x2="565.32" y2="415.75" stroke="#000" stroke-width="0.6" stroke-linecap="round" />
<line x1="565.44" y1="413.77" x2="564.40" y2="414.23" stroke="#000" stroke-width="0.6" stroke-linecap="round" />
<line x1="564.91" y1="412.08" x2="563.49" y2="412.72" stroke="#000" stroke-width="0.6" stroke-linecap="round" />
<line x1="564.38" y1="410.40" x2="562.58" y2="411.20" stroke="#000" stroke-width="0.6" stroke-linecap="round" />
<line x1="563.85" y1="408.71" x2="561.67" y2="409.69" stroke="#000" stroke-width="0.6" stroke-linecap="round" />
<text transform="translate(557.80,407.88) scale(0.080,0.1)" class="se" font-size="76.6" font-weight="normal" text-anchor="middle" fill="#000" stroke="#000" stroke-width="0.6">HO</text>
<polyline points="566.00,416.40 574.09,422.20 582.18,416.40 590.27,422.20 598.36,416.40 606.45,422.20 614.54,416.40 622.63,422.20 630.72,416.40 638.97,422.20 647.78,416.40 656.60,422.20 665.86,416.40 677.43,424.23 689.00,416.40" fill="none" stroke="#262626" stroke-width="0.85" stroke-linejoin="round" stroke-linecap="round" />
<polyline points="557.40,390.50 565.57,396.10 573.74,390.50 581.91,396.10 590.08,390.50 598.25,396.10 606.42,390.50 614.59,396.10 622.76,390.50 630.94,396.10 639.11,390.50 647.28,396.10 655.45,390.50 663.62,396.10 671.79,390.50 679.96,396.10 689.46,390.50 698.96,396.10 708.47,390.50 717.97,396.10 727.47,390.50 736.97,396.10 746.47,390.50 755.98,396.10 767.54,388.54 779.10,396.10" fill="none" stroke="#262626" stroke-width="0.85" stroke-linejoin="round" stroke-linecap="round" />
<text x="598.80" y="372.10" class="sa" font-size="17.7" font-weight="normal" text-anchor="start" fill="#1c1c1c"  dx="0.6 0.6">β-ManCer</text>
<line x1="469.60" y1="482.00" x2="488.30" y2="486.40" stroke="#262626" stroke-width="0.85" stroke-linecap="round" />
<line x1="488.30" y1="486.40" x2="504.10" y2="482.60" stroke="#262626" stroke-width="0.85" stroke-linecap="round" />
<line x1="510.50" y1="485.30" x2="517.70" y2="498.50" stroke="#262626" stroke-width="0.85" stroke-linecap="round" />
<text transform="translate(507.90,484.38) scale(0.095,0.1)" class="se" font-size="76.6" font-weight="normal" text-anchor="middle" fill="#000" stroke="#000" stroke-width="0.6">O</text>
<polygon points="469.33,482.14 476.54,498.49 478.86,497.31 469.87,481.86" fill="#000" stroke="none" stroke-width="0" stroke-linejoin="round" />
<line x1="477.40" y1="497.90" x2="501.00" y2="494.30" stroke="#000" stroke-width="2.4" stroke-linecap="butt"/>
<polygon points="517.77,498.21 501.01,493.04 500.39,495.56 517.63,498.79" fill="#000" stroke="none" stroke-width="0" stroke-linejoin="round" />
<line x1="477.70" y1="497.90" x2="469.40" y2="496.70" stroke="#262626" stroke-width="0.85" stroke-linecap="round" />
<text transform="translate(464.00,498.78) scale(0.095,0.1)" class="se" font-size="76.6" font-weight="normal" text-anchor="middle" fill="#000" stroke="#000" stroke-width="0.6">HO</text>
<line x1="500.70" y1="494.30" x2="495.20" y2="500.90" stroke="#262626" stroke-width="0.85" stroke-linecap="round" />
<text transform="translate(489.80,507.38) scale(0.095,0.1)" class="se" font-size="76.6" font-weight="normal" text-anchor="middle" fill="#000" stroke="#000" stroke-width="0.6">HO</text>
<line x1="469.60" y1="482.00" x2="470.10" y2="473.70" stroke="#262626" stroke-width="0.85" stroke-linecap="round" />
<text transform="translate(471.80,472.28) scale(0.095,0.1)" class="se" font-size="76.6" font-weight="normal" text-anchor="middle" fill="#000" stroke="#000" stroke-width="0.6">OH</text>
<line x1="488.30" y1="486.40" x2="485.80" y2="474.10" stroke="#262626" stroke-width="0.85" stroke-linecap="round" />
<line x1="485.80" y1="474.10" x2="490.60" y2="466.40" stroke="#262626" stroke-width="0.85" stroke-linecap="round" />
<text transform="translate(495.70,466.58) scale(0.095,0.1)" class="se" font-size="76.6" font-weight="normal" text-anchor="middle" fill="#000" stroke="#000" stroke-width="0.6">NH</text>
<line x1="501.60" y1="463.80" x2="514.10" y2="463.80" stroke="#262626" stroke-width="0.85" stroke-linecap="round" />
<line x1="514.10" y1="463.80" x2="521.40" y2="451.30" stroke="#262626" stroke-width="0.85" stroke-linecap="round" />
<line x1="513.05" y1="464.38" x2="518.35" y2="473.98" stroke="#262626" stroke-width="0.85" stroke-linecap="round" />
<line x1="515.15" y1="463.22" x2="520.45" y2="472.82" stroke="#262626" stroke-width="0.85" stroke-linecap="round" />
<text transform="translate(521.20,479.28) scale(0.095,0.1)" class="se" font-size="76.6" font-weight="normal" text-anchor="middle" fill="#000" stroke="#000" stroke-width="0.6">O</text>
<line x1="517.70" y1="498.50" x2="518.00" y2="507.10" stroke="#262626" stroke-width="0.85" stroke-linecap="round" />
<text transform="translate(518.30,514.08) scale(0.095,0.1)" class="se" font-size="76.6" font-weight="normal" text-anchor="middle" fill="#000" stroke="#000" stroke-width="0.6">O</text>
<line x1="521.10" y1="513.50" x2="526.80" y2="517.30" stroke="#262626" stroke-width="0.85" stroke-linecap="round" />
<polyline points="526.80,517.30 537.40,511.40 547.50,516.70 556.00,511.40" fill="none" stroke="#262626" stroke-width="0.85" stroke-linejoin="round" stroke-linecap="round" />
<line x1="537.76" y1="510.37" x2="537.06" y2="510.37" stroke="#000" stroke-width="0.6" stroke-linecap="round" />
<line x1="537.99" y1="508.32" x2="536.87" y2="508.30" stroke="#000" stroke-width="0.6" stroke-linecap="round" />
<line x1="538.22" y1="506.26" x2="536.68" y2="506.24" stroke="#000" stroke-width="0.6" stroke-linecap="round" />
<line x1="538.45" y1="504.20" x2="536.49" y2="504.18" stroke="#000" stroke-width="0.6" stroke-linecap="round" />
<line x1="538.68" y1="502.14" x2="536.30" y2="502.12" stroke="#000" stroke-width="0.6" stroke-linecap="round" />
<text transform="translate(533.60,499.58) scale(0.095,0.1)" class="se" font-size="76.6" font-weight="normal" text-anchor="middle" fill="#000" stroke="#000" stroke-width="0.6">HN</text>
<line x1="538.30" y1="493.90" x2="548.10" y2="487.90" stroke="#262626" stroke-width="0.85" stroke-linecap="round" />
<line x1="549.30" y1="487.90" x2="549.30" y2="479.20" stroke="#262626" stroke-width="0.85" stroke-linecap="round" />
<line x1="546.90" y1="487.90" x2="546.90" y2="479.20" stroke="#262626" stroke-width="0.85" stroke-linecap="round" />
<text transform="translate(548.30,478.08) scale(0.095,0.1)" class="se" font-size="76.6" font-weight="normal" text-anchor="middle" fill="#000" stroke="#000" stroke-width="0.6">O</text>
<polygon points="547.20,516.70 546.20,524.70 548.80,524.70 547.80,516.70" fill="#000" stroke="none" stroke-width="0" stroke-linejoin="round" />
<text transform="translate(550.10,531.18) scale(0.095,0.1)" class="se" font-size="76.6" font-weight="normal" text-anchor="middle" fill="#000" stroke="#000" stroke-width="0.6">OH</text>
<line x1="555.95" y1="510.51" x2="555.31" y2="510.83" stroke="#000" stroke-width="0.6" stroke-linecap="round" />
<line x1="555.39" y1="508.95" x2="554.39" y2="509.47" stroke="#000" stroke-width="0.6" stroke-linecap="round" />
<line x1="554.84" y1="507.40" x2="553.46" y2="508.10" stroke="#000" stroke-width="0.6" stroke-linecap="round" />
<line x1="554.29" y1="505.84" x2="552.53" y2="506.74" stroke="#000" stroke-width="0.6" stroke-linecap="round" />
<line x1="553.74" y1="504.29" x2="551.60" y2="505.37" stroke="#000" stroke-width="0.6" stroke-linecap="round" />
<text transform="translate(547.00,503.98) scale(0.095,0.1)" class="se" font-size="76.6" font-weight="normal" text-anchor="middle" fill="#000" stroke="#000" stroke-width="0.6">HO</text>
<polyline points="556.00,511.40 565.15,516.70 574.31,511.40 583.46,516.70 592.62,511.40 601.77,516.70 610.93,511.40 620.08,516.70 629.24,511.40 638.58,516.70 648.56,511.40 658.53,516.70 669.02,511.40 682.11,518.55 695.20,511.40" fill="none" stroke="#262626" stroke-width="0.85" stroke-linejoin="round" stroke-linecap="round" />
<polyline points="548.10,487.90 556.90,493.20 565.70,487.90 574.50,493.20 583.30,487.90 592.10,493.20 600.90,487.90 609.71,493.20 618.51,487.90 627.31,493.20 636.11,487.90 644.91,493.20 653.71,487.90 662.51,493.20 672.75,487.90 682.98,493.20 693.22,487.90 703.45,493.20 713.69,487.90 723.92,493.20 734.16,487.90 744.39,493.20 756.85,486.04 769.30,493.20" fill="none" stroke="#262626" stroke-width="0.85" stroke-linejoin="round" stroke-linecap="round" />
<text x="598.80" y="475.10" class="sa" font-size="17.7" font-weight="normal" text-anchor="start" fill="#1c1c1c" >ABX-196</text>
<line x1="469.60" y1="563.91" x2="488.30" y2="568.57" stroke="#262626" stroke-width="0.85" stroke-linecap="round" />
<line x1="488.30" y1="568.57" x2="504.10" y2="564.55" stroke="#262626" stroke-width="0.85" stroke-linecap="round" />
<line x1="510.50" y1="567.41" x2="517.70" y2="581.40" stroke="#262626" stroke-width="0.85" stroke-linecap="round" />
<text transform="translate(507.90,566.27) scale(0.095,0.1)" class="se" font-size="76.6" font-weight="normal" text-anchor="middle" fill="#000" stroke="#000" stroke-width="0.6">O</text>
<polygon points="469.33,564.04 476.53,581.33 478.87,580.20 469.87,563.78" fill="#000" stroke="none" stroke-width="0" stroke-linejoin="round" />
<line x1="477.40" y1="580.76" x2="501.00" y2="576.95" stroke="#000" stroke-width="2.4" stroke-linecap="butt"/>
<polygon points="517.78,581.11 501.03,575.69 500.37,578.21 517.62,581.69" fill="#000" stroke="none" stroke-width="0" stroke-linejoin="round" />
<line x1="477.70" y1="580.76" x2="469.40" y2="579.49" stroke="#262626" stroke-width="0.85" stroke-linecap="round" />
<text transform="translate(464.00,581.53) scale(0.095,0.1)" class="se" font-size="76.6" font-weight="normal" text-anchor="middle" fill="#000" stroke="#000" stroke-width="0.6">HO</text>
<line x1="500.70" y1="576.95" x2="495.20" y2="583.94" stroke="#262626" stroke-width="0.85" stroke-linecap="round" />
<text transform="translate(489.80,590.65) scale(0.095,0.1)" class="se" font-size="76.6" font-weight="normal" text-anchor="middle" fill="#000" stroke="#000" stroke-width="0.6">HO</text>
<line x1="488.30" y1="568.57" x2="485.80" y2="555.54" stroke="#262626" stroke-width="0.85" stroke-linecap="round" />
<line x1="485.80" y1="555.54" x2="489.40" y2="550.00" stroke="#262626" stroke-width="0.85" stroke-linecap="round" />
<text transform="translate(491.70,548.88) scale(0.095,0.1)" class="se" font-size="76.6" font-weight="normal" text-anchor="middle" fill="#000" stroke="#000" stroke-width="0.6">OH</text>
<line x1="517.70" y1="581.90" x2="518.00" y2="590.50" stroke="#262626" stroke-width="0.85" stroke-linecap="round" />
<text transform="translate(518.30,597.48) scale(0.095,0.1)" class="se" font-size="76.6" font-weight="normal" text-anchor="middle" fill="#000" stroke="#000" stroke-width="0.6">O</text>
<line x1="521.10" y1="596.90" x2="526.80" y2="600.70" stroke="#262626" stroke-width="0.85" stroke-linecap="round" />
<polyline points="526.80,600.70 537.40,594.80 547.50,600.10 556.00,594.80" fill="none" stroke="#262626" stroke-width="0.85" stroke-linejoin="round" stroke-linecap="round" />
<line x1="537.76" y1="593.77" x2="537.06" y2="593.77" stroke="#000" stroke-width="0.6" stroke-linecap="round" />
<line x1="537.99" y1="591.72" x2="536.87" y2="591.70" stroke="#000" stroke-width="0.6" stroke-linecap="round" />
<line x1="538.22" y1="589.66" x2="536.68" y2="589.64" stroke="#000" stroke-width="0.6" stroke-linecap="round" />
<line x1="538.45" y1="587.60" x2="536.49" y2="587.58" stroke="#000" stroke-width="0.6" stroke-linecap="round" />
<line x1="538.68" y1="585.54" x2="536.30" y2="585.52" stroke="#000" stroke-width="0.6" stroke-linecap="round" />
<text transform="translate(533.60,582.98) scale(0.095,0.1)" class="se" font-size="76.6" font-weight="normal" text-anchor="middle" fill="#000" stroke="#000" stroke-width="0.6">HN</text>
<line x1="538.30" y1="577.30" x2="548.10" y2="571.30" stroke="#262626" stroke-width="0.85" stroke-linecap="round" />
<line x1="549.30" y1="571.30" x2="549.30" y2="562.60" stroke="#262626" stroke-width="0.85" stroke-linecap="round" />
<line x1="546.90" y1="571.30" x2="546.90" y2="562.60" stroke="#262626" stroke-width="0.85" stroke-linecap="round" />
<text transform="translate(548.30,561.48) scale(0.095,0.1)" class="se" font-size="76.6" font-weight="normal" text-anchor="middle" fill="#000" stroke="#000" stroke-width="0.6">O</text>
<polygon points="547.20,600.10 546.20,608.10 548.80,608.10 547.80,600.10" fill="#000" stroke="none" stroke-width="0" stroke-linejoin="round" />
<text transform="translate(550.10,614.58) scale(0.095,0.1)" class="se" font-size="76.6" font-weight="normal" text-anchor="middle" fill="#000" stroke="#000" stroke-width="0.6">OH</text>
<line x1="555.95" y1="593.91" x2="555.31" y2="594.23" stroke="#000" stroke-width="0.6" stroke-linecap="round" />
<line x1="555.39" y1="592.35" x2="554.39" y2="592.87" stroke="#000" stroke-width="0.6" stroke-linecap="round" />
<line x1="554.84" y1="590.80" x2="553.46" y2="591.50" stroke="#000" stroke-width="0.6" stroke-linecap="round" />
<line x1="554.29" y1="589.24" x2="552.53" y2="590.14" stroke="#000" stroke-width="0.6" stroke-linecap="round" />
<line x1="553.74" y1="587.69" x2="551.60" y2="588.77" stroke="#000" stroke-width="0.6" stroke-linecap="round" />
<text transform="translate(547.00,587.38) scale(0.095,0.1)" class="se" font-size="76.6" font-weight="normal" text-anchor="middle" fill="#000" stroke="#000" stroke-width="0.6">HO</text>
<polyline points="556.00,594.80 564.99,600.27 573.98,595.14 582.97,600.61 591.96,595.49 600.95,600.96 609.94,595.83 618.93,601.30 627.92,596.17 637.09,601.64 646.89,596.51 656.69,601.99 666.99,596.86 679.84,604.18 692.70,597.20" fill="none" stroke="#262626" stroke-width="0.85" stroke-linejoin="round" stroke-linecap="round" />
<polyline points="548.10,571.30 557.34,576.60 566.58,571.30 575.81,576.60 585.05,571.30 594.29,576.60 603.52,571.30 612.76,576.60 622.00,571.50" fill="none" stroke="#262626" stroke-width="0.85" stroke-linejoin="round" stroke-linecap="round" />
<line x1="634.64" y1="549.60" x2="647.29" y2="556.90" stroke="#262626" stroke-width="0.85" stroke-linecap="round" />
<line x1="635.40" y1="552.96" x2="644.00" y2="557.92" stroke="#262626" stroke-width="0.85" stroke-linecap="round" />
<line x1="647.29" y1="556.90" x2="647.29" y2="571.50" stroke="#262626" stroke-width="0.85" stroke-linecap="round" />
<line x1="647.29" y1="571.50" x2="634.64" y2="578.80" stroke="#262626" stroke-width="0.85" stroke-linecap="round" />
<line x1="644.00" y1="570.48" x2="635.40" y2="575.44" stroke="#262626" stroke-width="0.85" stroke-linecap="round" />
<line x1="634.64" y1="578.80" x2="622.00" y2="571.50" stroke="#262626" stroke-width="0.85" stroke-linecap="round" />
<line x1="622.00" y1="571.50" x2="622.00" y2="556.90" stroke="#262626" stroke-width="0.85" stroke-linecap="round" />
<line x1="624.53" y1="569.16" x2="624.53" y2="559.24" stroke="#262626" stroke-width="0.85" stroke-linecap="round" />
<line x1="622.00" y1="556.90" x2="634.64" y2="549.60" stroke="#262626" stroke-width="0.85" stroke-linecap="round" />
<text x="598.80" y="546.20" class="sa" font-size="17.7" font-weight="normal" text-anchor="start" fill="#1c1c1c" >C11</text>
<text transform="translate(16.4,646.5) scale(0.91,1)" class="sa" font-size="23.2" font-weight="bold" fill="#000">C</text>
<text x="418.00" y="645.90" class="sa" font-size="17.7" font-weight="normal" text-anchor="middle" fill="#1c1c1c" >Tumor Lipid Ags</text>
<text x="68.90" y="669.60" class="sa" font-size="17.7" font-weight="normal" text-anchor="middle" fill="#1c1c1c" >iGb3</text>
<text x="307.50" y="669.60" class="sa" font-size="17.7" font-weight="normal" text-anchor="middle" fill="#1c1c1c" >GD3</text>
<text x="478.00" y="669.60" class="sa" font-size="17.7" font-weight="normal" text-anchor="middle" fill="#1c1c1c" >GM3</text>
<text x="627.40" y="669.60" class="sa" font-size="17.7" font-weight="normal" text-anchor="middle" fill="#1c1c1c"  dx="0.6 0.6">α-L-FucCer</text>
<text x="738.50" y="669.60" class="sa" font-size="17.7" font-weight="normal" text-anchor="middle" fill="#1c1c1c" >mLPA</text>
<line x1="70.10" y1="734.00" x2="59.88" y2="725.25" stroke="#262626" stroke-width="0.85" stroke-linecap="round" />
<line x1="58.75" y1="720.53" x2="64.60" y2="706.50" stroke="#262626" stroke-width="0.85" stroke-linecap="round" />
<line x1="64.60" y1="706.50" x2="65.20" y2="691.10" stroke="#262626" stroke-width="0.85" stroke-linecap="round" />
<polygon points="65.00,691.32 76.01,702.95 77.79,701.05 65.40,690.88" fill="#262626" stroke="none" stroke-width="0" stroke-linejoin="round" />
<line x1="77.01" y1="701.72" x2="70.79" y2="717.28" stroke="#262626" stroke-width="2.4" stroke-linecap="butt"/>
<polygon points="70.40,734.01 72.20,717.06 69.60,716.94 69.80,733.99" fill="#262626" stroke="none" stroke-width="0" stroke-linejoin="round" />
<text transform="translate(57.60,725.77) scale(0.092,0.1)" class="se" font-size="70.2" font-weight="bold" text-anchor="middle" fill="#000" stroke="#000" stroke-width="0.6">O</text>
<line x1="65.20" y1="691.10" x2="53.98" y2="690.22" stroke="#262626" stroke-width="0.85" stroke-linecap="round" />
<text transform="translate(48.60,692.27) scale(0.092,0.1)" class="se" font-size="70.2" font-weight="bold" text-anchor="middle" fill="#000" stroke="#000" stroke-width="0.6">HO</text>
<line x1="76.90" y1="702.00" x2="78.72" y2="694.85" stroke="#262626" stroke-width="0.85" stroke-linecap="round" />
<text transform="translate(79.50,694.27) scale(0.092,0.1)" class="se" font-size="70.2" font-weight="bold" text-anchor="middle" fill="#000" stroke="#000" stroke-width="0.6">OH</text>
<line x1="70.90" y1="717.00" x2="77.35" y2="715.68" stroke="#262626" stroke-width="0.85" stroke-linecap="round" />
<text transform="translate(82.60,717.07) scale(0.092,0.1)" class="se" font-size="70.2" font-weight="bold" text-anchor="middle" fill="#000" stroke="#000" stroke-width="0.6">OH</text>
<line x1="64.60" y1="706.50" x2="54.70" y2="702.80" stroke="#262626" stroke-width="0.85" stroke-linecap="round" />
<line x1="54.70" y1="702.80" x2="45.69" y2="704.96" stroke="#262626" stroke-width="0.85" stroke-linecap="round" />
<text transform="translate(40.50,708.67) scale(0.092,0.1)" class="se" font-size="70.2" font-weight="bold" text-anchor="middle" fill="#000" stroke="#000" stroke-width="0.6">HO</text>
<line x1="70.10" y1="734.00" x2="78.51" y2="738.17" stroke="#262626" stroke-width="0.85" stroke-linecap="round" />
<text transform="translate(81.20,741.97) scale(0.092,0.1)" class="se" font-size="70.2" font-weight="bold" text-anchor="middle" fill="#000" stroke="#000" stroke-width="0.6">O</text>
<line x1="79.40" y1="788.00" x2="68.82" y2="780.27" stroke="#262626" stroke-width="0.85" stroke-linecap="round" />
<line x1="67.34" y1="775.65" x2="72.00" y2="761.50" stroke="#262626" stroke-width="0.85" stroke-linecap="round" />
<line x1="72.00" y1="761.50" x2="69.50" y2="744.80" stroke="#262626" stroke-width="0.85" stroke-linecap="round" />
<polygon points="69.32,745.04 82.33,755.75 83.87,753.65 69.68,744.56" fill="#262626" stroke="none" stroke-width="0" stroke-linejoin="round" />
<line x1="83.18" y1="754.41" x2="78.72" y2="770.99" stroke="#262626" stroke-width="2.4" stroke-linecap="butt"/>
<polygon points="79.70,787.99 80.10,770.65 77.50,770.75 79.10,788.01" fill="#262626" stroke="none" stroke-width="0" stroke-linejoin="round" />
<text transform="translate(66.40,780.97) scale(0.092,0.1)" class="se" font-size="70.2" font-weight="bold" text-anchor="middle" fill="#000" stroke="#000" stroke-width="0.6">O</text>
<line x1="81.57" y1="742.48" x2="83.10" y2="754.70" stroke="#262626" stroke-width="0.85" stroke-linecap="round" />
<line x1="69.50" y1="744.80" x2="58.90" y2="744.60" stroke="#262626" stroke-width="0.85" stroke-linecap="round" />
<text transform="translate(53.50,746.97) scale(0.092,0.1)" class="se" font-size="70.2" font-weight="bold" text-anchor="middle" fill="#000" stroke="#000" stroke-width="0.6">HO</text>
<line x1="78.80" y1="770.70" x2="85.69" y2="768.40" stroke="#262626" stroke-width="0.85" stroke-linecap="round" />
<text transform="translate(89.90,769.47) scale(0.092,0.1)" class="se" font-size="70.2" font-weight="bold" text-anchor="middle" fill="#000" stroke="#000" stroke-width="0.6">OH</text>
<line x1="72.00" y1="761.50" x2="61.50" y2="758.40" stroke="#262626" stroke-width="0.85" stroke-linecap="round" />
<line x1="61.50" y1="758.40" x2="52.29" y2="761.58" stroke="#262626" stroke-width="0.85" stroke-linecap="round" />
<text transform="translate(47.30,765.77) scale(0.092,0.1)" class="se" font-size="70.2" font-weight="bold" text-anchor="middle" fill="#000" stroke="#000" stroke-width="0.6">HO</text>
<line x1="79.40" y1="788.00" x2="74.08" y2="793.54" stroke="#262626" stroke-width="0.85" stroke-linecap="round" />
<text transform="translate(72.00,798.17) scale(0.092,0.1)" class="se" font-size="70.2" font-weight="bold" text-anchor="middle" fill="#000" stroke="#000" stroke-width="0.6">O</text>
<line x1="93.20" y1="844.30" x2="79.77" y2="840.26" stroke="#262626" stroke-width="0.85" stroke-linecap="round" />
<line x1="77.01" y1="836.40" x2="77.50" y2="822.30" stroke="#262626" stroke-width="0.85" stroke-linecap="round" />
<line x1="77.50" y1="822.30" x2="71.40" y2="806.70" stroke="#262626" stroke-width="0.85" stroke-linecap="round" />
<polygon points="71.30,806.98 86.57,813.43 87.43,810.97 71.50,806.42" fill="#262626" stroke="none" stroke-width="0" stroke-linejoin="round" />
<line x1="87.01" y1="811.90" x2="86.49" y2="829.80" stroke="#262626" stroke-width="2.4" stroke-linecap="butt"/>
<polygon points="93.47,844.18 87.68,828.96 85.32,830.04 92.93,844.42" fill="#262626" stroke="none" stroke-width="0" stroke-linejoin="round" />
<text transform="translate(76.90,841.87) scale(0.092,0.1)" class="se" font-size="70.2" font-weight="bold" text-anchor="middle" fill="#000" stroke="#000" stroke-width="0.6">O</text>
<line x1="71.84" y1="798.70" x2="71.40" y2="806.70" stroke="#262626" stroke-width="0.85" stroke-linecap="round" />
<line x1="87.00" y1="812.20" x2="82.13" y2="805.38" stroke="#262626" stroke-width="0.85" stroke-linecap="round" />
<text transform="translate(80.00,804.87) scale(0.092,0.1)" class="se" font-size="70.2" font-weight="bold" text-anchor="middle" fill="#000" stroke="#000" stroke-width="0.6">HO</text>
<line x1="86.50" y1="829.50" x2="93.14" y2="825.08" stroke="#262626" stroke-width="0.85" stroke-linecap="round" />
<text transform="translate(96.70,825.17) scale(0.092,0.1)" class="se" font-size="70.2" font-weight="bold" text-anchor="middle" fill="#000" stroke="#000" stroke-width="0.6">OH</text>
<line x1="77.50" y1="822.30" x2="67.00" y2="821.50" stroke="#262626" stroke-width="0.85" stroke-linecap="round" />
<line x1="67.00" y1="821.50" x2="60.24" y2="823.98" stroke="#262626" stroke-width="0.85" stroke-linecap="round" />
<text transform="translate(55.30,828.27) scale(0.092,0.1)" class="se" font-size="70.2" font-weight="bold" text-anchor="middle" fill="#000" stroke="#000" stroke-width="0.6">HO</text>
<line x1="93.20" y1="844.30" x2="86.74" y2="860.03" stroke="#262626" stroke-width="0.85" stroke-linecap="round" />
<text transform="translate(85.60,865.27) scale(0.092,0.1)" class="se" font-size="70.2" font-weight="bold" text-anchor="middle" fill="#000" stroke="#000" stroke-width="0.6">O</text>
<line x1="87.02" y1="865.67" x2="91.30" y2="874.30" stroke="#262626" stroke-width="0.85" stroke-linecap="round" />
<polyline points="91.30,874.30 85.10,884.70 91.30,895.00 85.10,905.00" fill="none" stroke="#262626" stroke-width="0.85" stroke-linejoin="round" stroke-linecap="round" />
<line x1="85.10" y1="884.70" x2="76.40" y2="884.70" stroke="#262626" stroke-width="0.85" stroke-linecap="round" />
<text transform="translate(71.00,887.11) scale(0.095,0.1)" class="se" font-size="68.4" font-weight="normal" text-anchor="middle" fill="#000" stroke="#000" stroke-width="0.6">HN</text>
<line x1="70.70" y1="887.80" x2="67.80" y2="895.00" stroke="#262626" stroke-width="0.85" stroke-linecap="round" />
<line x1="67.80" y1="893.70" x2="58.20" y2="893.70" stroke="#262626" stroke-width="0.85" stroke-linecap="round" />
<line x1="67.80" y1="896.30" x2="58.20" y2="896.30" stroke="#262626" stroke-width="0.85" stroke-linecap="round" />
<text transform="translate(55.00,897.41) scale(0.095,0.1)" class="se" font-size="68.4" font-weight="normal" text-anchor="middle" fill="#000" stroke="#000" stroke-width="0.6">O</text>
<line x1="91.30" y1="895.00" x2="100.00" y2="895.00" stroke="#262626" stroke-width="0.85" stroke-linecap="round" />
<text transform="translate(105.40,897.41) scale(0.095,0.1)" class="se" font-size="68.4" font-weight="normal" text-anchor="middle" fill="#000" stroke="#000" stroke-width="0.6">OH</text>
<line x1="85.10" y1="905.00" x2="91.30" y2="914.80" stroke="#262626" stroke-width="0.85" stroke-linecap="round" />
<line x1="87.10" y1="906.00" x2="92.30" y2="912.60" stroke="#262626" stroke-width="0.85" stroke-linecap="round" />
<polyline points="67.80,895.00 73.80,904.55 67.80,914.11 73.80,923.66 67.80,933.21 73.80,942.77 67.80,952.32 73.80,961.87 67.80,971.43 73.80,980.98 67.80,990.53 73.80,1000.09 67.80,1009.64 73.80,1019.19 67.80,1028.75 73.80,1038.30" fill="none" stroke="#262626" stroke-width="0.85" stroke-linejoin="round" stroke-linecap="round" />
<polyline points="91.30,914.80 85.10,924.30 91.30,933.80 85.10,943.30 91.30,952.80 85.10,962.30 91.30,971.80 85.10,981.30 91.30,990.80 85.10,1000.30 91.30,1009.80 85.10,1019.30 91.30,1028.80 85.10,1038.30" fill="none" stroke="#262626" stroke-width="0.85" stroke-linejoin="round" stroke-linecap="round" />
<line x1="170.50" y1="719.50" x2="185.61" y2="723.61" stroke="#f53ce0" stroke-width="0.85" stroke-linecap="round" />
<line x1="191.39" y1="723.60" x2="204.30" y2="720.00" stroke="#f53ce0" stroke-width="0.85" stroke-linecap="round" />
<line x1="163.80" y1="734.80" x2="170.50" y2="719.50" stroke="#f53ce0" stroke-width="0.85" stroke-linecap="round" />
<polygon points="163.86,735.09 179.87,732.67 179.33,730.13 163.74,734.51" fill="#f53ce0" stroke="none" stroke-width="0" stroke-linejoin="round" />
<line x1="179.31" y1="731.34" x2="197.99" y2="734.86" stroke="#f53ce0" stroke-width="2.4" stroke-linecap="butt"/>
<polygon points="204.03,719.88 196.51,734.27 198.89,735.33 204.57,720.12" fill="#f53ce0" stroke="none" stroke-width="0" stroke-linejoin="round" />
<text x="188.50" y="726.70" class="sa" font-size="6.6" text-anchor="middle" fill="#f53ce0" stroke="#f53ce0" stroke-width="0.15">O</text>
<line x1="163.80" y1="734.80" x2="155.99" y2="731.71" stroke="#f53ce0" stroke-width="0.85" stroke-linecap="round" />
<text x="153.20" y="732.90" class="sa" font-size="6.6" text-anchor="middle" fill="#f53ce0" stroke="#f53ce0" stroke-width="0.15">N</text>
<text x="153.20" y="727.30" class="sa" font-size="6.6" text-anchor="middle" fill="#f53ce0" stroke="#f53ce0" stroke-width="0.15">H</text>
<line x1="150.60" y1="732.10" x2="141.60" y2="737.30" stroke="#f53ce0" stroke-width="0.85" stroke-linecap="round" />
<line x1="142.12" y1="736.11" x2="133.65" y2="732.39" stroke="#f53ce0" stroke-width="0.85" stroke-linecap="round" />
<line x1="141.08" y1="738.49" x2="132.61" y2="734.78" stroke="#f53ce0" stroke-width="0.85" stroke-linecap="round" />
<text x="130.20" y="734.60" class="sa" font-size="6.6" text-anchor="middle" fill="#f53ce0" stroke="#f53ce0" stroke-width="0.15">O</text>
<line x1="141.60" y1="737.30" x2="137.70" y2="747.90" stroke="#f53ce0" stroke-width="0.85" stroke-linecap="round" />
<line x1="179.60" y1="731.40" x2="171.55" y2="737.09" stroke="#f53ce0" stroke-width="0.85" stroke-linecap="round" />
<text x="168.00" y="741.90" class="sa" font-size="6.6" text-anchor="middle" fill="#f53ce0" stroke="#f53ce0" stroke-width="0.15">HO</text>
<line x1="170.50" y1="719.50" x2="167.30" y2="708.40" stroke="#f53ce0" stroke-width="0.85" stroke-linecap="round" />
<line x1="167.30" y1="708.40" x2="154.40" y2="705.90" stroke="#f53ce0" stroke-width="0.85" stroke-linecap="round" />
<line x1="154.40" y1="705.90" x2="148.30" y2="695.30" stroke="#f53ce0" stroke-width="0.85" stroke-linecap="round" />
<polygon points="167.53,708.60 174.80,701.50 172.98,699.94 167.07,708.20" fill="#f53ce0" stroke="none" stroke-width="0" stroke-linejoin="round" />
<text x="176.40" y="700.10" class="sa" font-size="6.6" text-anchor="middle" fill="#f53ce0" stroke="#f53ce0" stroke-width="0.15">OH</text>
<polygon points="154.18,705.69 145.12,713.86 146.86,715.52 154.62,706.11" fill="#f53ce0" stroke="none" stroke-width="0" stroke-linejoin="round" />
<text x="143.30" y="719.80" class="sa" font-size="6.6" text-anchor="middle" fill="#f53ce0" stroke="#f53ce0" stroke-width="0.15">HO</text>
<line x1="148.30" y1="695.30" x2="138.25" y2="694.21" stroke="#f53ce0" stroke-width="0.85" stroke-linecap="round" />
<text x="132.70" y="695.90" class="sa" font-size="6.6" text-anchor="middle" fill="#f53ce0" stroke="#f53ce0" stroke-width="0.15">HO</text>
<line x1="204.30" y1="720.00" x2="204.30" y2="705.90" stroke="#f53ce0" stroke-width="0.85" stroke-linecap="round" />
<line x1="204.95" y1="704.77" x2="197.82" y2="700.67" stroke="#f53ce0" stroke-width="0.85" stroke-linecap="round" />
<line x1="203.65" y1="707.03" x2="196.52" y2="702.92" stroke="#f53ce0" stroke-width="0.85" stroke-linecap="round" />
<text x="194.40" y="702.50" class="sa" font-size="6.6" text-anchor="middle" fill="#f53ce0" stroke="#f53ce0" stroke-width="0.15">O</text>
<line x1="204.30" y1="705.90" x2="212.55" y2="701.66" stroke="#f53ce0" stroke-width="0.85" stroke-linecap="round" />
<text x="215.40" y="702.50" class="sa" font-size="6.6" text-anchor="middle" fill="#f53ce0" stroke="#f53ce0" stroke-width="0.15">O</text>
<text x="219.00" y="699.60" class="sa" font-size="6" text-anchor="middle" fill="#f53ce0">-</text>
<line x1="255.70" y1="747.90" x2="270.81" y2="752.01" stroke="#f53ce0" stroke-width="0.85" stroke-linecap="round" />
<line x1="276.59" y1="752.00" x2="289.50" y2="748.40" stroke="#f53ce0" stroke-width="0.85" stroke-linecap="round" />
<line x1="249.00" y1="763.20" x2="255.70" y2="747.90" stroke="#f53ce0" stroke-width="0.85" stroke-linecap="round" />
<polygon points="249.06,763.49 265.07,761.07 264.53,758.53 248.94,762.91" fill="#f53ce0" stroke="none" stroke-width="0" stroke-linejoin="round" />
<line x1="264.51" y1="759.74" x2="283.19" y2="763.26" stroke="#f53ce0" stroke-width="2.4" stroke-linecap="butt"/>
<polygon points="289.23,748.28 281.71,762.67 284.09,763.73 289.77,748.52" fill="#f53ce0" stroke="none" stroke-width="0" stroke-linejoin="round" />
<text x="273.70" y="755.10" class="sa" font-size="6.6" text-anchor="middle" fill="#f53ce0" stroke="#f53ce0" stroke-width="0.15">O</text>
<line x1="249.00" y1="763.20" x2="241.19" y2="760.11" stroke="#f53ce0" stroke-width="0.85" stroke-linecap="round" />
<text x="238.40" y="761.30" class="sa" font-size="6.6" text-anchor="middle" fill="#f53ce0" stroke="#f53ce0" stroke-width="0.15">N</text>
<text x="238.40" y="755.70" class="sa" font-size="6.6" text-anchor="middle" fill="#f53ce0" stroke="#f53ce0" stroke-width="0.15">H</text>
<line x1="235.80" y1="760.50" x2="226.80" y2="765.70" stroke="#f53ce0" stroke-width="0.85" stroke-linecap="round" />
<line x1="227.32" y1="764.51" x2="218.85" y2="760.79" stroke="#f53ce0" stroke-width="0.85" stroke-linecap="round" />
<line x1="226.28" y1="766.89" x2="217.81" y2="763.18" stroke="#f53ce0" stroke-width="0.85" stroke-linecap="round" />
<text x="215.40" y="763.00" class="sa" font-size="6.6" text-anchor="middle" fill="#f53ce0" stroke="#f53ce0" stroke-width="0.15">O</text>
<line x1="226.80" y1="765.70" x2="222.90" y2="776.30" stroke="#f53ce0" stroke-width="0.85" stroke-linecap="round" />
<line x1="264.80" y1="759.80" x2="256.75" y2="765.49" stroke="#f53ce0" stroke-width="0.85" stroke-linecap="round" />
<text x="253.20" y="770.30" class="sa" font-size="6.6" text-anchor="middle" fill="#f53ce0" stroke="#f53ce0" stroke-width="0.15">HO</text>
<line x1="255.70" y1="747.90" x2="252.50" y2="736.80" stroke="#f53ce0" stroke-width="0.85" stroke-linecap="round" />
<line x1="252.50" y1="736.80" x2="239.60" y2="734.30" stroke="#f53ce0" stroke-width="0.85" stroke-linecap="round" />
<line x1="239.60" y1="734.30" x2="233.50" y2="723.70" stroke="#f53ce0" stroke-width="0.85" stroke-linecap="round" />
<polygon points="252.73,737.00 260.00,729.90 258.18,728.34 252.27,736.60" fill="#f53ce0" stroke="none" stroke-width="0" stroke-linejoin="round" />
<text x="261.60" y="728.50" class="sa" font-size="6.6" text-anchor="middle" fill="#f53ce0" stroke="#f53ce0" stroke-width="0.15">OH</text>
<polygon points="239.38,734.09 230.32,742.26 232.06,743.92 239.82,734.51" fill="#f53ce0" stroke="none" stroke-width="0" stroke-linejoin="round" />
<text x="228.50" y="748.20" class="sa" font-size="6.6" text-anchor="middle" fill="#f53ce0" stroke="#f53ce0" stroke-width="0.15">HO</text>
<line x1="289.50" y1="748.40" x2="289.50" y2="734.30" stroke="#f53ce0" stroke-width="0.85" stroke-linecap="round" />
<line x1="290.15" y1="733.17" x2="283.02" y2="729.07" stroke="#f53ce0" stroke-width="0.85" stroke-linecap="round" />
<line x1="288.85" y1="735.43" x2="281.72" y2="731.32" stroke="#f53ce0" stroke-width="0.85" stroke-linecap="round" />
<text x="279.60" y="730.90" class="sa" font-size="6.6" text-anchor="middle" fill="#f53ce0" stroke="#f53ce0" stroke-width="0.15">O</text>
<line x1="289.50" y1="734.30" x2="297.75" y2="730.06" stroke="#f53ce0" stroke-width="0.85" stroke-linecap="round" />
<text x="300.60" y="730.90" class="sa" font-size="6.6" text-anchor="middle" fill="#f53ce0" stroke="#f53ce0" stroke-width="0.15">O</text>
<text x="304.20" y="728.00" class="sa" font-size="6" text-anchor="middle" fill="#f53ce0">-</text>
<line x1="204.30" y1="720.00" x2="215.51" y2="726.58" stroke="#f53ce0" stroke-width="0.85" stroke-linecap="round" />
<text x="218.10" y="730.40" class="sa" font-size="6.6" text-anchor="middle" fill="#f53ce0" stroke="#f53ce0" stroke-width="0.15">O</text>
<line x1="220.98" y1="727.28" x2="233.50" y2="723.70" stroke="#f53ce0" stroke-width="0.85" stroke-linecap="round" />
<line x1="324.50" y1="791.80" x2="331.40" y2="780.84" stroke="#262626" stroke-width="0.85" stroke-linecap="round" />
<line x1="331.26" y1="775.85" x2="323.00" y2="764.20" stroke="#262626" stroke-width="0.85" stroke-linecap="round" />
<line x1="323.00" y1="764.20" x2="318.20" y2="749.00" stroke="#262626" stroke-width="0.85" stroke-linecap="round" />
<polygon points="317.95,748.84 308.90,761.31 311.10,762.69 318.45,749.16" fill="#262626" stroke="none" stroke-width="0" stroke-linejoin="round" />
<line x1="309.83" y1="761.75" x2="319.17" y2="775.75" stroke="#262626" stroke-width="2.4" stroke-linecap="butt"/>
<polygon points="324.78,791.70 320.23,775.08 317.77,775.92 324.22,791.90" fill="#262626" stroke="none" stroke-width="0" stroke-linejoin="round" />
<text transform="translate(333.00,780.77) scale(0.092,0.1)" class="se" font-size="70.2" font-weight="bold" text-anchor="middle" fill="#000" stroke="#000" stroke-width="0.6">O</text>
<line x1="318.20" y1="749.00" x2="327.80" y2="748.81" stroke="#262626" stroke-width="0.85" stroke-linecap="round" />
<text transform="translate(333.20,751.17) scale(0.092,0.1)" class="se" font-size="70.2" font-weight="bold" text-anchor="middle" fill="#000" stroke="#000" stroke-width="0.6">OH</text>
<line x1="319.00" y1="775.50" x2="311.90" y2="775.50" stroke="#262626" stroke-width="0.85" stroke-linecap="round" />
<text transform="translate(306.50,777.97) scale(0.092,0.1)" class="se" font-size="70.2" font-weight="bold" text-anchor="middle" fill="#000" stroke="#000" stroke-width="0.6">HO</text>
<line x1="323.00" y1="764.20" x2="332.80" y2="758.60" stroke="#262626" stroke-width="0.85" stroke-linecap="round" />
<line x1="332.80" y1="758.60" x2="339.20" y2="758.60" stroke="#262626" stroke-width="0.85" stroke-linecap="round" />
<text transform="translate(344.60,761.07) scale(0.092,0.1)" class="se" font-size="70.2" font-weight="bold" text-anchor="middle" fill="#000" stroke="#000" stroke-width="0.6">OH</text>
<line x1="324.50" y1="791.80" x2="329.02" y2="796.95" stroke="#262626" stroke-width="0.85" stroke-linecap="round" />
<text transform="translate(331.00,801.67) scale(0.092,0.1)" class="se" font-size="70.2" font-weight="bold" text-anchor="middle" fill="#000" stroke="#000" stroke-width="0.6">O</text>
<line x1="331.59" y1="802.14" x2="333.20" y2="810.20" stroke="#262626" stroke-width="0.85" stroke-linecap="round" />
<line x1="312.70" y1="849.80" x2="326.03" y2="844.25" stroke="#262626" stroke-width="0.85" stroke-linecap="round" />
<line x1="328.47" y1="840.12" x2="326.80" y2="825.10" stroke="#262626" stroke-width="0.85" stroke-linecap="round" />
<line x1="326.80" y1="825.10" x2="333.20" y2="810.20" stroke="#262626" stroke-width="0.85" stroke-linecap="round" />
<polygon points="333.08,809.93 317.86,815.72 318.94,818.08 333.32,810.47" fill="#262626" stroke="none" stroke-width="0" stroke-linejoin="round" />
<line x1="318.41" y1="816.60" x2="317.69" y2="834.00" stroke="#262626" stroke-width="2.4" stroke-linecap="butt"/>
<polygon points="312.99,849.89 318.94,834.09 316.46,833.31 312.41,849.71" fill="#262626" stroke="none" stroke-width="0" stroke-linejoin="round" />
<text transform="translate(328.80,845.57) scale(0.092,0.1)" class="se" font-size="70.2" font-weight="bold" text-anchor="middle" fill="#000" stroke="#000" stroke-width="0.6">O</text>
<line x1="318.40" y1="816.90" x2="321.32" y2="810.02" stroke="#262626" stroke-width="0.85" stroke-linecap="round" />
<text transform="translate(322.60,809.47) scale(0.092,0.1)" class="se" font-size="70.2" font-weight="bold" text-anchor="middle" fill="#000" stroke="#000" stroke-width="0.6">OH</text>
<line x1="317.70" y1="833.70" x2="311.24" y2="829.54" stroke="#262626" stroke-width="0.85" stroke-linecap="round" />
<text transform="translate(307.00,829.27) scale(0.092,0.1)" class="se" font-size="70.2" font-weight="bold" text-anchor="middle" fill="#000" stroke="#000" stroke-width="0.6">HO</text>
<line x1="326.80" y1="825.10" x2="338.60" y2="823.80" stroke="#262626" stroke-width="0.85" stroke-linecap="round" />
<line x1="338.60" y1="823.80" x2="344.33" y2="826.55" stroke="#262626" stroke-width="0.85" stroke-linecap="round" />
<text transform="translate(349.00,831.27) scale(0.092,0.1)" class="se" font-size="70.2" font-weight="bold" text-anchor="middle" fill="#000" stroke="#000" stroke-width="0.6">OH</text>
<line x1="312.70" y1="849.80" x2="315.19" y2="859.99" stroke="#262626" stroke-width="0.85" stroke-linecap="round" />
<text transform="translate(315.90,865.37) scale(0.092,0.1)" class="se" font-size="70.2" font-weight="bold" text-anchor="middle" fill="#000" stroke="#000" stroke-width="0.6">O</text>
<line x1="317.52" y1="865.66" x2="322.60" y2="874.30" stroke="#262626" stroke-width="0.85" stroke-linecap="round" />
<polyline points="322.60,874.30 316.40,884.70 322.60,895.00 316.40,905.00" fill="none" stroke="#262626" stroke-width="0.85" stroke-linejoin="round" stroke-linecap="round" />
<line x1="316.40" y1="884.70" x2="307.70" y2="884.70" stroke="#262626" stroke-width="0.85" stroke-linecap="round" />
<text transform="translate(302.30,887.11) scale(0.095,0.1)" class="se" font-size="68.4" font-weight="normal" text-anchor="middle" fill="#000" stroke="#000" stroke-width="0.6">HN</text>
<line x1="302.00" y1="887.80" x2="299.10" y2="895.00" stroke="#262626" stroke-width="0.85" stroke-linecap="round" />
<line x1="299.10" y1="893.70" x2="289.50" y2="893.70" stroke="#262626" stroke-width="0.85" stroke-linecap="round" />
<line x1="299.10" y1="896.30" x2="289.50" y2="896.30" stroke="#262626" stroke-width="0.85" stroke-linecap="round" />
<text transform="translate(286.30,897.41) scale(0.095,0.1)" class="se" font-size="68.4" font-weight="normal" text-anchor="middle" fill="#000" stroke="#000" stroke-width="0.6">O</text>
<line x1="322.60" y1="895.00" x2="331.30" y2="895.00" stroke="#262626" stroke-width="0.85" stroke-linecap="round" />
<text transform="translate(336.70,897.41) scale(0.095,0.1)" class="se" font-size="68.4" font-weight="normal" text-anchor="middle" fill="#000" stroke="#000" stroke-width="0.6">OH</text>
<line x1="316.40" y1="905.00" x2="322.60" y2="914.80" stroke="#262626" stroke-width="0.85" stroke-linecap="round" />
<line x1="318.40" y1="906.00" x2="323.60" y2="912.60" stroke="#262626" stroke-width="0.85" stroke-linecap="round" />
<polyline points="299.10,895.00 305.10,904.55 299.10,914.11 305.10,923.66 299.10,933.21 305.10,942.77 299.10,952.32 305.10,961.87 299.10,971.43 305.10,980.98 299.10,990.53 305.10,1000.09 299.10,1009.64 305.10,1019.19 299.10,1028.75 305.10,1038.30" fill="none" stroke="#262626" stroke-width="0.85" stroke-linejoin="round" stroke-linecap="round" />
<polyline points="322.60,914.80 316.40,924.30 322.60,933.80 316.40,943.30 322.60,952.80 316.40,962.30 322.60,971.80 316.40,981.30 322.60,990.80 316.40,1000.30 322.60,1009.80 316.40,1019.30 322.60,1028.80 316.40,1038.30" fill="none" stroke="#262626" stroke-width="0.85" stroke-linejoin="round" stroke-linecap="round" />
<line x1="289.50" y1="748.40" x2="300.22" y2="751.55" stroke="#f53ce0" stroke-width="0.85" stroke-linecap="round" />
<text transform="translate(303.10,754.87) scale(0.092,0.1)" class="se" font-size="70.2" font-weight="bold" text-anchor="middle" fill="#000" stroke="#000" stroke-width="0.6">O</text>
<line x1="304.85" y1="754.84" x2="310.00" y2="762.00" stroke="#262626" stroke-width="0.85" stroke-linecap="round" />
<line x1="428.40" y1="748.50" x2="443.51" y2="752.61" stroke="#f53ce0" stroke-width="0.85" stroke-linecap="round" />
<line x1="449.29" y1="752.60" x2="462.20" y2="749.00" stroke="#f53ce0" stroke-width="0.85" stroke-linecap="round" />
<line x1="421.70" y1="763.80" x2="428.40" y2="748.50" stroke="#f53ce0" stroke-width="0.85" stroke-linecap="round" />
<polygon points="421.76,764.09 437.77,761.67 437.23,759.13 421.64,763.51" fill="#f53ce0" stroke="none" stroke-width="0" stroke-linejoin="round" />
<line x1="437.21" y1="760.34" x2="455.89" y2="763.86" stroke="#f53ce0" stroke-width="2.4" stroke-linecap="butt"/>
<polygon points="461.93,748.88 454.41,763.27 456.79,764.33 462.47,749.12" fill="#f53ce0" stroke="none" stroke-width="0" stroke-linejoin="round" />
<text x="446.40" y="755.70" class="sa" font-size="6.6" text-anchor="middle" fill="#f53ce0" stroke="#f53ce0" stroke-width="0.15">O</text>
<line x1="421.70" y1="763.80" x2="413.89" y2="760.71" stroke="#f53ce0" stroke-width="0.85" stroke-linecap="round" />
<text x="411.10" y="761.90" class="sa" font-size="6.6" text-anchor="middle" fill="#f53ce0" stroke="#f53ce0" stroke-width="0.15">N</text>
<text x="411.10" y="756.30" class="sa" font-size="6.6" text-anchor="middle" fill="#f53ce0" stroke="#f53ce0" stroke-width="0.15">H</text>
<line x1="408.50" y1="761.10" x2="399.50" y2="766.30" stroke="#f53ce0" stroke-width="0.85" stroke-linecap="round" />
<line x1="400.02" y1="765.11" x2="391.55" y2="761.39" stroke="#f53ce0" stroke-width="0.85" stroke-linecap="round" />
<line x1="398.98" y1="767.49" x2="390.51" y2="763.78" stroke="#f53ce0" stroke-width="0.85" stroke-linecap="round" />
<text x="388.10" y="763.60" class="sa" font-size="6.6" text-anchor="middle" fill="#f53ce0" stroke="#f53ce0" stroke-width="0.15">O</text>
<line x1="399.50" y1="766.30" x2="395.60" y2="776.90" stroke="#f53ce0" stroke-width="0.85" stroke-linecap="round" />
<line x1="437.50" y1="760.40" x2="429.45" y2="766.09" stroke="#f53ce0" stroke-width="0.85" stroke-linecap="round" />
<text x="425.90" y="770.90" class="sa" font-size="6.6" text-anchor="middle" fill="#f53ce0" stroke="#f53ce0" stroke-width="0.15">HO</text>
<line x1="428.40" y1="748.50" x2="425.20" y2="737.40" stroke="#f53ce0" stroke-width="0.85" stroke-linecap="round" />
<line x1="425.20" y1="737.40" x2="412.30" y2="734.90" stroke="#f53ce0" stroke-width="0.85" stroke-linecap="round" />
<line x1="412.30" y1="734.90" x2="406.20" y2="724.30" stroke="#f53ce0" stroke-width="0.85" stroke-linecap="round" />
<polygon points="425.43,737.60 432.70,730.50 430.88,728.94 424.97,737.20" fill="#f53ce0" stroke="none" stroke-width="0" stroke-linejoin="round" />
<text x="434.30" y="729.10" class="sa" font-size="6.6" text-anchor="middle" fill="#f53ce0" stroke="#f53ce0" stroke-width="0.15">OH</text>
<polygon points="412.08,734.69 403.02,742.86 404.76,744.52 412.52,735.11" fill="#f53ce0" stroke="none" stroke-width="0" stroke-linejoin="round" />
<text x="401.20" y="748.80" class="sa" font-size="6.6" text-anchor="middle" fill="#f53ce0" stroke="#f53ce0" stroke-width="0.15">HO</text>
<line x1="406.20" y1="724.30" x2="396.15" y2="723.21" stroke="#f53ce0" stroke-width="0.85" stroke-linecap="round" />
<text x="390.60" y="724.90" class="sa" font-size="6.6" text-anchor="middle" fill="#f53ce0" stroke="#f53ce0" stroke-width="0.15">HO</text>
<line x1="462.20" y1="749.00" x2="462.20" y2="734.90" stroke="#f53ce0" stroke-width="0.85" stroke-linecap="round" />
<line x1="462.85" y1="733.77" x2="455.72" y2="729.67" stroke="#f53ce0" stroke-width="0.85" stroke-linecap="round" />
<line x1="461.55" y1="736.03" x2="454.42" y2="731.92" stroke="#f53ce0" stroke-width="0.85" stroke-linecap="round" />
<text x="452.30" y="731.50" class="sa" font-size="6.6" text-anchor="middle" fill="#f53ce0" stroke="#f53ce0" stroke-width="0.15">O</text>
<line x1="462.20" y1="734.90" x2="470.45" y2="730.66" stroke="#f53ce0" stroke-width="0.85" stroke-linecap="round" />
<text x="473.30" y="731.50" class="sa" font-size="6.6" text-anchor="middle" fill="#f53ce0" stroke="#f53ce0" stroke-width="0.15">O</text>
<text x="476.90" y="728.60" class="sa" font-size="6" text-anchor="middle" fill="#f53ce0">-</text>
<line x1="497.20" y1="791.80" x2="504.10" y2="780.84" stroke="#262626" stroke-width="0.85" stroke-linecap="round" />
<line x1="503.96" y1="775.85" x2="495.70" y2="764.20" stroke="#262626" stroke-width="0.85" stroke-linecap="round" />
<line x1="495.70" y1="764.20" x2="490.90" y2="749.00" stroke="#262626" stroke-width="0.85" stroke-linecap="round" />
<polygon points="490.65,748.84 481.60,761.31 483.80,762.69 491.15,749.16" fill="#262626" stroke="none" stroke-width="0" stroke-linejoin="round" />
<line x1="482.53" y1="761.75" x2="491.87" y2="775.75" stroke="#262626" stroke-width="2.4" stroke-linecap="butt"/>
<polygon points="497.48,791.70 492.93,775.08 490.47,775.92 496.92,791.90" fill="#262626" stroke="none" stroke-width="0" stroke-linejoin="round" />
<text transform="translate(505.70,780.77) scale(0.092,0.1)" class="se" font-size="70.2" font-weight="bold" text-anchor="middle" fill="#000" stroke="#000" stroke-width="0.6">O</text>
<line x1="490.90" y1="749.00" x2="500.50" y2="748.81" stroke="#262626" stroke-width="0.85" stroke-linecap="round" />
<text transform="translate(505.90,751.17) scale(0.092,0.1)" class="se" font-size="70.2" font-weight="bold" text-anchor="middle" fill="#000" stroke="#000" stroke-width="0.6">OH</text>
<line x1="491.70" y1="775.50" x2="484.60" y2="775.50" stroke="#262626" stroke-width="0.85" stroke-linecap="round" />
<text transform="translate(479.20,777.97) scale(0.092,0.1)" class="se" font-size="70.2" font-weight="bold" text-anchor="middle" fill="#000" stroke="#000" stroke-width="0.6">HO</text>
<line x1="495.70" y1="764.20" x2="505.50" y2="758.60" stroke="#262626" stroke-width="0.85" stroke-linecap="round" />
<line x1="505.50" y1="758.60" x2="511.90" y2="758.60" stroke="#262626" stroke-width="0.85" stroke-linecap="round" />
<text transform="translate(517.30,761.07) scale(0.092,0.1)" class="se" font-size="70.2" font-weight="bold" text-anchor="middle" fill="#000" stroke="#000" stroke-width="0.6">OH</text>
<line x1="497.20" y1="791.80" x2="501.72" y2="796.95" stroke="#262626" stroke-width="0.85" stroke-linecap="round" />
<text transform="translate(503.70,801.67) scale(0.092,0.1)" class="se" font-size="70.2" font-weight="bold" text-anchor="middle" fill="#000" stroke="#000" stroke-width="0.6">O</text>
<line x1="504.29" y1="802.14" x2="505.90" y2="810.20" stroke="#262626" stroke-width="0.85" stroke-linecap="round" />
<line x1="485.40" y1="849.80" x2="498.73" y2="844.25" stroke="#262626" stroke-width="0.85" stroke-linecap="round" />
<line x1="501.17" y1="840.12" x2="499.50" y2="825.10" stroke="#262626" stroke-width="0.85" stroke-linecap="round" />
<line x1="499.50" y1="825.10" x2="505.90" y2="810.20" stroke="#262626" stroke-width="0.85" stroke-linecap="round" />
<polygon points="505.78,809.93 490.56,815.72 491.64,818.08 506.02,810.47" fill="#262626" stroke="none" stroke-width="0" stroke-linejoin="round" />
<line x1="491.11" y1="816.60" x2="490.39" y2="834.00" stroke="#262626" stroke-width="2.4" stroke-linecap="butt"/>
<polygon points="485.69,849.89 491.64,834.09 489.16,833.31 485.11,849.71" fill="#262626" stroke="none" stroke-width="0" stroke-linejoin="round" />
<text transform="translate(501.50,845.57) scale(0.092,0.1)" class="se" font-size="70.2" font-weight="bold" text-anchor="middle" fill="#000" stroke="#000" stroke-width="0.6">O</text>
<line x1="491.10" y1="816.90" x2="494.02" y2="810.02" stroke="#262626" stroke-width="0.85" stroke-linecap="round" />
<text transform="translate(495.30,809.47) scale(0.092,0.1)" class="se" font-size="70.2" font-weight="bold" text-anchor="middle" fill="#000" stroke="#000" stroke-width="0.6">OH</text>
<line x1="490.40" y1="833.70" x2="483.94" y2="829.54" stroke="#262626" stroke-width="0.85" stroke-linecap="round" />
<text transform="translate(479.70,829.27) scale(0.092,0.1)" class="se" font-size="70.2" font-weight="bold" text-anchor="middle" fill="#000" stroke="#000" stroke-width="0.6">HO</text>
<line x1="499.50" y1="825.10" x2="511.30" y2="823.80" stroke="#262626" stroke-width="0.85" stroke-linecap="round" />
<line x1="511.30" y1="823.80" x2="517.03" y2="826.55" stroke="#262626" stroke-width="0.85" stroke-linecap="round" />
<text transform="translate(521.70,831.27) scale(0.092,0.1)" class="se" font-size="70.2" font-weight="bold" text-anchor="middle" fill="#000" stroke="#000" stroke-width="0.6">OH</text>
<line x1="485.40" y1="849.80" x2="487.89" y2="859.99" stroke="#262626" stroke-width="0.85" stroke-linecap="round" />
<text transform="translate(488.60,865.37) scale(0.092,0.1)" class="se" font-size="70.2" font-weight="bold" text-anchor="middle" fill="#000" stroke="#000" stroke-width="0.6">O</text>
<line x1="490.22" y1="865.66" x2="495.30" y2="874.30" stroke="#262626" stroke-width="0.85" stroke-linecap="round" />
<polyline points="495.30,874.30 489.10,884.70 495.30,895.00 489.10,905.00" fill="none" stroke="#262626" stroke-width="0.85" stroke-linejoin="round" stroke-linecap="round" />
<line x1="489.10" y1="884.70" x2="480.40" y2="884.70" stroke="#262626" stroke-width="0.85" stroke-linecap="round" />
<text transform="translate(475.00,887.11) scale(0.095,0.1)" class="se" font-size="68.4" font-weight="normal" text-anchor="middle" fill="#000" stroke="#000" stroke-width="0.6">HN</text>
<line x1="474.70" y1="887.80" x2="471.80" y2="895.00" stroke="#262626" stroke-width="0.85" stroke-linecap="round" />
<line x1="471.80" y1="893.70" x2="462.20" y2="893.70" stroke="#262626" stroke-width="0.85" stroke-linecap="round" />
<line x1="471.80" y1="896.30" x2="462.20" y2="896.30" stroke="#262626" stroke-width="0.85" stroke-linecap="round" />
<text transform="translate(459.00,897.41) scale(0.095,0.1)" class="se" font-size="68.4" font-weight="normal" text-anchor="middle" fill="#000" stroke="#000" stroke-width="0.6">O</text>
<line x1="495.30" y1="895.00" x2="504.00" y2="895.00" stroke="#262626" stroke-width="0.85" stroke-linecap="round" />
<text transform="translate(509.40,897.41) scale(0.095,0.1)" class="se" font-size="68.4" font-weight="normal" text-anchor="middle" fill="#000" stroke="#000" stroke-width="0.6">OH</text>
<line x1="489.10" y1="905.00" x2="495.30" y2="914.80" stroke="#262626" stroke-width="0.85" stroke-linecap="round" />
<line x1="491.10" y1="906.00" x2="496.30" y2="912.60" stroke="#262626" stroke-width="0.85" stroke-linecap="round" />
<polyline points="471.80,895.00 477.80,904.55 471.80,914.11 477.80,923.66 471.80,933.21 477.80,942.77 471.80,952.32 477.80,961.87 471.80,971.43 477.80,980.98 471.80,990.53 477.80,1000.09 471.80,1009.64 477.80,1019.19 471.80,1028.75 477.80,1038.30" fill="none" stroke="#262626" stroke-width="0.85" stroke-linejoin="round" stroke-linecap="round" />
<polyline points="495.30,914.80 489.10,924.30 495.30,933.80 489.10,943.30 495.30,952.80 489.10,962.30 495.30,971.80 489.10,981.30 495.30,990.80 489.10,1000.30 495.30,1009.80 489.10,1019.30 495.30,1028.80 489.10,1038.30" fill="none" stroke="#262626" stroke-width="0.85" stroke-linejoin="round" stroke-linecap="round" />
<line x1="462.20" y1="749.00" x2="472.89" y2="751.67" stroke="#f53ce0" stroke-width="0.85" stroke-linecap="round" />
<text transform="translate(475.80,754.87) scale(0.092,0.1)" class="se" font-size="70.2" font-weight="bold" text-anchor="middle" fill="#000" stroke="#000" stroke-width="0.6">O</text>
<line x1="477.55" y1="754.84" x2="482.70" y2="762.00" stroke="#262626" stroke-width="0.85" stroke-linecap="round" />
<line x1="627.60" y1="776.30" x2="622.64" y2="762.82" stroke="#262626" stroke-width="0.85" stroke-linecap="round" />
<line x1="621.95" y1="757.02" x2="623.70" y2="742.20" stroke="#262626" stroke-width="0.85" stroke-linecap="round" />
<line x1="623.70" y1="742.20" x2="610.40" y2="736.30" stroke="#262626" stroke-width="0.85" stroke-linecap="round" />
<polygon points="610.11,736.39 613.55,751.47 616.05,750.73 610.69,736.21" fill="#262626" stroke="none" stroke-width="0" stroke-linejoin="round" />
<line x1="614.84" y1="750.80" x2="612.66" y2="769.20" stroke="#262626" stroke-width="2.4" stroke-linecap="butt"/>
<polygon points="627.73,776.03 613.28,767.74 612.12,770.06 627.47,776.57" fill="#262626" stroke="none" stroke-width="0" stroke-linejoin="round" />
<text transform="translate(621.60,762.14) scale(0.095,0.1)" class="se" font-size="60.3" font-weight="normal" text-anchor="middle" fill="#000" stroke="#000" stroke-width="0.6">O</text>
<line x1="623.70" y1="742.20" x2="621.60" y2="732.40" stroke="#262626" stroke-width="0.85" stroke-linecap="round" />
<line x1="610.40" y1="736.30" x2="602.38" y2="735.76" stroke="#262626" stroke-width="0.85" stroke-linecap="round" />
<text transform="translate(597.00,737.54) scale(0.095,0.1)" class="se" font-size="60.3" font-weight="normal" text-anchor="middle" fill="#000" stroke="#000" stroke-width="0.6">HO</text>
<line x1="614.80" y1="751.10" x2="606.76" y2="747.52" stroke="#262626" stroke-width="0.85" stroke-linecap="round" />
<text transform="translate(602.00,747.54) scale(0.095,0.1)" class="se" font-size="60.3" font-weight="normal" text-anchor="middle" fill="#000" stroke="#000" stroke-width="0.6">HO</text>
<line x1="612.70" y1="768.90" x2="613.55" y2="776.72" stroke="#262626" stroke-width="0.85" stroke-linecap="round" />
<text transform="translate(613.90,782.04) scale(0.095,0.1)" class="se" font-size="60.3" font-weight="normal" text-anchor="middle" fill="#000" stroke="#000" stroke-width="0.6">OH</text>
<line x1="627.60" y1="776.30" x2="635.50" y2="776.30" stroke="#262626" stroke-width="0.85" stroke-linecap="round" />
<text transform="translate(638.50,778.44) scale(0.095,0.1)" class="se" font-size="60.3" font-weight="normal" text-anchor="middle" fill="#000" stroke="#000" stroke-width="0.6">O</text>
<line x1="637.02" y1="778.91" x2="632.60" y2="786.70" stroke="#262626" stroke-width="0.85" stroke-linecap="round" />
<polyline points="632.60,786.70 639.40,794.70 633.50,804.40 638.50,813.30" fill="none" stroke="#262626" stroke-width="0.85" stroke-linejoin="round" stroke-linecap="round" />
<line x1="640.73" y1="795.07" x2="640.73" y2="794.33" stroke="#262626" stroke-width="0.6" stroke-linecap="round" />
<line x1="643.38" y1="795.31" x2="643.38" y2="794.09" stroke="#262626" stroke-width="0.6" stroke-linecap="round" />
<line x1="646.02" y1="795.54" x2="646.02" y2="793.86" stroke="#262626" stroke-width="0.6" stroke-linecap="round" />
<line x1="648.67" y1="795.78" x2="648.67" y2="793.62" stroke="#262626" stroke-width="0.6" stroke-linecap="round" />
<text transform="translate(655.40,796.84) scale(0.095,0.1)" class="se" font-size="60.3" font-weight="normal" text-anchor="middle" fill="#000" stroke="#000" stroke-width="0.6">NH</text>
<polygon points="633.51,804.10 626.15,802.85 626.04,805.25 633.49,804.70" fill="#262626" stroke="none" stroke-width="0" stroke-linejoin="round" />
<text transform="translate(620.70,805.94) scale(0.095,0.1)" class="se" font-size="60.3" font-weight="normal" text-anchor="middle" fill="#000" stroke="#000" stroke-width="0.6">HO</text>
<line x1="639.33" y1="813.15" x2="638.90" y2="812.56" stroke="#262626" stroke-width="0.6" stroke-linecap="round" />
<line x1="640.71" y1="812.46" x2="640.00" y2="811.47" stroke="#262626" stroke-width="0.6" stroke-linecap="round" />
<line x1="642.08" y1="811.76" x2="641.10" y2="810.39" stroke="#262626" stroke-width="0.6" stroke-linecap="round" />
<line x1="643.46" y1="811.07" x2="642.19" y2="809.31" stroke="#262626" stroke-width="0.6" stroke-linecap="round" />
<text transform="translate(646.70,809.54) scale(0.095,0.1)" class="se" font-size="60.3" font-weight="normal" text-anchor="middle" fill="#000" stroke="#000" stroke-width="0.6">OH</text>
<line x1="656.00" y1="797.80" x2="658.20" y2="804.50" stroke="#262626" stroke-width="0.85" stroke-linecap="round" />
<line x1="658.20" y1="805.40" x2="665.80" y2="805.40" stroke="#262626" stroke-width="0.85" stroke-linecap="round" />
<line x1="658.20" y1="802.80" x2="665.80" y2="802.80" stroke="#262626" stroke-width="0.85" stroke-linecap="round" />
<text transform="translate(669.00,806.14) scale(0.095,0.1)" class="se" font-size="60.3" font-weight="normal" text-anchor="middle" fill="#000" stroke="#000" stroke-width="0.6">O</text>
<polyline points="638.50,813.30 634.00,820.90 638.50,828.51 634.00,836.11 638.50,843.71 634.00,851.31 638.50,858.92 634.00,866.52 638.50,874.12 634.00,881.88 638.50,890.16 634.00,898.45 638.50,907.16 634.00,918.03 638.50,928.90" fill="none" stroke="#262626" stroke-width="0.85" stroke-linejoin="round" stroke-linecap="round" />
<polyline points="658.20,804.50 653.80,812.25 658.20,820.00 653.80,827.75 658.20,835.50 653.80,843.25 658.20,851.00 653.80,858.75 658.20,866.50 653.80,874.25 658.20,882.00 653.80,889.75 658.20,897.51 653.80,905.26 658.20,913.01 653.80,920.76 658.20,929.77 653.80,938.78 658.20,947.80 653.80,956.81 658.20,965.83 653.80,974.84 658.20,983.85 653.80,992.87 658.20,1003.83 653.80,1014.80" fill="none" stroke="#262626" stroke-width="0.85" stroke-linejoin="round" stroke-linecap="round" />
<text transform="translate(733.30,747.89) scale(0.095,0.1)" class="se" font-size="65.0" font-weight="normal" text-anchor="middle" fill="#000" stroke="#000" stroke-width="0.6">P</text>
<text transform="translate(718.90,747.89) scale(0.095,0.1)" class="se" font-size="65.0" font-weight="normal" text-anchor="middle" fill="#000" stroke="#000" stroke-width="0.6">O</text>
<line x1="722.20" y1="746.90" x2="730.40" y2="746.90" stroke="#262626" stroke-width="0.85" stroke-linecap="round" />
<line x1="722.20" y1="744.30" x2="730.40" y2="744.30" stroke="#262626" stroke-width="0.85" stroke-linecap="round" />
<line x1="735.31" y1="742.86" x2="739.70" y2="736.85" stroke="#262626" stroke-width="0.85" stroke-linecap="round" />
<text transform="translate(742.30,735.59) scale(0.095,0.1)" class="se" font-size="65.0" font-weight="normal" text-anchor="middle" fill="#000" stroke="#000" stroke-width="0.6">OH</text>
<text transform="translate(746.90,747.89) scale(0.095,0.1)" class="se" font-size="65.0" font-weight="normal" text-anchor="middle" fill="#000" stroke="#000" stroke-width="0.6">O</text>
<line x1="736.20" y1="745.60" x2="743.80" y2="745.60" stroke="#262626" stroke-width="0.85" stroke-linecap="round" />
<line x1="749.90" y1="744.80" x2="761.00" y2="742.00" stroke="#262626" stroke-width="0.85" stroke-linecap="round" />
<line x1="734.03" y1="749.12" x2="735.91" y2="758.17" stroke="#262626" stroke-width="0.85" stroke-linecap="round" />
<text transform="translate(736.60,763.79) scale(0.095,0.1)" class="se" font-size="65.0" font-weight="normal" text-anchor="middle" fill="#000" stroke="#000" stroke-width="0.6">O</text>
<line x1="735.00" y1="764.04" x2="730.40" y2="771.30" stroke="#262626" stroke-width="0.85" stroke-linecap="round" />
<polyline points="730.40,771.30 734.90,782.30 729.00,793.20" fill="none" stroke="#262626" stroke-width="0.85" stroke-linejoin="round" stroke-linecap="round" />
<line x1="734.90" y1="782.30" x2="745.90" y2="782.30" stroke="#262626" stroke-width="0.85" stroke-linecap="round" />
<text transform="translate(751.30,784.59) scale(0.095,0.1)" class="se" font-size="65.0" font-weight="normal" text-anchor="middle" fill="#000" stroke="#000" stroke-width="0.6">OH</text>
<line x1="729.00" y1="793.20" x2="733.42" y2="800.99" stroke="#262626" stroke-width="0.85" stroke-linecap="round" />
<text transform="translate(734.90,805.89) scale(0.095,0.1)" class="se" font-size="65.0" font-weight="normal" text-anchor="middle" fill="#000" stroke="#000" stroke-width="0.6">O</text>
<line x1="733.40" y1="806.20" x2="728.60" y2="814.50" stroke="#262626" stroke-width="0.85" stroke-linecap="round" />
<polyline points="728.60,814.50 734.90,824.93 728.60,835.35 734.90,845.78 728.60,856.21 734.90,866.63 728.60,877.06 734.90,887.49 728.60,897.91 734.90,908.34 728.60,918.77 734.90,929.19 728.60,939.62 734.90,950.05 728.60,960.47 734.90,970.90" fill="none" stroke="#262626" stroke-width="0.85" stroke-linejoin="round" stroke-linecap="round" />
</svg>
</body>
</html>
